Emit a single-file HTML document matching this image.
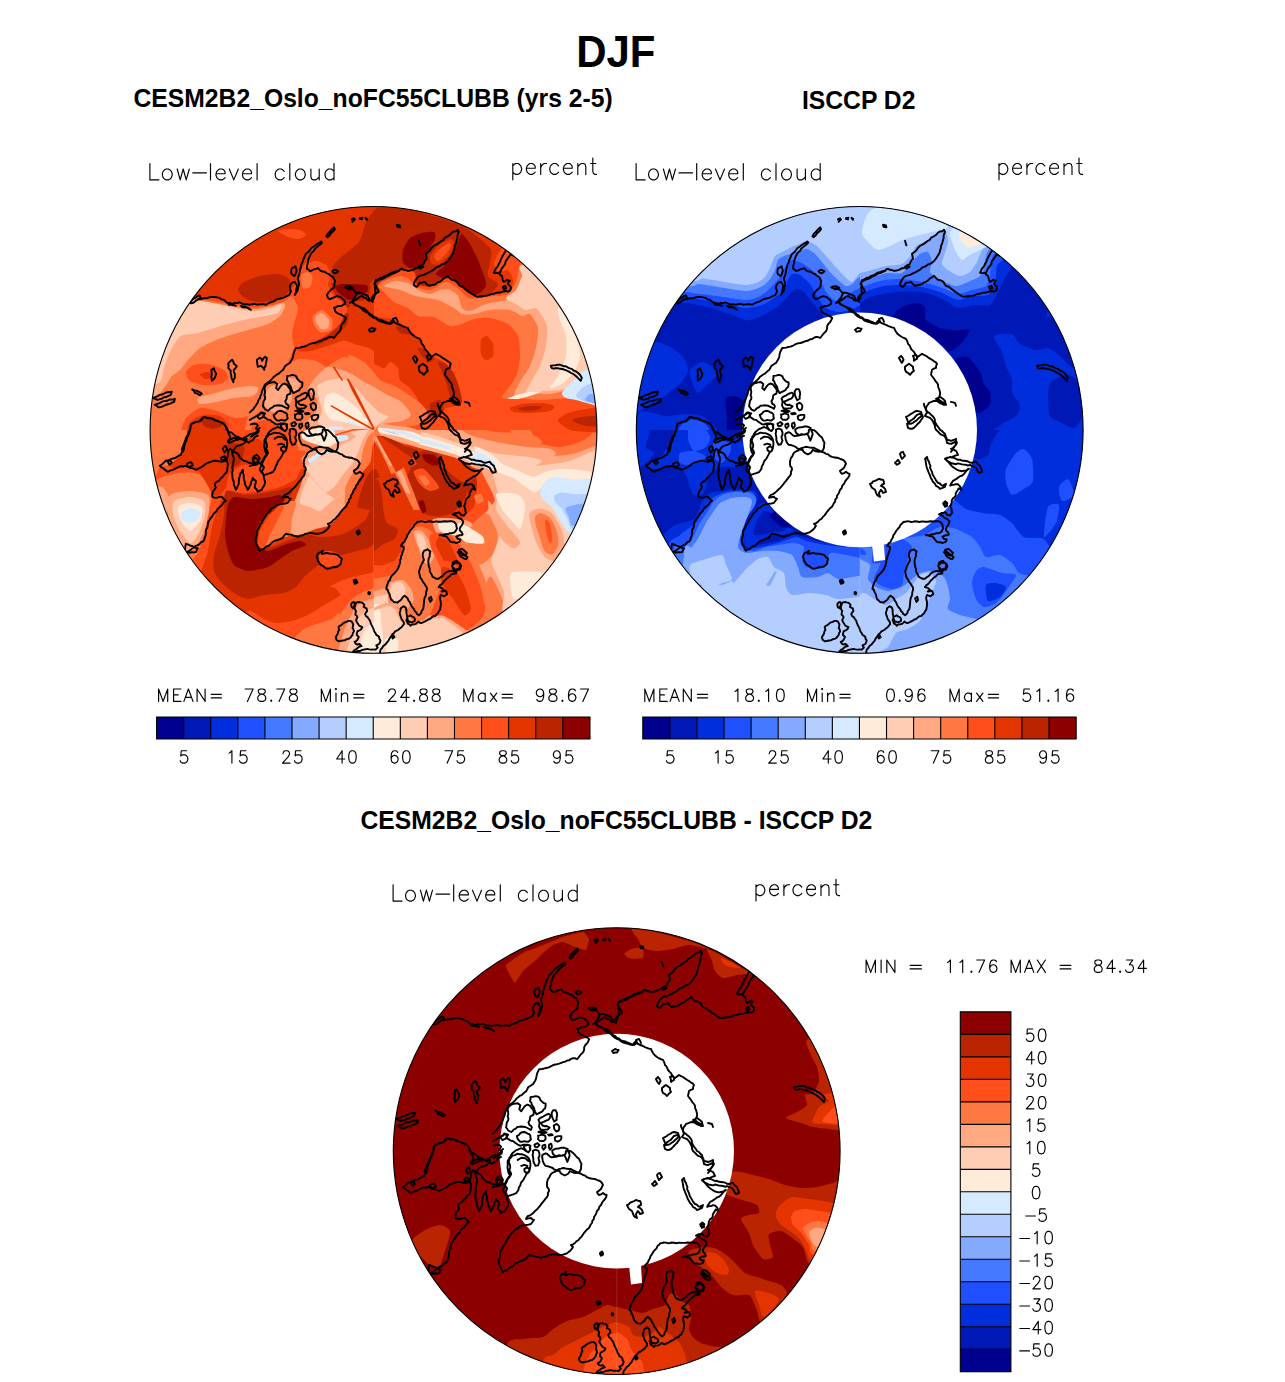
<!DOCTYPE html>
<html><head><meta charset="utf-8"><title>DJF Low-level cloud</title>
<style>
html,body{margin:0;padding:0;background:#fff;}
body{width:1285px;height:1382px;position:relative;overflow:hidden;font-family:"Liberation Sans",sans-serif;}
.t{position:absolute;font-weight:bold;color:#000;white-space:nowrap;line-height:1;}
svg{position:absolute;left:0;top:0;}
</style></head><body>
<svg width="1285" height="1382" viewBox="0 0 1285 1382">
<defs><clipPath id="clip0"><circle cx="373.5" cy="429.9" r="223.4"/></clipPath><clipPath id="clip1"><circle cx="859.7" cy="429.9" r="223.4"/></clipPath><clipPath id="clip2"><circle cx="616.7" cy="1151.1" r="223.4"/></clipPath>
</defs>
<rect width="1285" height="1382" fill="#fff"/>
<g clip-path="url(#clip0)"><path d="M140.0 196.0 L610.0 196.0 L610.0 664.0 L140.0 664.0Z" fill="#ff4e1a"/><clipPath id="ac1"><rect x="140" y="196" width="234" height="234"/></clipPath><g clip-path="url(#ac1)"><path d="M130.0 300.0C137.1 312.8 182.1 296.4 191.0 296.0C199.9 295.6 202.2 296.5 206.0 297.0C209.8 297.5 220.5 299.3 224.0 300.0C227.5 300.7 232.7 302.4 236.0 303.0C239.3 303.6 248.3 305.0 252.0 305.0C255.7 305.0 264.7 303.8 268.0 303.0C271.3 302.2 277.6 299.2 280.0 298.0C282.4 296.8 287.2 294.6 289.0 293.0C290.8 291.4 293.7 286.4 295.0 284.0C296.3 281.6 298.7 274.4 300.0 272.0C301.3 269.6 304.1 264.3 306.0 263.0C307.9 261.7 313.7 260.8 316.0 261.0C318.3 261.2 324.2 263.4 326.0 265.0C327.8 266.6 330.8 272.7 331.0 275.0C331.2 277.3 327.8 282.8 328.0 285.0C328.2 287.2 331.5 292.1 333.0 294.0C334.5 295.9 339.4 299.4 341.0 301.0C342.6 302.6 346.5 306.0 347.0 308.0C347.5 310.0 346.1 315.9 345.0 318.0C343.9 320.1 340.0 324.1 338.0 326.0C336.0 327.9 330.8 332.1 328.0 334.0C325.2 335.9 317.3 340.6 314.0 342.0C310.7 343.4 301.9 345.3 300.0 346.4C298.1 347.4 296.8 350.5 298.0 351.0C299.2 351.5 306.0 351.8 310.0 351.0C314.0 350.2 328.0 345.6 332.0 344.4C336.0 343.2 341.2 340.4 344.0 340.4C346.8 340.4 353.0 343.5 356.0 344.4C359.0 345.3 367.2 347.3 370.0 348.4C372.8 349.5 376.9 353.0 380.0 354.0C383.1 355.0 392.3 356.6 397.0 357.0C401.7 357.4 417.3 376.9 420.0 357.0C422.7 337.1 453.8 205.9 420.0 186.0C386.2 166.1 163.8 172.7 130.0 186.0C96.2 199.3 122.9 287.2 130.0 300.0Z" fill="#e43400"/><path d="M278.0 231.0C278.0 230.1 285.4 229.1 288.0 229.0C290.6 228.9 297.9 229.3 300.0 230.0C302.1 230.7 306.2 233.9 306.0 235.0C305.8 236.1 300.1 238.8 298.0 239.0C295.9 239.2 290.3 237.9 288.0 237.0C285.7 236.1 278.0 231.9 278.0 231.0Z" fill="#ff4e1a"/><path d="M238.0 290.0C237.8 288.0 241.4 283.6 244.0 282.0C246.6 280.4 256.0 276.9 260.0 276.0C264.0 275.1 274.7 273.8 278.0 274.0C281.3 274.2 286.5 276.6 288.0 278.0C289.5 279.4 291.1 284.1 291.0 286.0C290.9 287.9 288.8 292.4 287.0 294.0C285.2 295.6 279.1 299.1 276.0 300.0C272.9 300.9 263.5 302.1 260.0 302.0C256.5 301.9 248.6 300.4 246.0 299.0C243.4 297.6 238.2 292.0 238.0 290.0Z" fill="#ba2400"/><path d="M376.0 207.0C374.8 210.0 368.0 217.9 366.0 222.0C364.0 226.1 362.0 237.8 359.0 242.0C356.0 246.2 343.0 255.2 340.0 258.0C337.0 260.8 333.9 263.9 333.0 266.0C332.1 268.1 331.4 273.7 332.0 276.0C332.6 278.3 335.7 285.1 338.0 286.0C340.3 286.9 348.5 284.1 352.0 284.0C355.5 283.9 365.3 285.7 368.0 285.0C370.7 284.3 372.9 279.3 375.0 278.0C377.1 276.7 383.4 274.9 386.0 274.0C388.6 273.1 393.0 270.5 397.0 270.0C401.0 269.5 417.3 278.6 420.0 270.0C422.7 261.4 425.1 204.6 420.0 196.0C414.9 187.4 381.1 194.7 376.0 196.0C370.9 197.3 377.2 204.0 376.0 207.0Z" fill="#ba2400"/><path d="M332.0 284.0C332.8 282.6 337.8 282.0 342.0 282.0C346.2 282.0 364.7 282.8 368.0 284.0C371.3 285.2 370.5 290.1 370.0 292.0C369.5 293.9 366.1 298.8 364.0 300.0C361.9 301.2 353.9 301.1 352.0 302.0C350.1 302.9 349.2 308.2 348.0 308.0C346.8 307.8 343.5 301.6 342.0 300.0C340.5 298.4 336.2 295.9 335.0 294.0C333.8 292.1 331.2 285.4 332.0 284.0Z" fill="#ba2400"/><path d="M349.0 314.0C349.1 315.4 347.8 323.4 346.0 326.0C344.2 328.6 337.0 333.9 334.0 336.0C331.0 338.1 322.3 342.8 320.0 344.0C317.7 345.2 314.0 346.4 314.0 346.0C314.0 345.6 317.9 342.0 320.0 340.4C322.1 338.8 329.7 334.3 332.0 332.4C334.3 330.5 338.5 326.5 340.0 324.4C341.5 322.3 343.9 315.2 345.0 314.0C346.1 312.8 348.9 312.6 349.0 314.0Z" fill="#ba2400"/><path d="M335.0 287.0C335.2 285.8 338.4 284.2 342.0 284.0C345.6 283.8 363.1 284.1 366.0 285.0C368.9 285.9 368.2 290.7 367.0 292.0C365.8 293.3 358.1 295.1 356.0 296.0C353.9 296.9 350.9 300.2 349.0 300.0C347.1 299.8 341.6 295.5 340.0 294.0C338.4 292.5 334.8 288.2 335.0 287.0Z" fill="#8c0000"/><path d="M301.0 276.0C301.5 274.1 305.7 272.0 307.0 272.0C308.3 272.0 312.0 274.3 312.4 276.0C312.8 277.7 311.5 285.0 310.4 286.4C309.3 287.8 304.1 289.6 303.0 288.4C301.9 287.2 300.5 277.9 301.0 276.0Z" fill="#ff7842"/><path d="M313.0 316.0C314.0 314.4 319.8 309.6 322.0 310.0C324.2 310.4 330.9 316.7 332.0 319.0C333.1 321.3 332.4 328.5 331.0 330.0C329.6 331.5 322.0 332.7 320.0 332.0C318.0 331.3 314.4 325.9 313.6 324.0C312.8 322.1 312.0 317.6 313.0 316.0Z" fill="#ff7842"/><path d="M316.0 316.0C316.7 314.9 320.5 312.5 322.0 313.0C323.5 313.5 328.3 318.2 329.0 320.0C329.7 321.8 328.9 326.9 328.0 328.0C327.1 329.1 322.4 329.7 321.0 329.0C319.6 328.3 316.6 323.5 316.0 322.0C315.4 320.5 315.3 317.1 316.0 316.0Z" fill="#ffa882"/><path d="M130.0 298.4C137.1 280.4 180.5 297.9 191.0 298.4C201.5 298.9 212.9 301.3 220.0 302.4C227.1 303.4 246.2 307.0 252.0 307.4C257.8 307.8 266.3 306.1 270.0 305.4C273.7 304.7 281.4 302.4 284.0 301.4C286.6 300.3 290.4 295.6 292.0 296.4C293.6 297.2 297.8 304.8 298.0 308.0C298.2 311.2 294.7 320.7 294.0 324.0C293.3 327.3 292.0 333.2 292.0 336.0C292.0 338.8 294.5 345.0 294.0 348.0C293.5 351.0 289.6 359.2 288.0 362.0C286.4 364.8 282.3 370.4 280.0 372.0C277.7 373.6 270.3 374.6 268.0 376.0C265.7 377.4 261.4 381.7 260.0 384.0C258.6 386.3 256.9 393.2 256.0 396.0C255.1 398.8 252.9 405.7 252.0 408.0C251.1 410.3 249.9 414.8 248.0 416.0C246.1 417.2 238.8 418.2 236.0 418.0C233.2 417.8 226.6 414.9 224.0 414.0C221.4 413.1 216.8 410.7 214.0 410.0C211.2 409.3 203.3 407.1 200.0 408.0C196.7 408.9 188.3 415.2 186.0 418.0C183.7 420.8 181.9 427.9 180.0 432.0C178.1 436.1 175.8 450.6 170.0 453.0C164.2 455.4 134.7 471.0 130.0 453.0C125.3 435.0 122.9 316.4 130.0 298.4Z" fill="#ff7842"/><path d="M186.0 372.0C186.5 370.1 191.4 365.9 194.0 365.0C196.6 364.1 204.5 363.4 208.0 364.0C211.5 364.6 221.7 368.4 224.0 370.0C226.3 371.6 228.5 376.4 228.0 378.0C227.5 379.6 222.8 383.2 220.0 384.0C217.2 384.8 207.5 385.4 204.0 385.0C200.5 384.6 192.1 382.5 190.0 381.0C187.9 379.5 185.5 373.9 186.0 372.0Z" fill="#ff4e1a"/><path d="M200.0 374.4C200.2 373.6 206.6 371.8 208.0 372.0C209.4 372.2 212.6 375.2 212.4 376.0C212.2 376.8 207.4 379.4 206.0 379.2C204.6 379.0 199.8 375.2 200.0 374.4Z" fill="#e43400"/><path d="M130.0 300.4C137.1 289.2 180.5 299.9 191.0 300.4C201.5 300.9 212.9 303.3 220.0 304.4C227.1 305.4 246.2 309.1 252.0 309.4C257.8 309.7 266.4 307.6 270.0 306.8C273.6 306.0 281.2 302.4 283.0 302.4C284.8 302.4 285.4 304.8 285.0 306.4C284.6 308.0 282.0 313.9 280.0 316.0C278.0 318.1 271.3 322.5 268.0 324.0C264.7 325.5 256.0 327.8 252.0 329.0C248.0 330.2 238.2 332.7 234.0 334.0C229.8 335.3 220.0 338.4 216.0 340.0C212.0 341.6 203.3 345.7 200.0 348.0C196.7 350.3 190.3 357.4 188.0 360.0C185.7 362.6 181.9 368.1 180.0 370.0C178.1 371.9 173.9 373.9 172.0 376.0C170.1 378.1 165.9 385.7 164.0 388.0C162.1 390.3 160.0 395.1 156.0 396.0C152.0 396.9 133.0 407.2 130.0 396.0C127.0 384.8 122.9 311.6 130.0 300.4Z" fill="#ffa882"/><path d="M189.0 301.6C192.5 299.8 195.9 300.4 200.0 300.8C204.1 301.2 217.9 304.2 224.0 305.4C230.1 306.6 246.6 311.0 252.0 311.4C257.4 311.8 266.5 309.2 270.0 308.4C273.5 307.6 280.7 303.9 281.6 304.4C282.5 304.9 280.5 311.5 278.0 313.0C275.5 314.5 263.5 316.3 260.0 317.0C256.5 317.7 252.2 318.1 248.0 319.0C243.8 319.9 229.8 323.4 224.0 325.0C218.2 326.6 202.8 331.8 198.0 333.0C193.2 334.2 185.4 334.2 183.0 335.0C180.6 335.8 178.5 338.0 177.0 340.0C175.5 342.0 171.5 348.7 170.0 352.0C168.5 355.3 165.2 364.5 164.0 368.0C162.8 371.5 161.9 380.4 160.0 382.0C158.1 383.6 149.4 387.4 148.0 382.0C146.6 376.6 145.4 343.7 148.0 336.0C150.6 328.3 165.2 320.0 170.0 316.0C174.8 312.0 185.5 303.4 189.0 301.6Z" fill="#ffcdb4"/><path d="M198.0 398.0C199.9 396.7 211.8 394.2 216.0 393.0C220.2 391.8 229.8 388.8 234.0 388.0C238.2 387.2 249.0 385.9 252.0 386.0C255.0 386.1 260.0 387.8 260.0 389.0C260.0 390.2 255.0 394.9 252.0 396.0C249.0 397.1 238.2 397.3 234.0 398.0C229.8 398.7 220.0 401.3 216.0 402.0C212.0 402.7 202.1 404.5 200.0 404.0C197.9 403.5 196.1 399.3 198.0 398.0Z" fill="#ffa882"/><path d="M252.0 408.0C253.4 404.3 258.1 387.7 260.0 384.0C261.9 380.3 265.7 377.4 268.0 376.0C270.3 374.6 277.2 373.6 280.0 372.0C282.8 370.4 289.7 363.5 292.0 362.0C294.3 360.5 297.2 359.1 300.0 359.0C302.8 358.9 312.3 359.5 316.0 361.0C319.7 362.5 329.0 368.9 332.0 372.0C335.0 375.1 340.8 378.6 342.0 388.0C343.2 397.4 353.0 445.4 342.0 453.0C331.0 460.6 259.0 457.3 248.0 453.0C237.0 448.7 247.5 421.2 248.0 416.0C248.5 410.8 250.6 411.7 252.0 408.0Z" fill="#ff7842"/><path d="M268.0 388.0C270.3 385.7 281.2 382.8 284.0 384.0C286.8 385.2 291.9 395.0 292.0 398.0C292.1 401.0 287.3 408.4 285.0 410.0C282.7 411.6 274.4 412.7 272.0 412.0C269.6 411.3 264.5 406.8 264.0 404.0C263.5 401.2 265.7 390.3 268.0 388.0Z" fill="#ffa882"/><path d="M288.0 378.0C288.9 377.1 296.6 379.1 298.0 380.0C299.4 380.9 300.5 384.5 300.0 386.0C299.5 387.5 295.2 392.8 294.0 393.0C292.8 393.2 290.7 389.8 290.0 388.0C289.3 386.2 287.1 378.9 288.0 378.0Z" fill="#ffa882"/><path d="M252.0 426.0C253.4 422.1 260.7 420.0 264.0 420.0C267.3 420.0 277.7 423.7 280.0 426.0C282.3 428.3 284.5 436.9 284.0 440.0C283.5 443.1 279.7 451.5 276.0 453.0C272.3 454.5 254.8 456.1 252.0 453.0C249.2 449.9 250.6 429.9 252.0 426.0Z" fill="#ff4e1a"/><path d="M190.0 422.0C192.1 419.6 200.5 415.7 204.0 415.0C207.5 414.3 217.2 414.9 220.0 416.0C222.8 417.1 226.8 421.7 228.0 424.0C229.2 426.3 228.1 433.9 230.0 436.0C231.9 438.1 241.4 440.0 244.0 442.0C246.6 444.0 259.5 451.7 252.0 453.0C244.5 454.3 187.7 455.0 180.0 453.0C172.3 451.0 184.8 439.6 186.0 436.0C187.2 432.4 187.9 424.4 190.0 422.0Z" fill="#e43400"/><path d="M202.0 419.0C203.4 418.1 213.7 417.6 216.0 418.4C218.3 419.2 222.5 424.8 222.0 426.0C221.5 427.2 214.1 429.0 212.0 429.0C209.9 429.0 205.2 427.2 204.0 426.0C202.8 424.8 200.6 419.9 202.0 419.0Z" fill="#ba2400"/></g><clipPath id="ac2"><rect x="374" y="196" width="236" height="234"/></clipPath><g clip-path="url(#ac2)"><path d="M340.0 294.0C342.6 306.8 358.3 295.2 362.0 296.0C365.7 296.8 370.2 301.7 372.0 301.0C373.8 300.3 376.1 292.2 377.0 290.0C377.9 287.8 378.0 283.8 380.0 282.0C382.0 280.2 391.0 276.0 394.0 274.4C397.0 272.8 403.6 268.6 406.0 268.4C408.4 268.2 413.7 271.2 415.0 273.0C416.3 274.8 415.2 282.4 417.0 284.0C418.8 285.6 426.6 287.1 430.0 286.4C433.4 285.7 442.7 278.6 446.0 278.4C449.3 278.2 455.2 282.5 458.0 284.4C460.8 286.3 467.4 293.0 470.0 294.4C472.6 295.8 477.2 296.2 480.0 296.0C482.8 295.8 490.5 293.1 494.0 292.4C497.5 291.7 507.8 291.8 510.0 290.4C512.2 289.0 513.2 282.3 513.0 280.0C512.8 277.7 509.6 271.3 508.0 270.4C506.4 269.5 500.6 272.7 499.0 272.0C497.4 271.3 494.1 266.1 494.0 264.0C493.9 261.9 496.8 256.1 498.0 254.0C499.2 251.9 502.6 247.4 504.0 246.0C505.4 244.6 507.0 243.2 510.0 242.0C513.0 240.8 527.7 242.5 530.0 236.0C532.3 229.5 552.2 191.8 530.0 186.0C507.8 180.2 362.2 173.4 340.0 186.0C317.8 198.6 337.4 281.2 340.0 294.0Z" fill="#e43400"/><path d="M368.0 220.0C369.4 216.7 373.1 209.2 378.0 208.0C382.9 206.8 400.2 207.9 410.0 210.0C419.8 212.1 452.7 221.6 462.0 226.0C471.3 230.4 486.7 243.8 490.0 248.0C493.3 252.2 490.2 258.7 490.0 262.0C489.8 265.3 487.1 273.4 488.0 276.0C488.9 278.6 497.8 281.9 498.0 284.0C498.2 286.1 492.8 292.7 490.0 294.0C487.2 295.3 477.7 296.2 474.0 295.0C470.3 293.8 461.3 286.0 458.0 284.0C454.7 282.0 449.3 277.8 446.0 278.0C442.7 278.2 433.4 285.3 430.0 286.0C426.6 286.7 418.8 285.5 417.0 284.0C415.2 282.5 416.3 274.8 415.0 273.0C413.7 271.2 408.4 268.2 406.0 268.4C403.6 268.6 397.0 272.8 394.0 274.4C391.0 276.0 382.0 280.2 380.0 282.0C378.0 283.8 377.9 287.8 377.0 290.0C376.1 292.2 373.8 300.3 372.0 301.0C370.2 301.7 364.6 296.8 362.0 296.0C359.4 295.2 352.6 294.5 350.0 294.0C347.4 293.5 341.2 294.6 340.0 292.0C338.8 289.4 338.8 274.6 340.0 272.0C341.2 269.4 347.9 271.9 350.0 270.0C352.1 268.1 356.1 260.0 358.0 256.0C359.9 252.0 364.8 240.2 366.0 236.0C367.2 231.8 366.6 223.3 368.0 220.0Z" fill="#ba2400"/><path d="M403.0 250.0C403.8 247.2 407.8 240.0 410.0 238.0C412.2 236.0 419.2 233.7 422.0 233.0C424.8 232.3 432.5 231.3 434.0 232.0C435.5 232.7 435.5 237.1 435.0 239.0C434.5 240.9 431.1 245.8 430.0 248.0C428.9 250.2 427.2 255.9 426.0 258.0C424.8 260.1 421.9 264.8 420.0 266.0C418.1 267.2 412.0 268.5 410.0 268.0C408.0 267.5 403.8 264.1 403.0 262.0C402.2 259.9 402.2 252.8 403.0 250.0Z" fill="#8c0000"/><path d="M436.0 274.0C436.0 272.6 442.1 268.1 444.0 266.0C445.9 263.9 450.2 259.0 452.0 256.0C453.8 253.0 457.8 242.6 459.0 240.0C460.2 237.4 460.7 233.5 462.0 234.0C463.3 234.5 468.1 241.0 470.0 244.0C471.9 247.0 476.4 256.3 478.0 260.0C479.6 263.7 483.1 273.0 484.0 276.0C484.9 279.0 486.7 283.9 486.0 286.0C485.3 288.1 479.9 293.1 478.0 294.0C476.1 294.9 472.3 295.2 470.0 294.0C467.7 292.8 460.3 286.1 458.0 284.0C455.7 281.9 451.6 276.7 450.0 276.0C448.4 275.3 445.6 278.2 444.0 278.0C442.4 277.8 436.0 275.4 436.0 274.0Z" fill="#8c0000"/><path d="M430.0 256.0C430.7 253.9 435.7 248.0 438.0 246.0C440.3 244.0 448.1 239.5 450.0 239.0C451.9 238.5 454.0 240.2 454.0 242.0C454.0 243.8 451.6 251.4 450.0 254.0C448.4 256.6 442.1 262.8 440.0 264.0C437.9 265.2 433.2 264.9 432.0 264.0C430.8 263.1 429.3 258.1 430.0 256.0Z" fill="#e43400"/><path d="M434.0 256.0C434.2 254.6 438.2 250.5 440.0 249.0C441.8 247.5 447.7 243.3 449.0 243.0C450.3 242.7 451.4 244.7 451.0 246.0C450.6 247.3 447.5 252.2 446.0 254.0C444.5 255.8 439.4 260.8 438.0 261.0C436.6 261.2 433.8 257.4 434.0 256.0Z" fill="#ff4e1a"/><path d="M346.0 284.0C347.4 283.2 355.7 284.3 358.0 285.0C360.3 285.7 364.9 288.7 366.0 290.0C367.1 291.3 367.9 295.3 367.0 296.0C366.1 296.7 360.4 296.5 358.0 296.0C355.6 295.5 347.4 293.4 346.0 292.0C344.6 290.6 344.6 284.8 346.0 284.0Z" fill="#8c0000"/><path d="M378.0 285.0C378.7 283.4 387.2 279.4 390.0 278.4C392.8 277.3 399.7 275.8 402.0 276.0C404.3 276.2 408.4 278.8 410.0 280.0C411.6 281.2 413.7 285.2 416.0 286.4C418.3 287.6 426.5 290.5 430.0 290.0C433.5 289.5 442.7 282.2 446.0 282.0C449.3 281.8 455.2 286.5 458.0 288.4C460.8 290.3 466.3 297.5 470.0 298.4C473.7 299.3 485.6 296.9 490.0 296.4C494.4 295.9 505.0 295.7 508.0 294.0C511.0 292.3 514.4 285.7 516.0 282.0C517.6 278.3 518.0 265.0 522.0 262.0C526.0 259.0 537.4 256.7 550.0 256.0C562.6 255.3 620.7 239.4 630.0 256.0C639.3 272.6 637.0 381.4 630.0 398.0C623.0 414.6 580.5 397.8 570.0 398.0C559.5 398.2 545.8 400.0 540.0 400.0C534.2 400.0 523.7 398.1 520.0 398.0C516.3 397.9 510.1 399.1 508.0 399.0C505.9 398.9 501.8 398.5 502.0 397.0C502.2 395.5 508.2 388.7 510.0 386.0C511.8 383.3 515.8 377.5 517.0 374.0C518.2 370.5 519.9 360.4 520.0 356.0C520.1 351.6 519.4 339.7 518.0 336.0C516.6 332.3 511.3 326.1 508.0 324.0C504.7 321.9 494.0 318.6 490.0 318.0C486.0 317.4 477.3 318.3 474.0 319.0C470.7 319.7 464.8 323.2 462.0 324.0C459.2 324.8 453.3 326.8 450.0 326.0C446.7 325.2 437.7 318.2 434.0 317.0C430.3 315.8 421.0 317.1 418.0 316.0C415.0 314.9 410.8 309.6 408.0 308.0C405.2 306.4 396.8 303.9 394.0 302.0C391.2 300.1 385.9 294.0 384.0 292.0C382.1 290.0 377.3 286.6 378.0 285.0Z" fill="#ff7842"/><path d="M384.0 286.0C383.5 284.9 393.0 281.2 396.0 281.0C399.0 280.8 407.4 282.9 410.0 284.0C412.6 285.1 415.7 288.8 418.0 290.0C420.3 291.2 427.4 294.0 430.0 294.0C432.6 294.0 437.7 290.5 440.0 290.0C442.3 289.5 447.9 289.3 450.0 290.0C452.1 290.7 456.6 293.9 458.0 296.0C459.4 298.1 460.6 306.2 462.0 308.0C463.4 309.8 467.2 311.5 470.0 311.0C472.8 310.5 481.8 305.3 486.0 304.0C490.2 302.7 502.3 301.6 506.0 300.0C509.7 298.4 515.9 292.8 518.0 290.0C520.1 287.2 522.6 278.8 524.0 276.0C525.4 273.2 517.6 267.2 530.0 266.0C542.4 264.8 618.3 252.0 630.0 266.0C641.7 280.0 635.8 371.8 630.0 386.0C624.2 400.2 589.3 387.1 580.0 388.0C570.7 388.9 555.8 393.4 550.0 394.0C544.2 394.6 534.2 392.8 530.0 393.0C525.8 393.2 515.2 397.3 514.0 396.0C512.8 394.7 518.1 385.5 520.0 382.0C521.9 378.5 528.1 370.0 530.0 366.0C531.9 362.0 535.1 352.4 536.0 348.0C536.9 343.6 538.7 332.0 538.0 328.0C537.3 324.0 531.9 315.4 530.0 314.0C528.1 312.6 524.3 316.5 522.0 316.0C519.7 315.5 513.7 310.7 510.0 310.0C506.3 309.3 494.2 309.5 490.0 310.0C485.8 310.5 477.3 313.5 474.0 314.0C470.7 314.5 464.3 314.7 462.0 314.0C459.7 313.3 456.8 309.6 454.0 308.0C451.2 306.4 442.4 301.4 438.0 300.0C433.6 298.6 420.4 297.2 416.0 296.0C411.6 294.8 403.7 291.2 400.0 290.0C396.3 288.8 384.5 287.1 384.0 286.0Z" fill="#ffa882"/><path d="M506.0 298.0C506.0 296.4 514.1 292.6 516.0 290.0C517.9 287.4 520.8 279.0 522.0 276.0C523.2 273.0 513.4 265.4 526.0 264.0C538.6 262.6 617.9 250.0 630.0 264.0C642.1 278.0 635.8 369.8 630.0 384.0C624.2 398.2 588.2 385.3 580.0 386.0C571.8 386.7 564.7 389.4 560.0 390.0C555.3 390.6 544.0 390.6 540.0 391.0C536.0 391.4 527.2 393.8 526.0 393.0C524.8 392.2 528.4 387.1 530.0 384.0C531.6 380.9 538.1 370.4 540.0 366.0C541.9 361.6 545.2 350.7 546.0 346.0C546.8 341.3 547.5 329.5 547.0 326.0C546.5 322.5 543.3 318.1 542.0 316.0C540.7 313.9 537.9 308.7 536.0 308.0C534.1 307.3 528.3 310.5 526.0 310.0C523.7 309.5 518.3 305.4 516.0 304.0C513.7 302.6 506.0 299.6 506.0 298.0Z" fill="#ffcdb4"/><path d="M558.0 308.0C558.9 307.5 565.9 312.7 568.0 316.0C570.1 319.3 574.6 331.3 576.0 336.0C577.4 340.7 580.2 351.8 580.0 356.0C579.8 360.2 576.1 368.7 574.0 372.0C571.9 375.3 564.8 382.1 562.0 384.0C559.2 385.9 550.5 388.9 550.0 388.0C549.5 387.1 556.1 379.7 558.0 376.0C559.9 372.3 565.1 360.7 566.0 356.0C566.9 351.3 566.7 340.2 566.0 336.0C565.3 331.8 560.9 323.3 560.0 320.0C559.1 316.7 557.1 308.5 558.0 308.0Z" fill="#ffebd9"/><path d="M350.0 304.0C354.2 305.4 369.1 314.2 374.0 316.0C378.9 317.8 388.0 317.6 392.0 319.0C396.0 320.4 404.9 325.6 408.0 328.0C411.1 330.4 416.6 337.0 419.0 340.0C421.4 343.0 426.1 351.4 429.0 354.0C431.9 356.6 441.2 359.9 444.0 362.0C446.8 364.1 451.2 369.2 453.0 372.0C454.8 374.8 457.9 382.5 459.0 386.0C460.1 389.5 462.6 399.7 462.0 402.0C461.4 404.3 456.1 405.2 454.0 406.0C451.9 406.8 445.6 407.8 444.0 409.0C442.4 410.2 441.6 414.9 440.0 416.0C438.4 417.1 432.3 417.4 430.0 418.0C427.7 418.6 421.6 421.7 420.0 421.0C418.4 420.3 416.2 414.4 416.0 412.0C415.8 409.6 418.7 402.8 418.0 400.0C417.3 397.2 412.1 390.3 410.0 388.0C407.9 385.7 401.4 382.3 400.0 380.0C398.6 377.7 399.2 370.1 398.0 368.0C396.8 365.9 391.6 362.0 390.0 362.0C388.4 362.0 386.3 368.0 384.0 368.0C381.7 368.0 374.0 363.2 370.0 362.0C366.0 360.8 353.7 358.5 350.0 358.0C346.3 357.5 339.4 364.3 338.0 358.0C336.6 351.7 336.6 310.3 338.0 304.0C339.4 297.7 345.8 302.6 350.0 304.0Z" fill="#e43400"/><path d="M438.0 362.0C438.5 361.1 444.1 362.6 446.0 364.0C447.9 365.4 452.5 371.2 454.0 374.0C455.5 376.8 458.1 384.7 459.0 388.0C459.9 391.3 462.6 399.9 462.0 402.0C461.4 404.1 455.4 406.7 454.0 406.0C452.6 405.3 450.9 398.8 450.0 396.0C449.1 393.2 446.9 384.8 446.0 382.0C445.1 379.2 442.9 374.3 442.0 372.0C441.1 369.7 437.5 362.9 438.0 362.0Z" fill="#ba2400"/><path d="M430.0 404.0C430.9 402.1 438.4 399.4 440.0 400.0C441.6 400.6 444.0 407.1 444.0 409.0C444.0 410.9 441.4 415.2 440.0 416.0C438.6 416.8 433.2 417.4 432.0 416.0C430.8 414.6 429.1 405.9 430.0 404.0Z" fill="#ba2400"/><path d="M396.0 326.0C396.9 325.5 406.4 328.1 408.0 329.0C409.6 329.9 410.9 333.5 410.0 334.0C409.1 334.5 401.6 333.9 400.0 333.0C398.4 332.1 395.1 326.5 396.0 326.0Z" fill="#ba2400"/><path d="M418.0 348.0C418.5 347.3 424.1 348.8 426.0 350.0C427.9 351.2 433.5 356.6 434.0 358.0C434.5 359.4 431.4 362.2 430.0 362.0C428.6 361.8 423.4 357.6 422.0 356.0C420.6 354.4 417.5 348.7 418.0 348.0Z" fill="#ba2400"/><path d="M481.0 340.0C481.7 337.9 485.6 335.5 487.0 336.0C488.4 336.5 492.3 341.7 493.0 344.0C493.7 346.3 493.8 354.1 493.0 356.0C492.2 357.9 487.4 360.2 486.0 360.0C484.6 359.8 481.6 356.3 481.0 354.0C480.4 351.7 480.3 342.1 481.0 340.0Z" fill="#e43400"/><path d="M510.0 408.0C510.9 407.1 518.3 404.6 522.0 404.0C525.7 403.4 538.3 402.8 542.0 403.0C545.7 403.2 553.1 405.1 554.0 406.0C554.9 406.9 552.8 410.2 550.0 411.0C547.2 411.8 534.2 412.9 530.0 413.0C525.8 413.1 516.3 412.6 514.0 412.0C511.7 411.4 509.1 408.9 510.0 408.0Z" fill="#e43400"/><path d="M518.0 408.4C518.5 407.8 527.2 406.2 530.0 406.0C532.8 405.8 541.1 406.0 542.0 406.4C542.9 406.8 539.9 409.1 538.0 409.6C536.1 410.1 528.3 411.1 526.0 411.0C523.7 410.9 517.5 409.0 518.0 408.4Z" fill="#ba2400"/><path d="M558.0 421.0C557.5 419.1 563.4 415.3 566.0 414.0C568.6 412.7 575.2 410.7 580.0 410.0C584.8 409.3 603.9 405.4 607.0 408.0C610.1 410.6 609.0 429.2 607.0 432.0C605.0 434.8 594.3 432.2 590.0 432.0C585.7 431.8 573.7 431.3 570.0 430.0C566.3 428.7 558.5 422.9 558.0 421.0Z" fill="#e43400"/><path d="M572.0 420.6C571.5 419.6 577.9 417.5 582.0 417.0C586.1 416.5 604.1 414.9 607.0 416.0C609.9 417.1 609.5 424.8 607.0 426.0C604.5 427.2 590.1 426.6 586.0 426.0C581.9 425.4 572.5 421.7 572.0 420.6Z" fill="#ba2400"/><path d="M508.0 398.4C508.2 397.8 517.4 394.7 520.0 394.0C522.6 393.3 527.4 392.3 530.0 392.0C532.6 391.7 542.0 391.1 542.0 391.6C542.0 392.1 532.8 395.1 530.0 396.0C527.2 396.9 520.6 398.7 518.0 399.0C515.4 399.3 507.8 399.0 508.0 398.4Z" fill="#ffebd9"/><path d="M562.0 393.0C562.5 391.4 567.9 386.2 570.0 384.0C572.1 381.8 578.1 375.6 580.0 374.0C581.9 372.4 583.9 369.8 586.0 370.0C588.1 370.2 595.5 373.0 598.0 376.0C600.5 379.0 606.0 392.3 607.0 396.0C608.0 399.7 609.0 407.1 607.0 408.0C605.0 408.9 593.6 404.9 590.0 404.0C586.4 403.1 578.8 400.7 576.0 400.0C573.2 399.3 567.6 398.8 566.0 398.0C564.4 397.2 561.5 394.6 562.0 393.0Z" fill="#d6eaff"/><path d="M576.0 396.0C575.5 394.4 580.4 389.4 582.0 388.0C583.6 386.6 588.1 384.0 590.0 384.0C591.9 384.0 596.6 385.7 598.0 388.0C599.4 390.3 603.4 402.4 602.0 404.0C600.6 405.6 589.0 402.9 586.0 402.0C583.0 401.1 576.5 397.6 576.0 396.0Z" fill="#b4ceff"/><path d="M585.0 400.0C584.1 398.8 588.7 394.5 590.0 394.0C591.3 393.5 595.1 394.8 596.0 396.0C596.9 397.2 599.3 403.5 598.0 404.0C596.7 404.5 585.9 401.2 585.0 400.0Z" fill="#84aaff"/><path d="M348.1 356.5C348.1 352.1 360.3 359.8 363.2 361.5C366.1 363.3 371.2 369.4 373.2 371.6C375.2 373.7 378.1 378.6 380.7 380.3C383.4 382.1 391.4 384.1 395.8 386.6C400.1 389.1 414.5 398.4 418.3 401.6C422.1 404.8 428.3 411.5 428.3 414.2C428.3 416.8 420.9 422.7 418.3 424.2C415.7 425.6 409.3 426.1 405.8 426.7C402.3 427.3 392.0 428.8 388.2 429.2C384.4 429.6 376.1 434.0 373.2 430.5C370.3 426.9 366.1 407.8 363.2 399.1C360.3 390.5 348.1 360.9 348.1 356.5Z" fill="#ff7842"/><path d="M351.9 362.8C351.9 359.9 360.7 371.3 363.2 374.1C365.7 376.8 370.6 384.3 373.2 386.6C375.8 388.9 382.5 392.4 385.7 394.1C388.9 395.9 397.8 399.3 400.8 401.6C403.7 404.0 410.5 412.0 410.8 414.2C411.1 416.4 405.9 419.4 403.3 420.4C400.6 421.5 391.2 422.4 388.2 422.9C385.3 423.5 379.8 424.6 378.2 425.4C376.6 426.3 375.6 430.0 374.5 430.5C373.3 430.9 369.5 432.9 368.2 429.2C366.9 425.5 365.1 406.9 363.2 399.1C361.3 391.4 351.9 365.7 351.9 362.8Z" fill="#ffa882"/></g><clipPath id="ac3"><rect x="140" y="430" width="234" height="234"/></clipPath><g clip-path="url(#ac3)"><path d="M140.0 405.0C145.4 395.9 180.2 403.4 186.0 405.0C191.8 406.6 190.0 415.3 190.0 419.0C190.0 422.7 187.2 432.8 186.0 437.0C184.8 441.2 181.9 451.7 180.0 455.0C178.1 458.3 172.3 463.6 170.0 465.0C167.7 466.4 162.1 464.9 160.0 467.0C157.9 469.1 154.3 481.1 152.0 483.0C149.7 484.9 141.4 492.1 140.0 483.0C138.6 473.9 134.6 414.1 140.0 405.0Z" fill="#ff7842"/><path d="M190.0 421.0C192.1 418.4 200.5 415.0 204.0 415.0C207.5 415.0 217.2 418.9 220.0 421.0C222.8 423.1 225.2 430.7 228.0 433.0C230.8 435.3 241.2 440.5 244.0 441.0C246.8 441.5 249.7 436.8 252.0 437.0C254.3 437.2 262.1 441.1 264.0 443.0C265.9 444.9 268.5 450.4 268.0 453.0C267.5 455.6 262.8 463.6 260.0 465.0C257.2 466.4 247.5 464.1 244.0 465.0C240.5 465.9 232.1 470.4 230.0 473.0C227.9 475.6 227.2 484.4 226.0 487.0C224.8 489.6 221.6 494.1 220.0 495.0C218.4 495.9 213.4 495.9 212.0 495.0C210.6 494.1 209.4 489.6 208.0 487.0C206.6 484.4 202.3 475.3 200.0 473.0C197.7 470.7 190.8 467.5 188.0 467.0C185.2 466.5 178.1 469.2 176.0 469.0C173.9 468.8 169.5 466.6 170.0 465.0C170.5 463.4 178.1 458.3 180.0 455.0C181.9 451.7 184.8 441.0 186.0 437.0C187.2 433.0 187.9 423.6 190.0 421.0Z" fill="#e43400"/><path d="M202.0 419.0C203.4 418.3 213.7 418.1 216.0 419.0C218.3 419.9 222.5 425.8 222.0 427.0C221.5 428.2 214.1 429.2 212.0 429.0C209.9 428.8 205.2 426.2 204.0 425.0C202.8 423.8 200.6 419.7 202.0 419.0Z" fill="#ba2400"/><path d="M228.0 443.0C229.9 441.6 242.6 444.7 244.0 447.0C245.4 449.3 241.4 460.7 240.0 463.0C238.6 465.3 233.4 467.5 232.0 467.0C230.6 466.5 228.5 461.8 228.0 459.0C227.5 456.2 226.1 444.4 228.0 443.0Z" fill="#ba2400"/><path d="M208.0 551.0C209.4 544.0 210.6 532.6 212.0 527.0C213.4 521.4 218.1 507.2 220.0 503.0C221.9 498.8 225.2 492.2 228.0 491.0C230.8 489.8 239.8 493.0 244.0 493.0C248.2 493.0 259.8 491.7 264.0 491.0C268.2 490.3 276.3 488.4 280.0 487.0C283.7 485.6 293.0 481.3 296.0 479.0C299.0 476.7 297.8 468.4 306.0 467.0C314.2 465.6 357.4 466.8 366.0 467.0C374.6 467.2 376.4 468.3 380.0 469.0C383.6 469.7 395.0 462.5 397.0 473.0C399.0 483.5 398.5 548.0 397.0 559.0C395.5 570.0 387.1 565.4 384.0 567.0C380.9 568.6 373.7 571.8 370.0 573.0C366.3 574.2 356.0 575.8 352.0 577.0C348.0 578.2 339.7 581.1 336.0 583.0C332.3 584.9 323.5 590.7 320.0 593.0C316.5 595.3 309.3 601.1 306.0 603.0C302.7 604.9 295.5 608.1 292.0 609.0C288.5 609.9 279.7 610.3 276.0 611.0C272.3 611.7 263.3 615.0 260.0 615.0C256.7 615.0 250.8 609.6 248.0 611.0C245.2 612.4 241.6 629.8 236.0 627.0C230.4 624.2 203.3 595.9 200.0 587.0C196.7 578.1 206.6 558.0 208.0 551.0Z" fill="#e43400"/><path d="M226.0 491.0C228.3 488.7 239.6 494.8 244.0 495.0C248.4 495.2 259.8 493.6 264.0 493.0C268.2 492.4 277.0 490.7 280.0 490.0C283.0 489.3 288.6 486.6 290.0 487.0C291.4 487.4 292.7 491.4 292.0 493.0C291.3 494.6 285.4 499.4 284.0 501.0C282.6 502.6 281.9 505.4 280.0 507.0C278.1 508.6 270.1 513.1 268.0 515.0C265.9 516.9 263.2 520.7 262.0 523.0C260.8 525.3 258.2 532.2 258.0 535.0C257.8 537.8 258.4 545.6 260.0 547.0C261.6 548.4 268.3 547.9 272.0 547.0C275.7 546.1 287.8 540.4 292.0 539.0C296.2 537.6 304.7 535.2 308.0 535.0C311.3 534.8 316.3 537.0 320.0 537.0C323.7 537.0 335.8 536.2 340.0 535.0C344.2 533.8 353.0 528.9 356.0 527.0C359.0 525.1 364.1 521.8 366.0 519.0C367.9 516.2 371.1 506.7 372.0 503.0C372.9 499.3 373.3 490.5 374.0 487.0C374.7 483.5 376.6 474.6 378.0 473.0C379.4 471.4 384.8 470.9 386.0 473.0C387.2 475.1 388.0 486.1 388.0 491.0C388.0 495.9 386.9 509.9 386.0 515.0C385.1 520.1 381.9 531.3 380.0 535.0C378.1 538.7 373.5 544.9 370.0 547.0C366.5 549.1 354.7 551.6 350.0 553.0C345.3 554.4 334.0 557.4 330.0 559.0C326.0 560.6 319.0 564.9 316.0 567.0C313.0 569.1 306.3 574.7 304.0 577.0C301.7 579.3 298.3 585.1 296.0 587.0C293.7 588.9 287.7 592.1 284.0 593.0C280.3 593.9 268.2 594.3 264.0 595.0C259.8 595.7 251.5 599.2 248.0 599.0C244.5 598.8 237.0 594.9 234.0 593.0C231.0 591.1 224.3 585.6 222.0 583.0C219.7 580.4 214.9 574.3 214.0 571.0C213.1 567.7 213.3 559.2 214.0 555.0C214.7 550.8 218.8 539.7 220.0 535.0C221.2 530.3 223.3 520.1 224.0 515.0C224.7 509.9 223.7 493.3 226.0 491.0Z" fill="#ba2400"/><path d="M234.0 497.0C236.8 496.3 247.8 499.0 252.0 499.0C256.2 499.0 266.7 497.5 270.0 497.0C273.3 496.5 278.4 494.5 280.0 495.0C281.6 495.5 284.9 499.4 284.0 501.0C283.1 502.6 274.6 506.9 272.0 509.0C269.4 511.1 263.9 516.4 262.0 519.0C260.1 521.6 256.5 528.0 256.0 531.0C255.5 534.0 256.6 542.7 258.0 545.0C259.4 547.3 265.0 551.0 268.0 551.0C271.0 551.0 280.3 546.2 284.0 545.0C287.7 543.8 297.4 541.0 300.0 541.0C302.6 541.0 306.9 543.8 306.0 545.0C305.1 546.2 295.0 549.4 292.0 551.0C289.0 552.6 282.8 557.1 280.0 559.0C277.2 560.9 271.7 565.6 268.0 567.0C264.3 568.4 252.0 571.2 248.0 571.0C244.0 570.8 236.3 567.3 234.0 565.0C231.7 562.7 229.1 554.5 228.0 551.0C226.9 547.5 225.2 538.7 225.0 535.0C224.8 531.3 225.7 522.5 226.0 519.0C226.3 515.5 227.1 507.6 228.0 505.0C228.9 502.4 231.2 497.7 234.0 497.0Z" fill="#8c0000"/><path d="M152.0 483.0C156.7 476.7 174.4 473.9 180.0 473.0C185.6 472.1 196.3 472.4 200.0 475.0C203.7 477.6 211.1 490.8 212.0 495.0C212.9 499.2 208.7 506.8 208.0 511.0C207.3 515.2 206.9 526.8 206.0 531.0C205.1 535.2 201.6 543.7 200.0 547.0C198.4 550.3 196.7 557.6 192.0 559.0C187.3 560.4 166.1 562.7 160.0 559.0C153.9 555.3 140.9 535.9 140.0 527.0C139.1 518.1 147.3 489.3 152.0 483.0Z" fill="#ff7842"/><path d="M170.0 495.0C172.6 492.2 185.6 491.0 190.0 491.0C194.4 491.0 205.8 492.7 208.0 495.0C210.2 497.3 209.5 506.8 209.0 511.0C208.5 515.2 205.5 526.8 204.0 531.0C202.5 535.2 198.1 544.7 196.0 547.0C193.9 549.3 188.6 552.4 186.0 551.0C183.4 549.6 176.1 539.2 174.0 535.0C171.9 530.8 168.5 519.7 168.0 515.0C167.5 510.3 167.4 497.8 170.0 495.0Z" fill="#ffa882"/><path d="M174.0 501.0C176.0 498.9 186.5 497.0 190.0 497.0C193.5 497.0 202.2 498.9 204.0 501.0C205.8 503.1 205.7 511.0 205.0 515.0C204.3 519.0 199.8 531.7 198.0 535.0C196.2 538.3 192.1 543.5 190.0 543.0C187.9 542.5 182.0 534.3 180.0 531.0C178.0 527.7 173.7 518.5 173.0 515.0C172.3 511.5 172.0 503.1 174.0 501.0Z" fill="#ffcdb4"/><path d="M178.0 507.0C179.1 504.9 187.2 503.0 190.0 503.0C192.8 503.0 200.8 504.9 202.0 507.0C203.2 509.1 201.4 518.2 200.0 521.0C198.6 523.8 192.2 531.0 190.0 531.0C187.8 531.0 182.4 523.8 181.0 521.0C179.6 518.2 176.9 509.1 178.0 507.0Z" fill="#ffebd9"/><path d="M181.0 513.0C181.9 511.7 187.8 508.1 190.0 508.0C192.2 507.9 199.1 510.7 200.0 512.0C200.9 513.3 199.4 517.7 198.0 519.0C196.6 520.3 189.9 523.0 188.0 523.0C186.1 523.0 182.8 520.2 182.0 519.0C181.2 517.8 180.1 514.3 181.0 513.0Z" fill="#d6eaff"/><path d="M148.0 491.0C149.2 486.3 159.4 485.8 162.0 487.0C164.6 488.2 169.8 497.3 170.0 501.0C170.2 504.7 166.1 516.0 164.0 519.0C161.9 522.0 153.9 530.3 152.0 527.0C150.1 523.7 146.8 495.7 148.0 491.0Z" fill="#ffa882"/><path d="M310.0 455.0C311.6 453.1 316.5 452.8 320.0 453.0C323.5 453.2 335.8 455.4 340.0 457.0C344.2 458.6 353.7 464.9 356.0 467.0C358.3 469.1 360.5 472.2 360.0 475.0C359.5 477.8 354.1 486.8 352.0 491.0C349.9 495.2 344.6 507.0 342.0 511.0C339.4 515.0 333.0 522.9 330.0 525.0C327.0 527.1 319.5 527.8 316.0 529.0C312.5 530.2 303.3 534.3 300.0 535.0C296.7 535.7 289.2 536.9 288.0 535.0C286.8 533.1 289.3 522.7 290.0 519.0C290.7 515.3 292.8 506.7 294.0 503.0C295.2 499.3 298.6 491.0 300.0 487.0C301.4 483.0 304.8 472.7 306.0 469.0C307.2 465.3 308.4 456.9 310.0 455.0Z" fill="#ffa882"/><path d="M316.0 467.0C318.3 465.6 326.3 462.5 330.0 463.0C333.7 463.5 345.4 468.7 348.0 471.0C350.6 473.3 352.5 480.2 352.0 483.0C351.5 485.8 346.3 492.9 344.0 495.0C341.7 497.1 334.8 499.1 332.0 501.0C329.2 502.9 322.6 510.3 320.0 511.0C317.4 511.7 312.3 507.9 310.0 507.0C307.7 506.1 300.7 505.3 300.0 503.0C299.3 500.7 302.8 490.3 304.0 487.0C305.2 483.7 308.6 477.3 310.0 475.0C311.4 472.7 313.7 468.4 316.0 467.0Z" fill="#ffcdb4"/><path d="M260.0 547.0C259.5 545.1 262.1 535.2 264.0 531.0C265.9 526.8 273.2 514.5 276.0 511.0C278.8 507.5 285.7 501.9 288.0 501.0C290.3 500.1 295.5 500.9 296.0 503.0C296.5 505.1 292.7 515.3 292.0 519.0C291.3 522.7 291.4 532.7 290.0 535.0C288.6 537.3 282.6 537.6 280.0 539.0C277.4 540.4 270.3 546.1 268.0 547.0C265.7 547.9 260.5 548.9 260.0 547.0Z" fill="#ff7842"/><path d="M258.0 545.0C257.5 543.1 258.6 534.5 260.0 531.0C261.4 527.5 267.7 518.0 270.0 515.0C272.3 512.0 278.4 505.9 280.0 505.0C281.6 504.1 284.2 505.4 284.0 507.0C283.8 508.6 279.6 515.7 278.0 519.0C276.4 522.3 271.6 531.7 270.0 535.0C268.4 538.3 265.4 545.8 264.0 547.0C262.6 548.2 258.5 546.9 258.0 545.0Z" fill="#ff4e1a"/><path d="M320.0 553.0C321.2 551.6 327.7 550.8 330.0 551.0C332.3 551.2 338.8 553.6 340.0 555.0C341.2 556.4 341.2 561.6 340.0 563.0C338.8 564.4 332.3 567.0 330.0 567.0C327.7 567.0 321.2 564.6 320.0 563.0C318.8 561.4 318.8 554.4 320.0 553.0Z" fill="#ff4e1a"/><path d="M252.0 609.0C252.5 607.4 264.3 605.2 268.0 605.0C271.7 604.8 280.3 607.7 284.0 607.0C287.7 606.3 296.3 600.6 300.0 599.0C303.7 597.4 312.3 594.4 316.0 593.0C319.7 591.6 329.2 586.8 332.0 587.0C334.8 587.2 340.9 592.9 340.0 595.0C339.1 597.1 327.7 602.7 324.0 605.0C320.3 607.3 311.7 613.1 308.0 615.0C304.3 616.9 295.7 620.1 292.0 621.0C288.3 621.9 279.3 623.2 276.0 623.0C272.7 622.8 266.8 620.6 264.0 619.0C261.2 617.4 251.5 610.6 252.0 609.0Z" fill="#e43400"/><path d="M292.0 643.0C292.5 638.9 300.7 631.3 304.0 629.0C307.3 626.7 316.7 624.2 320.0 623.0C323.3 621.8 329.7 619.9 332.0 619.0C334.3 618.1 339.1 609.8 340.0 615.0C340.9 620.2 344.7 658.3 340.0 664.0C335.3 669.7 305.6 666.5 300.0 664.0C294.4 661.5 291.5 647.1 292.0 643.0Z" fill="#ff7842"/><path d="M328.0 664.0C320.4 660.9 330.6 642.7 332.0 637.0C333.4 631.3 337.7 619.4 340.0 615.0C342.3 610.6 349.0 601.8 352.0 599.0C355.0 596.2 360.8 592.4 366.0 591.0C371.2 589.6 393.4 578.5 397.0 587.0C400.6 595.5 405.1 655.0 397.0 664.0C388.9 673.0 335.6 667.1 328.0 664.0Z" fill="#ff7842"/><path d="M340.0 664.0C333.6 660.9 340.8 642.5 342.0 637.0C343.2 631.5 347.9 621.0 350.0 617.0C352.1 613.0 357.4 605.1 360.0 603.0C362.6 600.9 367.7 599.7 372.0 599.0C376.3 598.3 394.1 589.4 397.0 597.0C399.9 604.6 403.6 656.2 397.0 664.0C390.4 671.8 346.4 667.1 340.0 664.0Z" fill="#ffa882"/><path d="M348.0 664.0C342.5 661.1 348.8 644.2 350.0 639.0C351.2 633.8 355.7 622.5 358.0 619.0C360.3 615.5 365.4 610.4 370.0 609.0C374.6 607.6 393.9 600.6 397.0 607.0C400.1 613.4 402.7 657.4 397.0 664.0C391.3 670.6 353.5 666.9 348.0 664.0Z" fill="#ffcdb4"/><path d="M360.0 664.0C355.9 660.9 360.6 641.8 362.0 637.0C363.4 632.2 367.9 625.1 372.0 623.0C376.1 620.9 394.1 614.2 397.0 619.0C399.9 623.8 401.3 658.8 397.0 664.0C392.7 669.2 364.1 667.1 360.0 664.0Z" fill="#ffebd9"/></g><clipPath id="ac4"><rect x="374" y="430" width="236" height="234"/></clipPath><g clip-path="url(#ac4)"><path d="M373.4 430.4 L426.4 447.2 L474.2 465.5 L482.2 481.4 L477.4 487.8 L474.2 506.9 L461.5 519.6 L439.2 522.8 L421.7 519.6 L413.7 522.8 L405.7 535.5 L401.0 551.5 L394.6 561.0 L381.8 565.8 L365.9 564.2 L350.0 567.4 L334.1 567.4 L334.1 430.4Z" fill="#e43400"/><path d="M342.0 486.2C344.1 477.6 356.2 479.5 359.6 478.2C362.9 476.9 368.5 474.7 370.7 475.0C372.9 475.4 377.4 479.2 378.7 481.4C380.0 483.6 381.3 490.8 381.8 494.1C382.4 497.5 382.9 506.7 383.4 510.1C384.0 513.4 385.0 520.6 386.6 522.8C388.3 525.0 396.8 527.3 397.8 529.2C398.7 531.0 396.4 536.9 394.6 538.7C392.7 540.6 384.3 543.6 381.8 545.1C379.4 546.6 376.1 550.4 373.9 551.5C371.7 552.6 366.5 554.6 362.7 554.6C359.0 554.6 344.5 559.5 342.0 551.5C339.6 543.5 340.0 494.7 342.0 486.2Z" fill="#ba2400"/><path d="M418.5 452.7C421.1 450.5 430.4 449.2 432.8 449.6C435.2 449.9 437.3 453.3 439.2 455.9C441.0 458.5 446.1 468.9 448.7 471.8C451.3 474.8 458.9 480.3 461.5 481.4C464.1 482.5 469.3 482.1 471.0 481.4C472.7 480.7 475.1 474.7 475.8 475.0C476.5 475.4 478.3 482.5 477.4 484.6C476.5 486.6 469.7 490.3 467.8 492.5C466.0 494.8 463.3 501.3 461.5 503.7C459.6 506.1 454.5 511.8 451.9 513.2C449.3 514.7 442.1 516.2 439.2 516.4C436.2 516.6 428.8 516.0 426.4 514.8C424.0 513.7 420.3 509.3 418.5 506.9C416.6 504.5 412.0 497.1 410.5 494.1C409.0 491.2 405.7 484.4 405.7 481.4C405.7 478.4 409.0 472.0 410.5 468.7C412.0 465.3 415.9 455.0 418.5 452.7Z" fill="#ba2400"/><path d="M422.5 454.3C423.6 453.7 432.4 454.0 434.4 455.1C436.3 456.2 439.4 462.7 439.2 463.9C439.0 465.1 434.5 465.8 432.8 465.5C431.1 465.1 426.0 462.0 424.8 460.7C423.6 459.4 421.3 455.0 422.5 454.3Z" fill="#8c0000"/><path d="M418.5 502.1C418.6 500.6 422.3 499.6 423.2 500.5C424.2 501.4 426.5 508.6 426.4 510.1C426.3 511.5 423.4 514.2 422.5 513.2C421.5 512.3 418.4 503.6 418.5 502.1Z" fill="#8c0000"/><path d="M413.7 471.8C414.1 470.0 421.0 467.9 423.2 468.7C425.5 469.4 430.9 476.0 432.8 478.2C434.7 480.4 439.5 486.3 439.2 487.8C438.8 489.3 431.8 491.3 429.6 491.0C427.4 490.6 421.9 486.8 420.1 484.6C418.2 482.4 413.3 473.7 413.7 471.8Z" fill="#ff4e1a"/><path d="M418.5 476.6C418.5 475.5 423.5 475.1 424.8 475.8C426.1 476.6 429.6 481.9 429.6 483.0C429.6 484.1 426.1 486.1 424.8 485.4C423.5 484.6 418.5 477.7 418.5 476.6Z" fill="#ff7842"/><path d="M475.8 471.8C476.5 470.7 481.7 475.8 483.8 478.2C485.8 480.6 491.8 489.2 493.3 492.5C494.8 495.9 496.5 503.7 496.5 506.9C496.5 510.0 494.8 517.4 493.3 519.6C491.8 521.8 486.4 525.6 483.8 526.0C481.2 526.4 473.6 523.5 471.0 522.8C468.4 522.1 461.1 521.5 461.5 519.6C461.8 517.8 472.3 510.6 474.2 506.9C476.1 503.2 477.2 491.9 477.4 487.8C477.6 483.7 475.1 473.0 475.8 471.8Z" fill="#ff4e1a"/><path d="M474.2 495.7C474.6 494.6 479.5 493.6 480.6 494.1C481.7 494.7 484.1 499.4 483.8 500.5C483.4 501.6 478.5 504.3 477.4 503.7C476.3 503.1 473.8 496.8 474.2 495.7Z" fill="#ff7842"/><path d="M342.0 567.4C344.8 565.2 361.3 564.4 365.9 564.2C370.6 564.0 378.5 566.2 381.8 565.8C385.2 565.4 392.4 562.7 394.6 561.0C396.8 559.3 399.7 552.2 401.0 551.5C402.3 550.7 405.5 552.8 405.7 554.6C405.9 556.5 404.4 565.0 402.5 567.4C400.7 569.8 394.1 573.9 389.8 575.4C385.5 576.8 371.5 579.2 365.9 580.1C360.4 581.1 344.8 584.8 342.0 583.3C339.3 581.8 339.3 569.6 342.0 567.4Z" fill="#ff4e1a"/><path d="M342.0 583.3C344.8 581.5 360.4 581.1 365.9 580.1C371.5 579.2 385.5 576.8 389.8 575.4C394.1 573.9 400.9 567.2 402.5 567.4C404.2 567.6 405.4 574.7 404.1 576.9C402.8 579.2 395.5 584.6 391.4 586.5C387.3 588.4 374.9 591.8 369.1 592.9C363.3 594.0 345.2 597.2 342.0 596.1C338.9 594.9 339.3 585.2 342.0 583.3Z" fill="#ff7842"/><path d="M342.0 596.1C345.2 589.2 363.3 594.0 369.1 592.9C374.9 591.8 388.1 586.5 391.4 586.5C394.7 586.5 397.8 590.6 397.8 592.9C397.8 595.1 393.3 603.0 391.4 605.6C389.5 608.2 383.3 609.8 381.8 615.2C380.4 620.5 383.3 647.5 378.7 651.8C374.0 656.1 346.3 658.3 342.0 651.8C337.8 645.3 338.9 602.9 342.0 596.1Z" fill="#ffa882"/><path d="M356.4 602.4C358.4 596.1 368.6 598.6 372.3 597.6C376.0 596.7 385.8 594.3 388.2 594.5C390.6 594.6 393.0 597.6 393.0 599.2C393.0 600.9 389.7 606.6 388.2 608.8C386.7 611.0 381.6 613.3 380.3 618.3C379.0 623.4 380.0 647.9 377.1 651.8C374.1 655.7 357.2 657.5 354.8 651.8C352.4 646.0 354.3 608.7 356.4 602.4Z" fill="#ffcdb4"/><path d="M364.3 608.8C366.0 603.2 374.5 604.4 377.1 604.0C379.7 603.6 386.1 604.3 386.6 605.6C387.2 606.9 382.9 612.6 381.8 615.2C380.8 617.8 378.6 623.6 377.9 627.9C377.1 632.2 377.2 649.0 375.5 651.8C373.7 654.6 364.0 656.8 362.7 651.8C361.4 646.8 362.7 614.4 364.3 608.8Z" fill="#ffebd9"/><path d="M410.5 529.2C412.6 527.4 420.3 526.0 423.2 526.8C426.2 527.5 433.4 532.7 436.0 535.5C438.6 538.4 444.1 547.7 445.5 551.5C447.0 555.2 449.1 563.7 448.7 567.4C448.4 571.1 443.8 579.6 442.4 583.3C440.9 587.0 437.5 595.5 436.0 599.2C434.5 603.0 431.8 612.2 429.6 615.2C427.4 618.1 420.0 624.7 416.9 624.7C413.7 624.7 405.7 617.4 402.5 615.2C399.4 612.9 391.5 608.6 389.8 605.6C388.1 602.6 387.7 593.2 388.2 589.7C388.8 586.2 393.1 579.1 394.6 575.4C396.1 571.6 399.7 561.7 401.0 557.8C402.3 553.9 404.6 545.3 405.7 541.9C406.8 538.6 408.5 530.9 410.5 529.2Z" fill="#ff7842"/><path d="M413.7 532.4C414.1 530.3 419.8 529.6 421.7 530.8C423.5 531.9 428.1 539.1 429.6 541.9C431.1 544.7 434.4 552.0 434.4 554.6C434.4 557.3 430.9 563.5 429.6 564.2C428.3 564.9 424.5 562.9 423.2 561.0C421.9 559.2 419.6 551.6 418.5 548.3C417.4 544.9 413.3 534.4 413.7 532.4Z" fill="#ffa882"/><path d="M416.9 533.9C417.4 533.0 421.3 534.2 422.5 535.5C423.6 536.8 426.4 543.2 426.4 545.1C426.4 547.0 423.5 551.7 422.5 551.5C421.4 551.3 418.3 545.5 417.7 543.5C417.0 541.5 416.3 534.9 416.9 533.9Z" fill="#ffcdb4"/><path d="M389.8 583.3C391.3 581.1 400.1 579.6 402.5 580.1C405.0 580.7 409.2 585.9 410.5 588.1C411.8 590.3 414.1 596.8 413.7 599.2C413.3 601.7 409.2 607.9 407.3 608.8C405.5 609.7 399.8 608.3 397.8 607.2C395.7 606.1 390.7 602.0 389.8 599.2C388.9 596.4 388.3 585.5 389.8 583.3Z" fill="#ffa882"/><path d="M391.7 584.1C393.0 582.5 399.3 581.5 401.0 582.2C402.6 582.8 405.5 587.7 405.7 589.7C405.9 591.7 403.8 597.8 402.5 599.2C401.3 600.7 396.4 602.5 394.9 602.1C393.5 601.7 390.5 598.2 390.1 596.1C389.8 594.0 390.5 585.7 391.7 584.1Z" fill="#ffcdb4"/><path d="M373.9 438.4 L391.4 438.4 L402.5 463.9 L413.7 492.5 L420.1 510.1 L413.7 510.1 L402.5 487.8 L389.8 463.9Z" fill="#ff7842"/><path d="M380.3 438.4 L388.2 438.4 L404.1 476.6 L410.5 494.1 L405.7 492.5 L394.6 467.1Z" fill="#ffa882"/><path d="M391.4 438.4 L402.5 438.4 L416.9 463.9 L410.5 467.1 L402.5 454.3Z" fill="#ff4e1a"/><path d="M432.8 519.6C433.9 517.9 442.2 518.0 445.5 518.0C448.9 518.0 458.5 519.1 461.5 519.6C464.4 520.2 469.2 520.9 471.0 522.8C472.9 524.7 477.4 532.9 477.4 535.5C477.4 538.1 473.2 544.0 471.0 545.1C468.8 546.2 461.3 545.8 458.3 545.1C455.3 544.4 448.1 540.2 445.5 538.7C442.9 537.2 437.5 534.6 436.0 532.4C434.5 530.1 431.7 521.3 432.8 519.6Z" fill="#ffa882"/><path d="M439.2 522.8C440.7 521.9 449.7 520.5 451.9 521.2C454.1 522.0 457.9 527.5 458.3 529.2C458.7 530.8 456.6 535.0 455.1 535.5C453.6 536.1 447.4 534.7 445.5 533.9C443.7 533.2 439.9 530.5 439.2 529.2C438.4 527.9 437.7 523.7 439.2 522.8Z" fill="#ffebd9"/><path d="M429.6 535.5C430.5 533.7 436.6 532.4 439.2 532.4C441.8 532.4 448.9 533.3 451.9 535.5C454.9 537.8 462.0 547.4 464.6 551.5C467.3 555.6 472.2 565.7 474.2 570.6C476.2 575.4 481.1 587.7 482.2 592.9C483.3 598.1 484.7 611.4 483.8 615.2C482.8 618.9 476.8 624.0 474.2 624.7C471.6 625.5 464.1 624.5 461.5 621.5C458.9 618.6 453.8 604.1 451.9 599.2C450.1 594.4 447.2 584.6 445.5 580.1C443.9 575.7 439.3 564.7 437.6 561.0C435.9 557.3 432.1 551.3 431.2 548.3C430.3 545.3 428.7 537.4 429.6 535.5Z" fill="#ff4e1a"/><path d="M439.2 537.1C440.7 536.8 446.5 539.1 448.7 541.9C451.0 544.7 456.1 556.2 458.3 561.0C460.5 565.8 466.3 577.9 467.8 583.3C469.3 588.7 471.4 603.7 471.0 607.2C470.6 610.7 466.1 614.5 464.6 613.6C463.2 612.6 459.8 603.1 458.3 599.2C456.8 595.3 453.6 584.6 451.9 580.1C450.2 575.7 445.8 565.1 443.9 561.0C442.1 556.9 436.5 547.9 436.0 545.1C435.4 542.3 437.7 537.5 439.2 537.1Z" fill="#e43400"/><path d="M451.9 535.5C451.5 534.1 458.9 536.9 461.5 538.7C464.1 540.6 471.4 547.7 474.2 551.5C477.0 555.2 482.9 565.7 485.4 570.6C487.8 575.4 493.4 587.7 494.9 592.9C496.4 598.1 498.6 611.1 498.1 615.2C497.5 619.2 492.9 626.8 490.1 627.9C487.3 629.0 474.9 626.2 474.2 624.7C473.5 623.2 482.8 618.9 483.8 615.2C484.7 611.4 483.3 598.1 482.2 592.9C481.1 587.7 476.2 575.4 474.2 570.6C472.2 565.7 467.3 555.6 464.6 551.5C462.0 547.4 452.3 537.0 451.9 535.5Z" fill="#ff7842"/><path d="M378.7 651.8C371.2 649.4 380.4 635.4 381.8 631.1C383.3 626.8 389.0 617.8 391.4 615.2C393.8 612.6 399.6 607.7 402.5 608.8C405.5 609.9 413.7 624.0 416.9 624.7C420.0 625.5 427.0 615.7 429.6 615.2C432.2 614.6 436.9 618.1 439.2 619.9C441.4 621.8 448.0 627.4 448.7 631.1C449.5 634.8 453.7 649.4 445.5 651.8C437.4 654.2 386.1 654.2 378.7 651.8Z" fill="#ffa882"/><path d="M388.2 651.8C382.5 649.7 388.7 637.6 389.8 634.3C390.9 630.9 395.7 624.4 397.8 623.1C399.8 621.8 405.1 622.2 407.3 623.1C409.6 624.0 414.6 630.5 416.9 631.1C419.1 631.6 424.2 627.5 426.4 627.9C428.7 628.3 434.5 631.5 436.0 634.3C437.5 637.1 444.7 649.7 439.2 651.8C433.6 653.8 394.0 653.8 388.2 651.8Z" fill="#ffcdb4"/><path d="M489.8 392.2C502.4 387.8 609.4 360.6 625.2 392.2C641.0 423.8 647.5 631.3 625.2 662.9C602.9 694.5 451.7 668.1 434.1 662.9C416.4 657.7 467.4 625.8 473.9 618.3C480.4 610.9 488.3 603.3 489.8 599.2C491.3 595.1 487.9 587.4 486.6 583.3C485.3 579.2 480.7 568.3 478.7 564.2C476.6 560.1 470.6 551.6 469.1 548.3C467.6 544.9 465.4 538.5 465.9 535.5C466.5 532.6 471.7 525.4 473.9 522.8C476.1 520.2 482.6 515.8 485.0 513.2C487.4 510.6 494.0 503.5 494.6 500.5C495.1 497.5 491.3 491.1 489.8 487.8C488.3 484.4 483.3 475.6 481.8 471.8C480.4 468.1 476.9 458.9 477.1 455.9C477.3 453.0 480.5 447.5 483.4 446.4C486.4 445.3 498.6 448.2 502.5 446.4C506.4 444.5 518.4 436.8 516.9 430.4C515.4 424.1 477.2 396.7 489.8 392.2Z" fill="#ffa882"/><path d="M465.9 535.5C466.5 532.6 471.7 525.4 473.9 522.8C476.1 520.2 482.8 513.6 485.0 513.2C487.3 512.9 491.5 517.0 493.0 519.6C494.5 522.2 497.6 531.8 497.8 535.5C498.0 539.3 495.9 548.5 494.6 551.5C493.3 554.4 488.5 559.5 486.6 561.0C484.8 562.5 480.7 565.7 478.7 564.2C476.6 562.7 470.6 551.6 469.1 548.3C467.6 544.9 465.4 538.5 465.9 535.5Z" fill="#ff7842"/><path d="M473.9 618.3C476.7 613.7 488.3 603.3 489.8 599.2C491.3 595.1 486.4 585.9 486.6 583.3C486.8 580.7 489.5 575.1 491.4 576.9C493.3 578.8 501.2 595.1 502.5 599.2C503.8 603.3 504.0 608.6 502.5 612.0C501.1 615.3 494.1 624.7 489.8 627.9C485.5 631.1 467.8 640.2 465.9 639.0C464.1 637.9 471.1 623.0 473.9 618.3Z" fill="#ff7842"/><path d="M494.6 459.1C497.0 457.4 509.2 460.0 513.7 460.7C518.2 461.4 528.3 465.1 532.8 465.5C537.3 465.8 547.5 464.4 551.9 463.9C556.4 463.3 566.2 462.2 571.0 460.7C575.8 459.2 588.9 452.3 593.3 451.1C597.8 450.0 607.4 428.3 609.2 451.1C611.1 474.0 620.4 624.2 609.2 647.0C598.1 669.9 526.1 651.1 513.7 647.0C501.2 642.9 503.7 618.3 502.5 612.0C501.4 605.7 504.7 597.0 504.1 592.9C503.6 588.8 499.3 580.7 497.8 576.9C496.3 573.2 491.4 565.1 491.4 561.0C491.4 556.9 496.5 546.0 497.8 541.9C499.1 537.8 502.7 529.7 502.5 526.0C502.4 522.3 496.7 514.0 496.2 510.1C495.6 506.2 498.1 496.6 497.8 492.5C497.4 488.5 493.4 478.9 493.0 475.0C492.6 471.1 492.2 460.8 494.6 459.1Z" fill="#ffcdb4"/><path d="M507.3 392.2C494.7 398.5 513.9 439.2 516.9 446.4C519.9 453.5 528.7 452.4 532.8 453.5C536.9 454.6 547.5 455.8 551.9 455.9C556.4 456.0 566.2 455.4 571.0 454.3C575.8 453.2 588.9 448.4 593.3 446.4C597.8 444.3 605.5 443.1 609.2 436.8C613.0 430.5 637.0 397.4 625.2 392.2C613.3 387.0 520.0 385.9 507.3 392.2Z" fill="#ff7842"/><path d="M520.1 392.2C509.7 397.8 533.0 433.9 536.0 440.0C539.0 446.1 542.9 443.9 545.5 444.8C548.1 445.6 555.3 447.2 558.3 447.2C561.3 447.2 568.0 445.6 571.0 444.8C574.0 443.9 581.2 441.5 583.8 440.0C586.4 438.5 588.5 437.6 593.3 432.0C598.1 426.5 633.7 396.9 625.2 392.2C616.6 387.6 530.5 386.7 520.1 392.2Z" fill="#ff4e1a"/><path d="M558.0 421.0C557.5 419.1 563.4 415.3 566.0 414.0C568.6 412.7 575.2 410.7 580.0 410.0C584.8 409.3 603.9 405.4 607.0 408.0C610.1 410.6 609.0 429.2 607.0 432.0C605.0 434.8 594.3 432.2 590.0 432.0C585.7 431.8 573.7 431.3 570.0 430.0C566.3 428.7 558.5 422.9 558.0 421.0Z" fill="#e43400"/><path d="M572.0 420.6C571.5 419.6 577.9 417.5 582.0 417.0C586.1 416.5 604.1 414.9 607.0 416.0C609.9 417.1 609.5 424.8 607.0 426.0C604.5 427.2 590.1 426.6 586.0 426.0C581.9 425.4 572.5 421.7 572.0 420.6Z" fill="#ba2400"/><path d="M373.4 424.9 L429.6 433.9 L461.5 443.2 L477.4 449.6 L496.5 457.5 L496.5 474.2 L474.2 467.9 L455.1 457.5 L426.4 449.9 L373.4 434.4Z" fill="#ffa882"/><path d="M373.4 427.6 L429.6 437.8 L455.1 445.6 L477.4 453.5 L493.3 460.7 L493.3 470.3 L474.2 463.9 L455.1 454.0 L426.4 446.1 L373.4 432.0Z" fill="#ffebd9"/><path d="M381.8 430.9 L429.6 440.5 L451.9 447.2 L450.3 449.9 L426.4 444.1 L381.8 433.3Z" fill="#d6eaff"/><path d="M464.6 455.9 L477.4 457.5 L493.3 463.9 L491.7 468.7 L475.8 463.9Z" fill="#d6eaff"/><path d="M367.0 423.2C372.7 421.4 407.0 416.7 416.0 416.2C425.0 415.7 437.5 417.9 444.0 419.0C450.5 420.2 466.3 424.6 472.0 426.0C477.7 427.5 488.1 430.8 493.0 431.6C497.9 432.4 509.1 432.5 514.0 433.0C518.9 433.5 531.8 434.7 535.0 435.8C538.3 437.0 542.9 441.4 542.0 442.8C541.2 444.3 532.9 448.3 528.0 448.4C523.1 448.6 506.6 445.5 500.0 444.2C493.5 442.9 478.6 438.7 472.0 437.2C465.5 435.8 450.5 432.6 444.0 431.6C437.5 430.6 425.0 428.8 416.0 428.8C407.0 428.8 372.7 432.3 367.0 431.6C361.3 431.0 361.3 425.0 367.0 423.2Z" fill="#ff7842"/><path d="M367.0 428.8C372.7 428.0 407.0 425.9 416.0 426.0C425.0 426.2 439.1 429.9 444.0 430.2C448.9 430.6 454.7 428.2 458.0 428.8C461.3 429.5 467.1 434.2 472.0 435.8C476.9 437.5 493.5 441.5 500.0 442.8C506.6 444.1 522.3 446.4 528.0 447.0C533.8 447.7 545.8 447.6 549.0 448.4C552.3 449.2 556.9 452.7 556.1 454.0C555.2 455.3 546.9 459.3 542.0 459.6C537.1 460.0 519.8 457.5 514.0 456.8C508.3 456.2 497.9 455.0 493.0 454.0C488.1 453.1 476.9 450.1 472.0 448.4C467.1 446.8 455.9 441.5 451.0 440.0C446.1 438.6 434.1 436.5 430.0 435.8C425.9 435.2 423.3 434.8 416.0 434.4C408.6 434.1 372.7 433.7 367.0 433.0C361.3 432.4 361.3 429.6 367.0 428.8Z" fill="#ffa882"/><path d="M374.0 431.6C378.9 431.4 408.6 431.1 416.0 431.6C423.3 432.1 432.1 434.5 437.0 435.8C441.9 437.1 453.4 441.4 458.0 442.8C462.6 444.3 471.3 447.1 476.2 448.4C481.1 449.7 494.0 453.1 500.0 454.0C506.1 455.0 523.1 456.0 528.0 456.8C532.9 457.7 542.0 459.7 542.0 461.0C542.0 462.3 532.9 467.5 528.0 468.0C523.1 468.5 505.7 466.2 500.0 465.2C494.3 464.3 483.9 461.1 479.0 459.6C474.1 458.2 462.9 454.3 458.0 452.6C453.1 451.0 441.9 447.3 437.0 445.6C432.1 444.0 423.3 440.0 416.0 438.6C408.6 437.2 378.9 434.5 374.0 433.7C369.1 432.9 369.1 431.9 374.0 431.6Z" fill="#ffcdb4"/><path d="M373.4 427.6 L429.6 437.8 L455.1 445.6 L477.4 453.5 L493.3 460.7 L493.3 470.3 L474.2 463.9 L455.1 454.0 L426.4 446.1 L373.4 432.0Z" fill="#ffebd9"/><path d="M381.8 430.9 L429.6 440.5 L451.9 447.2 L450.3 449.9 L426.4 444.1 L381.8 433.3Z" fill="#d6eaff"/><path d="M464.6 455.9 L477.4 457.5 L493.3 463.9 L491.7 468.7 L475.8 463.9Z" fill="#d6eaff"/><path d="M473.9 446.4C474.8 445.4 486.5 450.7 489.8 452.7C493.2 454.8 499.8 462.0 502.5 463.9C505.3 465.7 510.2 467.2 513.7 468.7C517.2 470.1 529.1 476.3 532.8 476.6C536.5 477.0 542.2 472.8 545.5 471.8C548.9 470.9 556.3 468.7 561.5 468.7C566.7 468.7 586.8 470.4 590.1 471.8C593.5 473.3 593.5 480.5 590.1 481.4C586.8 482.3 566.7 479.6 561.5 479.8C556.3 480.0 548.5 481.5 545.5 483.0C542.6 484.5 538.4 492.2 536.0 492.5C533.6 492.9 527.4 487.9 524.8 486.2C522.2 484.5 516.9 479.9 513.7 478.2C510.5 476.5 501.5 473.9 497.8 471.8C494.1 469.8 484.6 463.7 481.8 460.7C479.1 457.7 473.0 447.3 473.9 446.4Z" fill="#ffebd9"/><path d="M496.2 494.1C497.9 492.3 513.5 493.0 516.9 494.1C520.2 495.3 524.1 500.7 524.8 503.7C525.6 506.7 523.8 516.6 523.2 519.6C522.7 522.6 521.5 529.2 520.1 529.2C518.6 529.2 512.6 521.8 510.5 519.6C508.5 517.4 504.2 513.0 502.5 510.1C500.9 507.1 494.5 496.0 496.2 494.1Z" fill="#ffebd9"/><path d="M512.1 572.2C515.8 570.9 538.5 571.4 542.4 572.2C546.3 572.9 547.0 576.1 545.5 578.5C544.1 581.0 533.3 590.5 529.6 592.9C525.9 595.3 515.9 600.4 513.7 599.2C511.5 598.1 510.7 586.5 510.5 583.3C510.3 580.2 508.4 573.5 512.1 572.2Z" fill="#ffebd9"/><path d="M459.6 522.8C462.5 523.2 479.1 533.1 481.8 535.5C484.6 538.0 485.3 542.8 483.4 543.5C481.6 544.2 469.1 543.2 465.9 541.9C462.8 540.6 457.1 534.6 456.4 532.4C455.6 530.1 456.6 522.4 459.6 522.8Z" fill="#ffebd9"/><path d="M473.9 451.1C475.0 451.0 484.0 454.4 486.6 455.9C489.2 457.4 495.2 462.5 496.2 463.9C497.1 465.3 495.7 467.9 494.6 467.9C493.5 467.9 488.7 465.1 486.6 463.9C484.6 462.7 478.6 459.0 477.1 457.5C475.6 456.0 472.8 451.3 473.9 451.1Z" fill="#d6eaff"/><path d="M488.2 500.5C489.1 500.3 495.5 510.3 497.8 513.2C500.0 516.2 504.7 522.6 507.3 526.0C509.9 529.3 519.3 539.3 520.1 541.9C520.8 544.5 515.6 548.3 513.7 548.3C511.8 548.3 506.2 544.1 504.1 541.9C502.1 539.7 497.9 532.3 496.2 529.2C494.5 526.0 490.7 518.2 489.8 514.8C488.9 511.5 487.3 500.7 488.2 500.5Z" fill="#ffa882"/><path d="M529.6 513.2C530.5 511.2 536.6 508.5 539.2 508.5C541.8 508.5 549.3 510.8 551.9 513.2C554.5 515.7 560.0 525.1 561.5 529.2C563.0 533.3 565.0 544.6 564.6 548.3C564.3 552.0 560.5 559.9 558.3 561.0C556.1 562.1 548.1 560.1 545.5 557.8C542.9 555.6 537.7 545.6 536.0 541.9C534.3 538.2 532.0 529.3 531.2 526.0C530.5 522.6 528.7 515.3 529.6 513.2Z" fill="#ffa882"/><path d="M535.2 516.4C535.7 514.9 539.0 513.1 540.8 513.2C542.5 513.4 548.5 516.0 550.3 518.0C552.2 520.1 555.8 527.6 556.7 530.8C557.6 533.9 558.8 542.3 558.3 545.1C557.7 547.9 553.6 554.1 551.9 554.6C550.2 555.2 545.4 552.1 543.9 549.9C542.5 547.6 540.1 538.3 539.2 535.5C538.2 532.8 536.5 528.2 536.0 526.0C535.5 523.8 534.6 517.9 535.2 516.4Z" fill="#ff7842"/><path d="M545.5 519.6C546.0 519.1 548.8 520.9 549.5 522.8C550.3 524.7 551.7 533.1 551.9 535.5C552.1 538.0 551.6 543.1 551.1 543.5C550.7 543.9 548.6 540.6 547.9 538.7C547.3 536.9 545.8 529.8 545.5 527.6C545.3 525.4 545.1 520.2 545.5 519.6Z" fill="#ff4e1a"/><path d="M540.0 491.0C540.3 488.9 544.1 483.0 545.5 481.4C546.9 479.8 549.7 477.8 551.9 477.4C554.1 477.0 561.7 477.9 564.6 478.2C567.6 478.5 574.0 479.4 577.4 479.8C580.7 480.2 591.5 475.6 593.3 481.4C595.2 487.2 595.9 523.0 593.3 529.2C590.7 535.3 574.7 534.7 571.0 533.9C567.3 533.2 563.7 526.0 561.5 522.8C559.2 519.6 554.1 509.7 551.9 506.9C549.7 504.1 543.8 500.8 542.4 498.9C541.0 497.1 539.6 493.0 540.0 491.0Z" fill="#d6eaff"/><path d="M554.3 495.7C555.0 494.6 559.1 492.7 561.5 492.5C563.8 492.4 570.5 493.8 574.2 494.1C577.9 494.5 591.1 492.8 593.3 495.7C595.5 498.7 595.7 515.7 593.3 519.6C590.9 523.5 575.6 529.2 572.6 529.2C569.6 529.2 569.1 522.0 567.8 519.6C566.5 517.2 563.0 510.5 561.5 508.5C560.0 506.4 555.9 503.6 555.1 502.1C554.3 500.6 553.6 496.8 554.3 495.7Z" fill="#b4ceff"/><path d="M565.4 508.5C565.9 507.2 570.7 505.8 572.6 505.3C574.6 504.7 579.8 503.5 582.2 503.7C584.6 503.9 592.0 505.0 593.3 506.9C594.6 508.7 595.7 517.4 593.3 519.6C590.9 521.8 575.5 526.4 572.6 526.0C569.7 525.6 569.5 518.5 568.6 516.4C567.8 514.4 565.0 509.8 565.4 508.5Z" fill="#84aaff"/><path d="M442.0 564.2C444.1 555.8 455.8 565.2 459.6 567.4C463.3 569.6 470.9 578.9 473.9 583.3C476.9 587.8 484.1 601.5 485.0 605.6C486.0 609.7 484.1 615.4 481.8 618.3C479.6 621.3 470.6 628.7 465.9 631.1C461.3 633.5 444.8 646.8 442.0 639.0C439.3 631.2 440.0 572.6 442.0 564.2Z" fill="#ff4e1a"/><path d="M442.0 567.4C443.7 566.1 453.6 569.6 456.4 572.2C459.2 574.8 464.3 585.4 465.9 589.7C467.6 594.0 470.9 605.8 470.7 608.8C470.5 611.8 466.4 616.3 464.3 615.2C462.3 614.0 455.8 603.0 453.2 599.2C450.6 595.5 443.3 587.0 442.0 583.3C440.7 579.6 440.4 568.7 442.0 567.4Z" fill="#e43400"/><path d="M364.8 654.1C361.2 650.1 365.6 627.1 366.8 621.7C368.0 616.3 372.3 609.8 374.9 607.5C377.5 605.3 386.5 602.5 389.1 602.5C391.7 602.5 395.5 605.5 397.2 607.5C398.8 609.5 401.3 617.8 403.2 619.7C405.1 621.6 410.3 624.0 413.4 623.7C416.4 623.5 426.2 618.6 429.6 617.7C432.9 616.7 438.9 615.2 441.7 615.6C444.5 616.1 450.8 619.6 453.8 621.7C456.9 623.8 469.4 631.0 468.0 633.8C466.6 636.7 447.1 643.9 441.7 646.0C436.3 648.1 426.7 650.9 421.5 652.1C416.3 653.2 403.8 655.9 397.2 656.1C390.6 656.3 368.3 658.1 364.8 654.1Z" fill="#ffa882"/><path d="M366.8 654.1C363.5 650.5 367.6 628.8 368.8 623.7C370.0 618.6 374.6 612.6 376.9 610.6C379.3 608.5 386.9 606.0 389.1 605.9C391.2 605.8 393.7 608.1 395.1 610.0C396.6 611.8 399.1 620.2 401.2 622.1C403.3 624.0 410.1 626.4 413.4 626.2C416.7 625.9 426.2 621.0 429.6 620.1C432.9 619.1 439.1 617.6 441.7 618.1C444.3 618.5 449.5 622.3 451.8 624.1C454.2 626.0 463.1 631.6 461.9 633.8C460.8 636.0 446.4 641.2 441.7 643.0C437.0 644.7 426.7 647.7 421.5 649.0C416.3 650.3 403.5 653.5 397.2 654.1C390.8 654.7 370.1 657.6 366.8 654.1Z" fill="#ffcdb4"/><path d="M367.8 654.1C366.4 651.3 368.1 634.8 368.8 629.8C369.5 624.8 372.6 613.9 373.9 611.6C375.2 609.2 379.1 608.4 380.0 609.6C380.8 610.7 380.6 618.4 381.0 621.7C381.3 625.0 383.0 634.1 383.0 637.9C383.0 641.7 382.7 652.2 381.0 654.1C379.2 656.0 369.2 656.9 367.8 654.1Z" fill="#ffebd9"/><path d="M385.0 639.9C385.5 637.8 389.6 635.9 391.1 635.9C392.6 635.9 397.5 638.0 398.2 639.9C398.9 641.8 398.5 650.4 397.2 652.1C395.9 653.7 388.5 655.5 387.0 654.1C385.6 652.7 384.5 642.0 385.0 639.9Z" fill="#ffebd9"/></g><clipPath id="ac5"><circle cx="373.5" cy="429.9" r="48"/><path d="M376 349.9A80 80 0 0 0 376 509.9Z"/></clipPath><g clip-path="url(#ac5)"><path d="M298.0 366.5C299.8 363.0 311.2 358.0 315.6 356.5C319.9 355.1 331.2 353.6 335.6 354.0C340.0 354.5 349.9 358.5 353.2 360.3C356.4 362.0 360.8 366.6 363.2 369.1C365.5 371.5 370.9 378.9 373.2 381.6C375.5 384.2 380.6 389.9 383.2 391.6C385.9 393.4 392.8 395.2 395.8 396.6C398.7 398.1 405.7 402.1 408.3 404.1C410.9 406.2 417.7 412.1 418.3 414.2C418.9 416.2 414.8 420.2 413.3 421.7C411.8 423.1 408.7 425.8 405.8 426.7C402.9 427.6 391.2 428.0 388.2 429.2C385.3 430.4 382.5 435.0 380.7 436.7C379.0 438.5 374.4 441.3 373.2 444.2C372.0 447.2 371.9 458.6 370.7 461.8C369.5 465.0 364.6 469.6 363.2 471.8C361.7 474.0 359.5 478.1 358.2 480.6C356.8 483.1 353.1 489.7 351.9 493.1C350.7 496.5 355.0 508.1 348.1 510.0C341.3 512.0 299.4 514.2 293.0 510.0C286.6 505.9 291.5 481.1 293.0 474.3C294.5 467.5 305.5 454.7 305.5 451.8C305.5 448.8 294.5 452.5 293.0 449.3C291.5 446.0 291.5 428.3 293.0 424.2C294.5 420.1 303.3 417.1 305.5 414.2C307.7 411.2 312.4 402.3 311.8 399.1C311.2 395.9 302.1 390.4 300.5 386.6C298.9 382.8 296.3 370.1 298.0 366.5Z" fill="#ff7842"/><path d="M348.1 356.5C348.1 352.1 360.3 359.8 363.2 361.5C366.1 363.3 371.2 369.4 373.2 371.6C375.2 373.7 378.1 378.6 380.7 380.3C383.4 382.1 391.4 384.1 395.8 386.6C400.1 389.1 414.5 398.4 418.3 401.6C422.1 404.8 428.3 411.5 428.3 414.2C428.3 416.8 420.9 422.7 418.3 424.2C415.7 425.6 409.3 426.1 405.8 426.7C402.3 427.3 392.0 428.8 388.2 429.2C384.4 429.6 376.1 434.0 373.2 430.5C370.3 426.9 366.1 407.8 363.2 399.1C360.3 390.5 348.1 360.9 348.1 356.5Z" fill="#ff7842"/><path d="M300.5 372.8C301.8 370.3 312.9 365.9 316.8 365.3C320.8 364.7 330.3 366.8 334.4 367.8C338.4 368.8 348.5 372.5 351.9 374.1C355.3 375.7 360.7 380.1 363.2 381.6C365.7 383.0 370.6 385.1 373.2 386.6C375.8 388.1 382.5 392.4 385.7 394.1C388.9 395.9 397.8 399.3 400.8 401.6C403.7 404.0 410.5 412.0 410.8 414.2C411.1 416.4 405.9 419.4 403.3 420.4C400.6 421.5 391.2 422.4 388.2 422.9C385.3 423.5 379.8 424.6 378.2 425.4C376.6 426.3 375.6 429.1 374.5 430.5C373.3 431.8 369.5 434.5 368.2 436.7C366.9 438.9 364.1 446.3 363.2 449.3C362.3 452.2 362.0 458.9 360.7 461.8C359.4 464.7 353.7 471.4 351.9 474.3C350.1 477.2 346.9 482.7 345.6 486.8C344.3 491.0 346.8 507.3 340.6 510.0C334.5 512.7 298.6 514.8 293.0 510.0C287.4 505.3 291.2 476.0 293.0 469.3C294.8 462.6 304.4 455.8 308.0 453.0C311.7 450.2 321.3 447.4 324.3 445.5C327.4 443.6 334.4 438.6 334.4 436.7C334.4 434.8 327.7 430.7 324.3 429.2C321.0 427.7 306.6 426.2 305.5 424.2C304.5 422.1 314.2 414.6 315.6 411.7C316.9 408.7 318.0 402.0 316.8 399.1C315.6 396.2 307.4 389.7 305.5 386.6C303.6 383.5 299.2 375.3 300.5 372.8Z" fill="#ffa882"/><path d="M316.8 386.6C317.8 384.4 325.0 381.2 328.1 380.3C331.2 379.5 339.6 377.9 343.1 379.1C346.6 380.2 355.2 387.7 358.2 390.4C361.1 393.0 365.8 399.1 368.2 401.6C370.5 404.1 375.9 409.9 378.2 411.7C380.6 413.4 387.9 415.4 388.2 416.7C388.5 418.0 382.3 421.8 380.7 422.9C379.1 424.1 375.8 426.0 374.5 426.7C373.1 427.4 370.8 427.7 369.4 429.2C368.1 430.7 364.5 436.6 363.2 439.2C361.9 441.9 359.5 448.8 358.2 451.8C356.8 454.7 353.7 461.7 351.9 464.3C350.1 466.9 345.2 471.7 343.1 474.3C341.1 476.9 336.5 484.7 334.4 486.8C332.2 489.0 327.0 492.7 324.3 493.1C321.7 493.5 314.6 491.3 311.8 490.6C309.0 489.9 301.7 489.0 300.5 486.8C299.3 484.7 300.5 474.7 301.8 471.8C303.1 468.9 308.7 464.0 311.8 461.8C314.9 459.6 324.4 455.1 328.1 453.0C331.7 451.0 339.9 446.1 343.1 444.2C346.3 442.3 355.4 438.3 355.7 436.7C355.9 435.1 348.6 431.3 345.6 430.5C342.7 429.6 333.8 429.9 330.6 429.2C327.4 428.5 319.1 426.2 318.1 424.2C317.0 422.1 321.7 414.6 321.8 411.7C322.0 408.7 319.9 402.0 319.3 399.1C318.7 396.2 315.8 388.8 316.8 386.6Z" fill="#ffcdb4"/><path d="M325.6 396.6C326.8 394.7 332.0 392.6 334.4 392.9C336.7 393.2 342.9 397.2 345.6 399.1C348.4 401.0 355.5 406.5 358.2 409.2C360.8 411.8 367.6 419.6 368.2 421.7C368.8 423.7 364.9 426.4 363.2 426.7C361.4 427.0 355.5 424.8 353.2 424.2C350.8 423.6 345.8 422.3 343.1 421.7C340.5 421.1 332.8 420.6 330.6 419.2C328.4 417.7 324.9 411.8 324.3 409.2C323.7 406.5 324.4 398.5 325.6 396.6Z" fill="#ffebd9"/><path d="M311.8 429.2C314.6 428.6 322.9 426.4 325.6 426.7C328.2 427.0 333.0 430.0 334.4 431.7C335.7 433.5 337.6 440.0 336.9 441.7C336.1 443.5 330.6 446.5 328.1 446.7C325.6 447.0 318.5 445.1 315.6 444.2C312.6 443.4 304.6 440.7 303.0 439.2C301.4 437.8 300.7 432.9 301.8 431.7C302.8 430.5 309.0 429.8 311.8 429.2Z" fill="#ffebd9"/><path d="M329.3 426.7C330.5 426.3 339.0 426.4 340.6 426.7C342.2 427.0 344.3 428.8 343.1 429.2C342.0 429.6 332.2 430.7 330.6 430.5C329.0 430.2 328.2 427.1 329.3 426.7Z" fill="#d6eaff"/><path d="M335.6 435.5C336.6 434.7 345.4 435.0 346.9 435.5C348.3 435.9 349.2 438.5 348.1 439.2C347.1 440.0 339.6 442.2 338.1 441.7C336.7 441.3 334.6 436.2 335.6 435.5Z" fill="#d6eaff"/><path d="M348.1 420.4C349.3 420.6 357.3 423.6 358.2 424.2C359.0 424.8 356.8 425.7 355.7 425.4C354.5 425.2 349.0 422.9 348.1 422.3C347.3 421.7 347.0 420.2 348.1 420.4Z" fill="#d6eaff"/><path d="M308.0 459.3C308.9 458.1 315.6 454.2 318.1 453.0C320.5 451.8 327.9 449.4 329.3 449.3C330.8 449.1 331.8 450.9 330.6 451.8C329.4 452.6 321.7 455.5 319.3 456.8C317.0 458.1 311.9 462.7 310.5 463.0C309.2 463.3 307.2 460.4 308.0 459.3Z" fill="#d6eaff"/><path d="M373.2 429.2 L351.9 390.4 L346.9 379.1 L348.4 378.4 L354.7 389.1 L374.7 428.6Z" fill="#e43400"/><path d="M373.2 430.2 L353.2 419.4 L330.6 406.3 L331.2 405.0 L354.4 417.9 L374.1 428.9Z" fill="#e43400"/><path d="M370.7 429.2 L353.2 430.7 L335.6 435.7 L335.0 434.2 L353.2 428.9Z" fill="#ff4e1a"/><path d="M334.4 366.5 L343.1 380.3 L341.9 381.0 L332.8 367.2Z" fill="#e43400"/><path d="M378.2 424.2C379.7 423.0 389.3 425.0 393.3 425.4C397.2 425.9 407.7 426.8 412.0 427.9C416.4 429.1 425.9 433.6 430.8 435.5C435.7 437.4 451.3 441.5 454.0 444.2C456.7 447.0 456.0 458.3 454.0 459.3C452.1 460.3 441.3 454.5 437.1 453.0C432.9 451.5 422.7 448.4 418.3 446.7C413.9 445.1 403.9 440.5 399.5 439.2C395.1 437.9 383.2 437.2 380.7 435.5C378.2 433.7 376.8 425.4 378.2 424.2Z" fill="#ffa882"/><path d="M378.2 427.9C379.7 427.5 389.3 428.8 393.3 429.2C397.2 429.6 407.7 430.5 412.0 431.7C416.4 432.9 425.9 437.3 430.8 439.2C435.7 441.1 451.3 446.1 454.0 448.0C456.7 449.9 456.0 455.4 454.0 455.5C452.1 455.7 441.3 450.7 437.1 449.3C432.9 447.8 422.7 444.4 418.3 443.0C413.9 441.5 403.9 437.9 399.5 436.7C395.1 435.5 383.2 434.0 380.7 433.0C378.2 431.9 376.8 428.4 378.2 427.9Z" fill="#ffebd9"/><path d="M379.5 430.5C380.6 430.7 390.2 431.1 393.3 431.7C396.3 432.3 402.1 434.3 405.8 435.5C409.4 436.6 420.9 440.4 424.6 441.7C428.2 443.0 435.8 446.5 437.1 446.7C438.4 447.0 438.1 445.4 435.9 444.2C433.7 443.1 422.4 438.3 418.3 436.7C414.2 435.1 404.9 431.3 400.8 430.5C396.7 429.6 385.7 429.2 383.2 429.2C380.7 429.2 378.3 430.2 379.5 430.5Z" fill="#d6eaff"/><path d="M383.2 430.5C383.5 430.4 391.4 431.8 393.3 432.3C395.2 432.8 399.8 434.8 399.5 434.8C399.2 434.9 392.6 433.5 390.7 433.0C388.8 432.4 382.9 430.5 383.2 430.5Z" fill="#b4ceff"/><path d="M374.5 436.7C374.8 436.1 378.4 437.8 379.5 439.2C380.5 440.7 383.1 447.9 383.2 449.3C383.4 450.6 381.5 451.1 380.7 450.5C379.9 449.9 377.1 445.8 376.3 444.2C375.6 442.6 374.1 437.3 374.5 436.7Z" fill="#d6eaff"/><path d="M378.2 435.5C380.3 435.3 390.0 439.3 393.3 440.5C396.5 441.6 402.9 444.5 405.8 445.5C408.7 446.5 415.4 448.2 418.3 449.3C421.2 450.3 426.7 452.8 430.8 454.3C435.0 455.7 451.3 455.3 454.0 461.8C456.7 468.3 459.9 504.4 454.0 510.0C448.1 515.7 410.1 512.7 403.3 510.0C396.5 507.3 397.5 491.7 395.8 486.8C394.0 481.9 390.0 472.0 388.2 468.0C386.5 464.1 382.2 456.1 380.7 453.0C379.3 449.9 376.0 443.8 375.7 441.7C375.4 439.7 376.2 435.6 378.2 435.5Z" fill="#e43400"/><path d="M380.7 435.5C381.3 435.2 390.3 438.6 393.3 439.9C396.2 441.1 402.9 444.9 405.8 446.1C408.7 447.3 415.4 448.9 418.3 449.9C421.2 450.9 426.7 453.4 430.8 454.9C435.0 456.4 451.3 460.1 454.0 462.4C456.7 464.7 456.0 473.2 454.0 474.3C452.1 475.4 440.5 472.8 437.1 471.8C433.7 470.8 427.5 467.1 424.6 465.5C421.7 463.9 415.0 459.9 412.0 458.0C409.1 456.1 402.3 451.2 399.5 449.3C396.7 447.4 390.4 443.3 388.2 441.7C386.0 440.1 380.1 435.7 380.7 435.5Z" fill="#ba2400"/><path d="M420.8 452.4C421.4 451.6 428.9 454.0 430.8 454.9C432.7 455.8 436.7 458.8 437.1 459.9C437.5 461.0 435.9 464.1 434.6 464.3C433.3 464.5 427.4 463.2 425.8 461.8C424.2 460.4 420.2 453.2 420.8 452.4Z" fill="#8c0000"/><path d="M405.8 468.0C407.0 466.6 416.1 466.1 418.3 466.8C420.5 467.5 424.6 472.6 424.6 474.3C424.6 476.1 420.2 481.2 418.3 481.8C416.4 482.4 409.8 480.9 408.3 479.3C406.8 477.7 404.6 469.5 405.8 468.0Z" fill="#ba2400"/><path d="M375.7 435.5 L380.7 444.2 L390.7 461.8 L400.8 481.8 L410.8 510.0 L405.8 510.0 L395.8 484.3 L385.7 461.8 L378.2 446.7 L374.5 438.0Z" fill="#ff7842"/><path d="M376.3 436.7 L383.2 449.3 L392.0 465.5 L390.1 466.2 L381.3 450.5 L375.1 438.0Z" fill="#ffa882"/><path d="M373.2 444.2C374.4 443.2 379.0 450.2 380.7 453.0C382.5 455.8 386.5 464.1 388.2 468.0C390.0 472.0 394.0 481.9 395.8 486.8C397.5 491.7 408.8 507.3 403.3 510.0C397.7 512.7 354.1 512.0 348.1 510.0C342.1 508.1 350.7 496.5 351.9 493.1C353.1 489.7 356.8 483.1 358.2 480.6C359.5 478.1 361.7 474.0 363.2 471.8C364.6 469.6 369.5 465.0 370.7 461.8C371.9 458.6 372.0 445.3 373.2 444.2Z" fill="#e43400"/><path d="M368.2 474.3C369.9 471.5 374.2 468.6 375.7 469.3C377.2 470.0 379.8 477.1 380.7 480.6C381.6 484.1 383.2 495.9 383.2 499.4C383.2 502.8 383.6 508.8 380.7 510.0C377.8 511.3 360.5 512.0 358.2 510.0C355.8 508.1 359.5 497.3 360.7 493.1C361.8 488.9 366.4 477.1 368.2 474.3Z" fill="#ba2400"/></g></g>
<g clip-path="url(#clip0)"><g transform="translate(373.5,429.9)" fill="none" stroke="#000" stroke-width="1.9" stroke-linejoin="round" stroke-linecap="round"><path d="M-183.7 -127.1L-182.4 -128.8L-181.0 -130.4L-179.3 -131.7L-177.4 -132.5L-175.8 -133.9L-173.7 -134.5L-172.7 -132.1L-174.4 -131.1L-176.0 -130.0L-177.7 -129.1L-179.7 -127.4L-182.1 -126.5ZM-173.7 -130.7L-171.7 -131.0L-169.8 -131.8L-167.7 -131.7L-165.7 -131.9L-163.6 -132.7L-161.5 -133.0L-159.3 -132.9L-156.5 -132.5L-153.7 -131.9L-152.0 -130.5L-149.8 -130.1L-148.1 -128.7L-146.0 -127.0L-144.3 -124.9L-141.8 -125.8L-139.3 -126.9L-136.6 -126.8L-134.1 -127.5L-131.7 -126.4L-129.3 -125.5L-126.8 -125.7L-124.2 -125.2L-121.7 -125.7L-119.0 -126.1L-116.4 -125.2L-113.7 -125.5L-111.6 -125.6L-109.4 -125.6L-107.3 -125.1L-105.5 -126.4L-103.4 -127.3L-101.3 -128.1L-99.2 -128.7L-97.4 -130.3L-95.3 -130.9L-93.3 -131.4L-91.3 -131.8L-89.3 -132.5L-87.0 -133.7L-84.5 -134.7L-83.5 -136.6L-82.5 -138.5L-83.5 -140.7L-83.7 -143.1L-82.9 -145.4L-81.3 -147.3L-78.5 -147.9L-77.2 -145.9L-76.5 -143.7L-77.2 -140.9L-77.5 -138.1L-78.7 -134.9L-77.3 -137.3L-75.7 -139.7L-75.5 -141.9L-74.8 -144.0L-74.5 -146.1L-74.9 -148.1L-75.5 -150.1L-75.7 -152.1L-74.8 -154.0L-74.2 -156.0L-73.7 -158.1L-73.6 -160.2L-72.8 -162.1L-72.5 -164.1L-71.8 -166.1L-70.8 -168.0L-70.5 -170.1L-69.3 -172.0L-68.7 -174.2L-67.5 -176.1L-65.2 -177.8L-63.5 -180.1L-61.8 -182.2L-59.5 -183.7L-57.5 -185.2L-55.5 -186.5L-53.9 -187.3L-52.5 -188.5L-51.5 -187.5L-52.8 -185.8L-54.5 -184.5L-56.5 -182.8L-58.5 -181.1L-59.8 -178.8L-61.9 -177.1L-63.3 -174.7L-64.5 -172.1L-65.2 -170.2L-65.5 -168.1L-65.9 -166.1L-66.6 -163.6L-66.5 -161.1L-64.9 -160.2L-63.5 -158.9L-61.4 -159.5L-59.5 -160.5L-57.5 -161.0L-55.5 -161.7L-54.1 -160.2L-52.5 -158.9L-50.5 -158.4L-48.5 -157.9L-46.7 -156.6L-44.5 -155.9L-42.8 -154.0L-40.5 -152.9L-39.5 -150.9L-38.5 -148.9L-39.0 -146.5L-39.1 -144.1L-39.9 -142.2L-41.5 -140.9L-43.1 -139.6L-44.5 -138.1L-45.6 -136.6L-46.5 -134.9L-45.9 -132.7L-44.5 -130.9L-42.4 -131.2L-40.5 -132.1L-38.6 -133.1L-36.5 -133.7L-34.5 -133.2L-32.5 -132.5L-31.1 -131.1L-29.5 -129.9L-28.5 -128.2L-28.5 -126.3L-30.0 -125.3L-31.5 -124.3L-33.5 -123.8L-35.5 -123.9L-37.4 -122.7L-39.5 -122.3L-38.6 -120.7L-38.5 -118.9L-36.7 -117.2L-34.5 -115.9L-32.3 -115.2L-30.5 -113.9L-28.9 -113.1L-27.5 -111.9L-28.4 -109.9L-29.5 -107.9L-31.3 -106.1L-32.5 -103.9L-32.6 -101.3L-33.5 -98.9L-35.0 -97.4L-36.5 -95.9L-38.0 -93.9L-39.5 -91.9L-41.4 -92.8L-43.5 -92.9L-45.6 -92.2L-47.5 -90.9L-49.6 -90.6L-51.4 -89.4L-53.5 -88.9L-55.5 -88.2L-57.5 -87.4L-59.5 -86.9L-61.6 -86.6L-63.6 -86.0L-65.5 -84.9L-67.4 -83.9L-69.4 -83.3L-71.5 -82.9L-73.5 -82.3L-75.5 -82.0L-77.5 -81.9L-78.5 -79.9L-79.5 -77.9L-80.1 -75.4L-80.5 -72.9L-81.3 -70.8L-82.5 -68.9L-83.6 -67.0L-85.5 -65.9L-87.0 -64.8L-88.5 -63.9L-89.4 -61.8L-90.5 -59.9L-92.0 -58.8L-93.5 -57.5M-132.7 -124.1L-130.3 -123.2L-127.7 -123.1L-126.1 -121.9L-124.4 -121.1L-122.7 -120.1L-124.1 -121.2L-125.7 -122.1L-128.2 -122.5L-130.7 -122.5ZM-145.7 -127.1L-143.6 -127.0L-141.7 -126.1L-139.9 -124.7L-137.7 -124.1L-139.4 -124.8L-141.3 -124.9L-143.3 -126.3ZM-81.7 -161.7L-79.8 -162.4L-78.1 -163.7L-77.4 -161.4L-76.9 -159.1L-77.6 -157.3L-78.1 -155.3L-79.3 -153.7L-80.6 -155.0L-82.1 -156.1L-82.3 -158.9ZM-47.3 -193.7L-45.8 -196.2L-43.7 -198.1L-42.4 -199.8L-41.0 -201.3L-39.3 -202.5L-38.7 -200.5L-40.6 -198.4L-42.7 -196.5L-44.1 -194.3L-46.1 -192.7ZM-21.1 -208.1L-18.7 -210.5M-13.7 -211.7L-11.3 -212.1M-8.1 -212.1L-6.5 -210.9M-41.3 -158.5L-39.9 -159.7L-38.1 -160.1L-35.3 -158.5L-38.1 -156.5L-39.9 -157.2ZM-28.7 -142.5L-26.3 -143.5L-23.7 -143.7L-22.0 -143.0L-20.5 -142.1L-22.4 -140.9L-24.7 -140.5L-26.5 -141.8ZM-116.7 -70.1L-115.1 -71.2L-113.7 -72.5L-112.2 -71.0L-111.3 -69.1L-110.2 -71.2L-108.7 -73.1L-106.7 -72.1L-106.9 -70.1L-107.2 -68.1L-107.7 -66.1L-107.9 -64.0L-109.1 -62.2L-109.3 -60.1L-110.6 -62.4L-112.7 -64.1L-115.7 -63.1L-116.1 -65.4L-116.4 -67.8ZM-145.3 -66.1L-143.6 -68.4L-141.3 -70.1L-140.1 -68.2L-139.7 -66.1L-138.1 -65.0L-136.7 -63.7L-138.0 -61.7L-139.7 -60.1L-139.7 -58.0L-138.7 -56.2L-138.7 -54.1L-138.7 -51.9L-140.1 -49.9L-140.1 -47.7L-140.7 -49.5L-141.8 -51.2L-142.1 -53.1L-142.3 -55.1L-143.0 -57.1L-142.7 -59.1L-144.0 -60.6L-145.3 -62.1L-144.8 -64.1ZM-162.1 -60.1L-159.7 -61.7L-159.2 -59.7L-158.3 -57.9L-157.3 -56.1L-158.1 -53.5L-159.3 -51.1L-161.7 -49.1L-161.9 -51.3L-162.2 -53.5L-161.7 -55.7L-162.0 -57.9ZM-181.3 -40.5L-179.1 -39.5L-176.7 -39.1L-174.9 -38.2L-173.2 -37.3L-171.7 -36.1L-173.7 -34.7L-176.1 -36.2L-178.7 -37.1L-179.6 -39.1ZM-220.7 -32.1L-218.2 -32.8L-215.9 -33.8L-213.7 -35.1L-211.6 -35.4L-209.6 -36.2L-207.8 -37.3L-205.7 -37.7L-203.7 -37.9L-201.7 -38.1L-202.7 -35.1L-205.0 -34.1L-207.2 -32.9L-209.7 -32.5L-211.5 -31.3L-213.6 -30.7L-215.7 -30.1L-218.3 -30.9ZM-218.7 -25.1L-216.3 -25.9L-213.9 -26.7L-211.7 -28.1L-209.7 -28.8L-207.6 -28.9L-205.6 -29.4L-203.7 -30.5L-201.1 -30.3L-198.7 -31.1L-199.3 -28.1L-201.4 -27.2L-203.4 -26.3L-205.5 -25.6L-207.7 -25.1L-209.9 -23.9L-212.3 -23.1L-214.7 -22.5L-216.6 -23.9ZM-190.7 21.9L-189.8 20.0L-189.4 18.0L-189.2 15.9L-188.7 13.9L-187.8 12.0L-186.8 10.0L-186.7 7.7L-185.4 6.0L-184.7 3.9L-183.7 1.5L-183.1 -1.0L-182.5 -3.5L-182.1 -6.1L-180.0 -6.9L-178.0 -7.9L-175.7 -8.1L-173.7 -9.1L-171.8 -11.2L-169.7 -13.1L-167.7 -12.5L-165.8 -12.0L-163.7 -12.1L-161.7 -11.4L-159.7 -10.7L-157.9 -9.4L-155.7 -9.1L-153.8 -7.9L-151.6 -7.4L-149.7 -6.1L-148.4 -4.5L-147.4 -2.8L-147.1 -0.6L-145.7 0.9L-144.2 2.2L-142.2 2.6L-140.7 3.9L-139.2 5.2L-137.6 6.3L-135.7 6.9L-133.8 8.0L-131.6 8.8L-129.7 9.9L-128.1 10.9L-126.2 11.6L-124.7 12.9L-123.5 11.5L-121.7 10.9L-119.8 9.2L-118.7 6.9L-115.7 5.9M24.3 -159.1L22.2 -158.5L20.3 -157.6L18.1 -157.3L16.3 -156.1L14.0 -154.8L11.5 -154.0L9.3 -152.5L6.8 -151.9L4.7 -150.4L2.3 -149.7L1.7 -147.8L0.7 -146.1L2.2 -144.2L3.3 -142.1L4.5 -140.2L5.3 -138.1L3.6 -137.2L2.1 -135.9L0.3 -135.1L-0.6 -133.6L-1.7 -132.1L-0.8 -130.2L-0.7 -128.1L-2.0 -129.4L-3.7 -130.1L-4.8 -132.0L-5.7 -134.1L-7.7 -134.9L-9.7 -135.8L-11.7 -136.5L-14.2 -137.2L-16.7 -137.1L-17.6 -134.6L-18.7 -132.1L-20.5 -130.4L-21.7 -128.1L-20.2 -126.6L-18.7 -125.1L-16.2 -124.1L-13.7 -123.1L-11.7 -122.1L-9.5 -121.5L-7.7 -120.1L-5.7 -118.1L-3.7 -116.1L-1.5 -114.9L0.3 -113.1L2.5 -112.5L4.2 -110.8L6.3 -110.1L8.4 -109.7L10.3 -108.8L12.3 -108.1L14.7 -106.9L17.3 -106.1L18.8 -107.1L20.3 -108.1L19.3 -111.1L22.3 -112.1L23.5 -110.2L24.3 -108.1M-4.7 -100.1L-3.2 -101.1L-1.7 -102.1L0.1 -101.5L1.9 -101.1L0.3 -98.5L-1.5 -98.6L-3.3 -98.1ZM-93.5 -57.5L-94.7 -56.2L-96.4 -55.5L-98.2 -54.2L-99.9 -52.9L-101.3 -51.0L-103.0 -49.4L-104.6 -48.0L-106.5 -46.9L-108.0 -45.8L-109.1 -44.3L-110.1 -42.1L-111.1 -39.8L-111.7 -37.8L-112.1 -35.8L-113.1 -33.8L-113.6 -31.7L-115.0 -29.9L-115.6 -27.7L-116.9 -25.6L-118.2 -23.6L-119.3 -22.2L-120.2 -20.6L-122.0 -19.1L-123.7 -17.5M-123.7 -10.0L-121.7 -11.2L-119.6 -12.2L-117.7 -13.5L-115.7 -14.5L-113.6 -15.5L-111.6 -17.5L-108.5 -16.5L-109.6 -15.0L-110.6 -13.5L-109.0 -12.5L-107.5 -11.5L-105.7 -10.3L-103.5 -10.0L-101.6 -8.3L-99.4 -6.9L-97.8 -5.8L-95.9 -5.4L-92.9 -6.4L-89.8 -6.4L-86.8 -5.4L-87.0 -3.3L-86.3 -1.4L-88.3 1.2L-90.5 0.1L-92.4 -1.4L-95.4 -2.9L-97.2 -2.2L-98.9 -1.4L-100.9 -0.7L-102.5 0.7L-104.2 2.0L-105.5 3.7L-106.2 5.4L-107.5 6.7L-107.4 8.8L-108.0 10.8L-107.2 12.8L-106.5 14.8L-106.6 17.0L-107.5 18.9L-106.3 20.8L-105.5 22.9L-106.4 24.7L-108.0 26.0L-109.4 27.9L-110.6 30.0L-111.6 32.0L-112.1 34.1L-113.8 33.4L-115.6 33.5L-117.0 34.6L-118.7 35.1L-121.2 35.4L-123.7 36.1M-86.3 -54.0L-83.7 -54.3L-81.2 -55.0L-79.1 -54.6L-77.2 -53.5L-76.5 -51.5L-75.2 -49.9L-73.4 -48.3L-71.1 -47.4L-71.1 -45.1L-71.6 -42.8L-73.2 -41.6L-74.2 -39.8L-77.2 -38.3L-80.2 -36.8L-81.7 -39.8L-82.3 -41.5L-82.8 -43.3L-83.8 -44.8L-84.8 -46.4L-85.4 -48.4L-86.8 -49.9L-86.2 -51.9ZM-108.0 -44.3L-106.2 -45.9L-104.0 -46.9L-101.5 -47.5L-98.9 -47.9L-96.4 -45.9L-96.9 -43.9L-97.4 -41.8L-95.4 -39.8L-94.0 -42.1L-92.4 -44.3L-91.0 -45.6L-89.3 -46.4L-86.8 -45.4L-84.8 -42.8L-83.6 -41.1L-82.8 -39.3L-83.3 -36.3L-86.3 -34.7L-86.8 -33.0L-86.8 -31.2L-88.3 -28.7L-87.3 -26.1L-85.7 -25.2L-84.8 -23.6L-85.8 -21.1L-88.3 -22.6L-91.4 -24.1L-93.4 -24.4L-95.4 -24.6L-97.4 -24.3L-99.4 -24.1L-100.9 -22.5L-103.0 -21.6L-104.1 -20.2L-105.5 -19.1L-108.5 -20.6L-109.4 -22.2L-110.6 -23.6L-110.3 -25.4L-110.1 -27.2L-109.7 -29.1L-108.5 -30.7L-108.3 -32.8L-109.1 -34.7L-108.5 -36.7L-108.5 -38.8L-109.1 -41.8ZM-99.9 -15.0L-97.8 -16.1L-96.4 -18.0L-94.5 -18.9L-92.4 -19.1L-90.7 -18.5L-89.3 -17.5L-87.5 -16.9L-86.3 -15.5L-86.3 -13.5L-85.8 -11.5L-88.3 -9.4L-90.4 -9.5L-92.4 -10.0L-94.3 -9.3L-96.4 -9.4L-97.7 -10.6L-98.9 -12.0ZM-92.9 -5.4L-91.0 -5.5L-89.3 -6.4L-86.3 -5.4L-86.6 -3.4L-86.3 -1.4L-88.3 1.2L-90.0 0.1L-91.4 -1.4L-92.5 -3.3ZM-116.1 -14.5L-114.1 -15.7L-112.6 -17.5L-110.9 -16.4L-109.1 -15.5L-110.6 -12.5L-112.4 -11.9L-114.1 -11.0L-115.5 -12.5ZM-78.2 -31.2L-77.0 -32.8L-75.2 -33.7L-73.3 -34.6L-71.6 -35.8L-69.9 -36.6L-68.1 -37.3L-66.1 -35.8L-67.1 -32.7L-68.4 -31.3L-70.1 -30.7L-73.1 -29.2L-75.7 -28.2L-74.2 -25.6L-72.2 -24.9L-70.1 -25.1L-67.1 -23.6L-69.1 -21.6L-71.1 -21.5L-73.1 -21.1L-76.2 -21.6L-77.7 -24.6L-77.2 -27.7L-77.4 -29.5ZM-65.0 -38.3L-63.5 -40.8L-61.0 -40.8L-59.9 -38.4L-59.5 -35.8L-60.1 -33.5L-60.0 -31.2L-62.5 -29.7L-64.0 -32.7L-64.9 -35.4ZM-78.7 -15.5L-76.9 -15.7L-75.2 -16.5L-73.4 -16.0L-71.6 -15.5L-71.2 -13.8L-71.1 -12.0L-73.1 -10.0L-74.9 -10.1L-76.7 -10.0L-78.7 -12.0L-78.3 -13.8ZM-63.0 -25.6L-60.0 -27.2L-58.6 -26.1L-57.5 -24.6L-57.4 -22.6L-58.0 -20.6L-60.5 -19.6L-62.5 -22.1L-62.7 -23.9ZM-62.0 -13.5L-60.4 -14.5L-58.5 -15.0L-55.4 -15.0L-55.3 -13.2L-55.9 -11.5L-57.3 -10.2L-59.0 -9.4L-61.5 -10.5ZM-82.2 -6.4L-79.2 -7.9L-77.2 -5.9L-79.2 -3.9L-81.7 -4.2ZM-67.6 -6.4L-65.6 -7.4L-64.9 -5.5L-65.0 -3.4L-66.6 -1.4L-67.9 -3.9ZM-74.2 -5.4L-71.6 -6.4L-71.1 -3.9L-73.1 -1.4L-74.4 -3.4ZM-78.2 -19.1L-76.2 -19.6L-74.2 -19.6L-72.1 -19.3L-70.1 -18.6L-72.1 -17.9L-74.2 -17.5L-76.1 -18.5ZM-68.6 -16.5L-65.0 -17.0L-64.0 -16.0L-67.6 -15.5ZM-64.5 -0.3L-62.9 -1.5L-61.0 -2.4L-59.0 -2.6L-57.0 -2.9L-55.0 -3.5L-52.9 -3.4L-50.8 -2.8L-48.9 -1.9L-50.9 0.2L-50.9 2.1L-51.9 3.7L-54.9 4.7L-58.0 4.2L-61.0 5.2L-63.5 3.2L-64.2 1.5ZM-83.8 -0.3L-81.2 -1.4L-78.2 -0.3L-77.2 2.7L-77.2 4.8L-78.2 6.7L-77.9 8.8L-77.2 10.8L-78.0 12.5L-78.7 14.3L-81.2 14.8L-82.8 11.8L-83.4 9.8L-83.3 7.7L-83.7 5.7L-84.1 3.7L-83.5 1.7ZM-74.2 3.7L-71.1 2.2L-69.4 2.9L-68.1 4.2L-66.7 5.5L-65.0 6.2L-63.0 5.9L-61.0 5.7L-59.0 5.2L-57.0 4.7L-54.9 4.5L-52.9 3.7L-51.8 5.1L-50.9 6.7L-50.2 8.8L-49.4 10.8L-48.5 8.8L-47.9 6.7L-47.1 4.8L-47.3 2.7L-48.9 -0.3L-45.8 0.2L-43.7 1.8L-41.8 3.7L-40.0 5.9L-37.7 7.7L-36.6 10.3L-35.2 12.8L-35.6 15.3L-35.7 17.9L-37.2 20.9L-39.0 21.5L-40.8 21.9L-43.8 21.4L-46.8 19.9L-47.7 21.5L-48.9 22.9L-51.9 24.4L-54.9 22.9L-56.3 21.7L-57.0 19.9L-59.1 19.8L-61.0 18.9L-62.7 18.3L-64.0 16.9L-67.1 15.8L-69.0 15.1L-71.1 14.8L-72.3 13.4L-73.1 11.8L-74.0 9.8L-74.2 7.7L-74.6 5.7ZM-108.5 8.8L-106.3 7.0L-104.5 4.7L-101.8 4.0L-99.4 2.7L-96.9 3.1L-94.4 3.2L-91.8 4.3L-89.3 5.7L-87.8 7.6L-86.8 9.8L-86.3 12.3L-86.3 14.8L-86.8 17.4L-87.3 19.9L-88.6 21.6L-90.3 22.9L-91.3 25.0L-92.4 27.0L-93.2 28.6L-94.4 30.0L-95.8 31.8L-96.4 34.1L-97.8 36.4L-98.4 39.1L-99.5 40.6L-100.5 42.1L-103.5 43.2L-106.5 44.2L-109.6 45.2L-110.8 43.3L-111.6 41.1L-110.2 39.3L-109.6 37.1L-110.8 35.7L-111.6 34.1L-110.7 32.0L-109.6 30.0L-109.0 28.0L-107.6 26.5L-106.5 24.9L-107.5 22.9L-108.5 20.9L-108.7 18.9L-109.2 16.9L-109.1 14.8L-108.9 12.8L-109.2 10.8ZM-98.9 8.8L-95.4 6.7L-91.4 7.2L-88.3 9.8M-95.4 14.8L-92.4 13.8L-89.3 14.8M-92.4 17.9L-89.8 16.3L-87.3 17.9L-87.8 20.9L-90.3 21.9L-92.2 20.4ZM-122.7 -5.4L-120.8 -6.1L-118.7 -6.4L-116.9 -5.7L-115.6 -4.4L-116.6 -2.8L-117.7 -1.4L-115.9 -0.7L-114.6 0.7L-115.2 2.5L-116.6 3.7L-119.7 4.7L-121.1 5.9L-122.7 6.7M-120.2 29.5L-117.7 28.0L-115.1 30.0L-116.1 33.0L-119.2 33.5L-120.0 31.6ZM-23.7 -142.1L-21.7 -141.0L-19.7 -140.1L-18.2 -138.1L-16.7 -136.1L-17.9 -134.2L-18.7 -132.1L-20.3 -130.2L-21.7 -128.1L-19.8 -126.6L-17.9 -125.1L-15.7 -124.1L-13.6 -122.7L-11.6 -121.2L-10.0 -119.2L-7.7 -118.1L-5.5 -116.9L-3.8 -114.9L-1.8 -113.5L0.3 -112.1L2.5 -111.5L4.2 -109.8L6.1 -108.7L8.3 -108.1L10.3 -107.5L12.2 -106.9L14.2 -106.3L16.3 -106.1L17.5 -108.3L19.3 -110.1L20.3 -108.6L21.3 -107.1L23.8 -106.1L26.3 -105.1L28.2 -104.0L30.2 -103.3L32.2 -102.5L34.3 -102.1L35.2 -100.1L36.3 -98.1L38.0 -95.8L40.3 -94.1L42.2 -92.9L44.2 -91.9L46.3 -91.1L47.6 -88.7L48.3 -86.1L49.7 -84.7L50.6 -83.0L51.3 -81.1L52.7 -79.5L54.3 -78.0L55.3 -76.1L56.6 -74.4L58.3 -73.1L60.3 -74.6L62.3 -76.1L64.2 -75.0L66.3 -74.1L68.2 -72.7L70.2 -71.3L72.3 -70.1L74.0 -68.8L75.9 -67.8L77.3 -66.1L76.5 -64.2L76.3 -62.1L74.2 -61.3L72.3 -60.1L71.8 -57.6L71.3 -55.1L72.8 -53.1L74.3 -51.1L75.7 -49.0L77.3 -47.1L78.4 -45.2L78.4 -43.0L79.3 -41.1L79.9 -39.1L80.4 -37.2L80.3 -35.1L79.5 -33.0L78.3 -31.1L80.2 -29.4L82.3 -28.1L84.0 -27.3L85.3 -26.1L82.9 -27.3L80.3 -28.1L78.4 -28.9L76.3 -28.8L74.3 -29.1L71.8 -28.0L69.3 -27.1L68.3 -25.4L67.1 -23.9L66.3 -22.1L66.5 -19.5L67.3 -17.1L66.2 -15.7L65.3 -14.1L67.7 -13.0L70.3 -12.1L72.0 -10.3L73.3 -8.3L74.3 -6.1L75.2 -4.2L75.4 -2.0L76.3 -0.1L78.4 1.8L80.3 3.9L81.9 5.0L83.9 5.5L85.3 6.9L86.4 8.8L86.9 10.8L87.3 12.9L89.3 13.6L91.3 13.9L93.4 13.1L95.3 11.9L96.3 14.9L94.7 16.8L93.3 18.9L92.5 20.5L91.3 21.9M-23.7 -127.1L-21.7 -128.1L-19.7 -129.1L-17.7 -130.1L-15.7 -131.5L-13.9 -133.1L-11.7 -134.1L-9.9 -132.5L-7.5 -131.9L-6.0 -129.9L-3.7 -129.1L-0.7 -130.1L0.7 -131.9L0.9 -134.3L2.3 -136.1L1.9 -138.1L1.9 -140.2L1.3 -142.1L2.0 -144.1L1.6 -146.1L1.9 -148.1L3.9 -149.3L6.0 -150.4L8.3 -151.1L10.5 -151.7L12.2 -153.4L14.3 -154.0L16.3 -155.1L18.5 -156.4L21.0 -157.1L23.3 -158.1L25.2 -158.7L26.4 -160.4L28.3 -161.1L30.2 -160.1L32.3 -159.8L34.3 -159.1L36.4 -159.2L38.3 -159.8L40.3 -160.5L42.2 -161.6L44.5 -161.9L46.3 -163.1L48.3 -164.6L50.3 -166.1L50.9 -168.0L51.9 -169.7L53.3 -171.1L52.8 -173.6L52.3 -176.1L54.3 -177.6L56.3 -179.1L57.6 -181.2L59.3 -183.1L60.8 -184.4L62.6 -185.2L64.3 -186.1L66.2 -187.7L68.3 -189.1L70.2 -190.2L71.3 -192.2L73.3 -193.1L75.1 -194.2L76.8 -195.5L78.3 -197.1L80.1 -198.4L82.5 -198.7L84.3 -200.1L85.3 -198.1L84.6 -196.2L83.9 -194.2L84.0 -192.0L83.3 -190.1L82.9 -188.1L82.4 -186.1L81.3 -184.2L81.3 -182.1L80.5 -180.1L80.1 -178.1L79.3 -176.1L78.0 -174.1L76.8 -172.0L75.3 -170.1L73.9 -168.4L72.2 -167.1L70.3 -166.1L68.2 -165.4L66.4 -163.9L64.3 -163.1L62.1 -162.1L60.4 -160.2L58.3 -159.1L56.4 -157.9L54.3 -157.1L52.3 -156.1L50.4 -155.1L48.3 -154.6L46.3 -154.1L44.0 -152.4L42.3 -150.1L40.9 -147.7L40.3 -145.1L41.6 -143.8L43.3 -143.1L44.9 -145.0L46.3 -147.1L48.9 -147.2L51.3 -148.1L53.0 -145.8L55.3 -144.1L57.8 -144.6L60.3 -145.1L62.4 -145.9L64.1 -147.5L66.3 -148.1L68.1 -149.3L69.6 -150.8L71.3 -152.1L72.9 -152.9L74.3 -154.1L76.2 -152.0L78.3 -150.1L80.4 -149.8L82.3 -149.1L84.2 -147.4L85.3 -145.1L86.7 -143.7L88.8 -143.4L90.3 -142.1L92.0 -140.8L93.7 -139.6L95.3 -138.1L97.1 -137.3L98.5 -135.9L100.3 -135.1L102.1 -133.7L104.3 -133.1L106.3 -133.6L108.3 -133.4L110.3 -134.0L112.3 -134.1L114.3 -134.5L116.3 -135.2L118.2 -135.9L120.3 -136.1L122.2 -136.9L124.2 -137.4L126.4 -137.2L128.3 -138.1L130.3 -138.4L132.3 -138.9L134.4 -138.4L136.3 -139.1L137.3 -141.0L137.3 -143.1L135.8 -144.6L134.3 -146.1L135.0 -147.8L136.3 -149.1L133.3 -150.1L132.0 -148.8L130.3 -148.1L129.2 -150.0L128.8 -152.1L128.3 -154.1L126.5 -155.3L125.3 -157.1L122.8 -156.8L120.3 -157.1L121.3 -159.1L122.1 -161.0L123.4 -162.6L124.6 -164.2L125.3 -166.1L126.5 -168.0L127.2 -170.1L128.2 -172.1L129.3 -174.1L130.3 -175.8L131.2 -177.5L132.3 -179.1M126.3 -157.1L127.2 -158.9L127.9 -160.8L129.1 -162.5L130.3 -164.1L131.7 -165.9L132.0 -168.3L133.3 -170.1L134.6 -172.1L136.1 -174.0L137.3 -176.1L138.6 -174.8L140.3 -174.1M39.3 -72.1L41.3 -74.1L42.8 -72.3L43.9 -70.1L42.3 -67.1L41.1 -68.6L40.1 -70.3ZM45.3 -63.1L47.2 -64.7L49.3 -66.1L51.3 -64.6L53.3 -63.1L53.4 -61.0L54.3 -59.1L52.1 -57.3L50.3 -55.1L48.5 -56.9L46.3 -58.1L45.3 -60.5ZM53.3 -74.1L56.3 -75.1L57.3 -73.2L57.3 -71.1L55.7 -70.3L54.3 -69.1L54.2 -71.7ZM177.3 -64.1L179.6 -64.5L182.0 -64.7L184.3 -65.1L186.4 -65.2L188.3 -64.5L190.2 -63.6L192.3 -63.7L194.2 -62.5L196.2 -61.6L198.3 -61.1L200.0 -59.4L202.4 -58.6L204.3 -57.1L205.9 -55.7L207.2 -54.0L208.3 -52.1L207.3 -49.1L205.3 -51.1L203.3 -53.1L201.4 -54.6L199.5 -56.1L197.3 -57.1L195.4 -58.3L193.4 -59.2L191.3 -60.1L189.0 -60.9L186.6 -61.1L184.3 -61.7L182.3 -61.8L180.3 -61.2L178.3 -61.7ZM47.3 -6.1L49.1 -7.2L50.5 -9.0L52.3 -10.1L54.3 -11.5L55.7 -13.3L57.3 -15.1L59.3 -15.8L61.3 -16.1L62.6 -14.8L63.3 -13.1L62.5 -11.3L61.2 -9.8L60.3 -8.1L58.2 -6.2L56.3 -4.1L54.5 -2.3L52.3 -1.1L50.2 -1.2L48.3 -2.1L47.8 -4.1ZM76.3 -31.1L78.3 -32.0L80.3 -33.1L82.0 -31.9L83.8 -30.6L85.3 -29.1L85.7 -27.1L86.3 -25.1L84.2 -25.1L82.3 -26.1L80.2 -26.9L78.3 -28.1L77.3 -29.6ZM-21.7 -210.5L-19.7 -211.7M-13.7 -211.1L-11.7 -210.5M-8.1 -211.7L-6.7 -210.1M23.3 -205.1L26.3 -204.5L26.7 -202.5L23.9 -203.1ZM45.3 -189.1L46.7 -184.5M45.3 -163.1L48.3 -165.1L49.9 -163.1L46.7 -161.1ZM129.3 -143.1L131.9 -144.1L132.7 -141.7L130.3 -140.5ZM91.3 -28.1L95.3 -27.1L96.3 -24.1M64.3 -26.1L64.5 -24.0L65.5 -22.1L66.3 -20.1L67.5 -18.3L69.3 -17.1L71.0 -15.5L72.8 -14.0L74.3 -12.1L75.2 -10.2L75.2 -8.0L76.3 -6.1L77.5 -4.0L79.1 -2.2L80.3 -0.1L82.3 0.9L83.6 2.6L85.3 3.9L85.8 6.0L86.7 7.9L87.3 9.9L89.4 10.2L91.3 10.9L93.9 10.1L96.3 8.9L96.4 11.0L97.3 12.9L96.0 15.1L94.3 16.9L93.1 18.3L91.3 18.9L93.9 19.7L96.3 20.9L97.4 22.9L98.3 24.9L96.2 25.4L94.3 26.3L91.9 27.2L89.3 27.5L87.2 27.9L85.3 28.9M85.3 28.9L87.9 28.1L90.3 26.9L92.3 27.6L94.4 28.0L96.3 28.9L98.2 29.9L100.3 29.7L102.2 30.7L104.3 30.9L106.4 31.1L108.4 31.6L110.2 32.7L112.3 32.9L114.3 32.2L116.3 31.9L118.0 34.2L120.3 35.9L121.0 37.9L121.9 39.8L122.3 41.9L119.3 42.9L118.1 41.4L117.2 39.6L116.3 37.9L114.4 36.8L112.3 35.9L110.4 35.1L108.2 35.6L106.3 34.9L104.3 34.7L102.3 34.5L100.3 33.9L98.3 33.4L96.3 34.3L94.3 33.9L91.6 33.3L89.3 31.9L87.0 30.8ZM85.3 28.9L87.4 30.8L89.3 32.9L90.7 34.8L92.4 36.5L94.3 37.9L96.2 39.1L98.1 40.3L100.3 40.9L102.3 41.3L104.3 40.7L106.3 40.9L107.6 39.6L109.3 38.9L107.3 40.3L105.8 42.1L104.3 43.9L102.6 45.6L100.2 46.4L98.3 47.9L96.7 49.0L95.0 50.0L93.3 50.9L92.4 52.5L91.3 53.9L90.5 55.7L92.2 55.0L94.0 55.0L96.0 54.2L98.2 54.3L100.3 56.4L101.2 58.1L101.7 59.9L98.9 58.5L98.0 60.3L96.8 62.0L96.0 63.7L96.1 65.5L95.0 67.2L93.3 68.3L92.2 70.3L91.9 72.5L91.5 74.4L90.5 76.0L91.3 77.7L91.9 79.5L91.9 81.3L92.6 83.0L91.3 84.2L90.5 85.8L87.7 85.1L86.6 83.7L85.6 82.3L83.9 83.1L82.1 83.0L79.3 84.4L81.1 85.1L82.8 85.8L84.9 87.9L87.7 89.3L89.8 91.4L89.1 94.2L88.2 95.7L87.0 97.0L86.2 98.7L86.3 100.5L88.4 102.6L89.1 104.7L87.4 105.4L85.6 105.4L82.8 106.8L84.2 108.9L87.0 109.6L86.3 111.7L84.6 112.5L82.8 113.1L80.8 112.4L78.6 112.4L76.9 111.7L75.8 110.3L74.7 109.0L73.7 107.5L72.1 106.5L70.2 106.1L68.1 105.5L66.0 105.4L67.8 104.9L69.5 105.4L71.5 104.4L73.7 104.4L76.1 103.4L78.6 103.3L80.6 102.6L82.1 101.2L83.5 98.4L82.9 96.7L82.8 94.9L81.9 93.4L80.7 92.1L78.7 91.4L76.5 91.4L73.7 91.6L70.9 91.4L68.1 91.8L65.3 91.8L62.5 91.5L59.7 92.1L57.3 91.6L54.8 91.4L53.1 92.0L51.3 92.1L49.2 91.5L47.1 91.4L45.4 91.9L43.6 92.1L42.4 93.7L40.8 94.9L39.8 97.3L38.0 99.1L36.4 101.1L35.2 103.3L33.8 105.2L33.1 107.5L31.9 109.5L31.0 111.7L28.9 113.5L27.5 115.9L30.3 117.3L30.3 119.3L29.6 121.1L28.9 122.9L28.5 124.8L27.5 126.5L27.5 128.5L26.6 130.3L26.7 132.3L26.1 134.1L25.6 136.1L24.8 137.9L24.0 139.7L22.3 141.8L20.5 143.9L18.4 145.7L17.0 148.1L16.4 150.1L14.9 151.7L14.2 153.7L13.5 155.5L13.0 157.4L12.8 159.3L14.0 159.5L14.8 162.1L16.1 164.4L16.7 166.9L17.5 169.3L19.0 170.6L20.3 172.1L22.1 172.3L23.8 172.8L25.1 171.6L26.6 170.7L27.9 169.5L28.7 167.9L30.8 165.8L32.9 167.2L34.3 168.7L35.0 170.7L36.3 172.3L37.1 174.2L37.9 176.1L39.2 177.7L40.5 179.3L41.3 181.2L42.7 182.3L43.4 184.0L45.5 185.4L47.6 183.3L48.2 181.0L49.7 179.1L50.1 176.3L50.4 173.5L50.6 170.7L51.1 167.9L52.1 166.2L52.5 164.3L52.6 162.3L53.4 159.9L53.3 157.4L52.0 155.8L51.1 153.9L49.4 152.0L48.3 149.7L46.9 147.8L46.2 145.5L45.8 143.4L45.5 141.3L46.4 139.3L46.9 137.1L47.9 135.0L49.0 132.9L50.4 130.1L49.9 128.5L49.3 126.4L49.2 124.3L49.8 122.5L50.6 120.8L52.4 120.2L54.1 119.4L55.4 120.6L56.9 121.5L56.3 123.9L56.2 126.4L55.2 128.8L54.8 131.3L55.0 134.1L55.5 136.9L56.3 138.7L56.1 140.7L56.9 142.5L58.1 144.5L59.0 146.7L60.7 147.8L62.5 148.8L65.3 148.8L66.6 147.6L68.1 146.7L69.7 145.5L70.9 143.9L72.5 142.6L74.4 141.8L76.1 141.2L77.9 141.1L79.7 141.2L81.4 141.8L82.8 143.2L81.1 143.9L79.3 143.9L77.7 144.6L76.5 146.0L75.1 147.0L73.7 148.1L72.4 149.6L70.9 150.9L69.6 152.7L68.1 154.4L66.4 155.5L65.3 157.2L68.1 157.9L70.2 160.0L68.0 161.6L70.1 161.3L72.2 160.9L73.1 162.6L73.6 164.4L72.0 165.2L70.8 166.5L69.1 165.7L67.3 165.1L66.5 167.1L66.6 169.3L67.3 172.1L67.3 174.9L67.0 177.4L66.6 179.8L65.3 181.4L64.5 183.3L62.9 184.5L61.7 186.1L59.8 186.4L58.2 187.5L56.7 188.9L54.7 189.6L53.0 190.8L51.1 191.7L48.3 193.1L46.4 192.8L44.8 191.7L42.7 193.8L40.7 194.5L38.5 194.5L37.1 195.9L36.0 194.5L34.3 193.8L33.7 192.0L32.9 190.3L33.7 188.3L33.6 186.1L33.1 184.0L32.9 181.9L32.9 179.7L32.2 177.7L30.1 176.3L28.7 177.4L27.3 178.4L27.0 180.6L26.2 182.6L26.5 184.8L27.3 186.8L28.0 189.1L29.4 191.0L30.3 192.6L30.4 194.5L29.1 195.8L28.0 197.3L26.2 198.6L24.5 200.1L21.7 201.5L20.5 203.1L18.9 204.3L17.6 206.5L16.1 208.5L15.0 210.8L13.3 212.7L11.8 214.7L9.8 216.2L8.6 218.1L7.0 219.7L6.6 221.9L6.3 224.2M-37.8 207.1L-36.6 205.4L-35.7 203.6L-35.3 201.7L-34.3 200.1L-35.0 197.3L-33.9 195.9L-32.2 195.2L-30.6 193.7L-28.7 192.4L-26.9 191.9L-25.2 191.0L-23.4 191.0L-21.7 191.7L-20.3 194.5L-20.5 196.3L-21.0 198.0L-20.0 199.6L-19.6 201.5L-20.6 203.1L-21.0 205.0L-22.1 206.4L-23.1 207.8L-24.7 208.9L-26.6 209.2L-28.6 210.3L-30.8 210.6L-32.9 211.1L-35.0 211.3L-37.1 209.9ZM-17.5 172.8L-14.7 172.1L-13.0 172.5L-11.2 172.8L-9.1 174.9L-9.8 177.0L-7.0 178.4L-6.3 181.2L-7.5 182.5L-8.4 184.0L-7.7 186.1L-6.0 187.2L-4.9 188.9L-3.5 190.8L-2.8 193.1L-1.9 195.3L-0.7 197.3L0.1 199.4L0.7 201.5L1.9 203.1L2.8 205.0L4.3 205.9L5.6 207.1L5.9 209.0L7.0 210.6L6.5 212.4L5.6 214.1L2.8 215.5L4.2 217.6L2.1 219.7L0.0 219.6L-2.1 219.7L-4.2 219.5L-6.3 219.0L-8.0 219.4L-9.8 219.7L-11.7 220.1L-13.3 221.1L-15.5 221.0L-17.5 221.8L-19.2 222.4L-21.0 222.8L-19.8 221.0L-18.2 219.7L-16.7 218.8L-15.4 217.6L-13.8 216.6L-11.9 216.2L-14.0 214.1L-15.8 214.6L-17.5 214.1L-18.9 212.0L-17.3 211.3L-16.1 209.9L-14.7 207.1L-16.8 205.0L-16.5 203.2L-16.1 201.5L-13.3 200.1L-12.0 198.9L-11.2 197.3L-14.0 195.9L-15.1 194.6L-16.1 193.1L-17.5 190.3L-16.1 187.5L-16.8 185.9L-18.2 184.7L-17.9 182.9L-17.5 181.2L-18.5 179.6L-18.9 177.7L-18.2 174.9ZM-22.4 174.2L-21.3 172.8L-19.6 172.1L-18.6 174.6L-19.5 176.5L-20.3 178.4L-22.0 177.0ZM33.6 186.8L35.4 186.2L37.1 185.4L38.6 186.8L40.6 187.5L41.4 189.2L41.3 191.0L38.5 192.4L36.8 191.9L35.0 191.7L34.2 189.3ZM55.4 168.6L57.5 166.8L58.4 170.0L56.8 172.1ZM18.2 206.4L20.1 205.5L21.0 207.4L19.2 208.5ZM-19.9 150.4L-17.8 149.7L-16.9 151.8L-18.9 152.5ZM-4.9 162.0L-3.5 162.6L-3.9 164.4L-5.2 163.7ZM78.6 135.5L80.0 134.3L81.4 133.0L83.5 132.8L85.6 133.4L86.8 134.7L87.7 136.2L87.0 137.9L86.3 139.7L84.4 140.0L82.8 141.1L81.0 140.4L79.6 139.0L79.1 137.3ZM84.2 122.2L87.0 121.5L88.6 123.1L90.5 124.3L92.0 126.1L94.0 127.1L92.6 129.2L90.7 128.8L89.1 127.8L87.5 127.0L86.3 125.7L85.6 123.7ZM83.5 73.2L85.6 71.4L87.7 73.2L86.3 76.0L84.2 75.3ZM65.3 28.9L67.3 26.9L67.9 29.6L69.3 31.9L69.8 33.9L70.7 35.8L70.4 38.0L71.3 39.9L72.4 42.2L72.9 44.7L74.3 46.9L75.5 49.0L76.7 51.1L78.3 52.9L80.1 53.6L81.5 55.1L83.3 55.9L84.6 54.7L86.3 53.9L85.3 56.9L82.8 58.0L80.3 58.9L78.5 57.1L76.3 55.9L75.2 53.7L73.4 52.1L72.3 49.9L71.1 48.0L70.4 45.9L69.6 43.9L68.7 41.9L68.0 39.9L67.1 38.0L66.7 36.0L66.3 33.9L66.0 31.4ZM10.3 53.9L12.2 53.2L13.4 51.5L15.3 50.9L17.3 50.0L19.3 48.9L21.2 49.6L23.3 49.9L24.2 51.8L24.3 53.9L22.6 54.6L21.3 55.9L23.5 57.1L25.3 58.9L26.3 61.9L23.3 62.9L22.4 61.3L21.3 59.9L20.3 61.4L19.3 62.9L19.7 64.9L20.3 66.9L18.7 66.1L17.3 64.9L16.2 62.4L15.3 59.9L13.8 58.8L12.3 57.9L11.2 55.9ZM35.3 32.9L36.9 31.5L38.3 29.9L39.3 31.4L40.3 32.9L38.8 34.0L37.3 34.9ZM40.3 23.9L41.5 22.5L43.3 21.9L44.2 24.0L45.3 25.9L43.8 27.4L42.3 28.9L41.1 26.5ZM46.3 -13.1L48.1 -13.9L49.8 -14.9L51.3 -16.1L53.3 -17.1L55.2 -18.4L57.3 -19.1L59.3 -18.6L61.3 -18.1L62.3 -15.1L60.6 -12.8L58.3 -11.1L56.9 -9.5L55.0 -8.4L53.3 -7.1L51.4 -6.2L49.3 -6.1L48.2 -8.4L47.3 -10.8ZM79.3 132.9L81.1 131.5L83.3 130.9L84.9 132.5L86.7 133.9L86.4 136.5L85.3 138.9L83.2 139.2L81.3 139.9L80.2 138.2L78.7 136.9L79.0 134.9ZM85.3 119.9L88.3 118.9L90.2 119.9L91.6 121.6L93.3 122.9L92.3 125.9L90.3 125.5L88.3 124.9L87.7 123.0L86.0 121.8ZM84.3 73.9L86.7 72.9L87.5 75.9L85.3 76.9ZM-19.7 150.9L-17.3 149.9L-16.1 152.3L-18.7 153.3ZM-16.7 101.9L-14.7 100.3L-13.7 102.3L-15.7 103.5ZM-186.7 121.9L-184.8 121.2L-183.1 120.3L-181.7 118.9L-179.6 117.6L-177.7 115.9L-175.6 115.2L-173.7 113.9L-172.4 112.3L-170.4 111.6L-169.3 109.9L-168.9 107.9L-168.1 106.0L-167.7 104.0L-167.7 101.9L-167.5 99.8L-166.4 98.0L-165.8 96.0L-165.7 93.9L-165.1 91.7L-163.8 89.8L-162.7 87.9L-161.2 86.4L-160.3 84.4L-158.7 82.9L-157.1 81.5L-156.2 79.4L-154.7 77.9L-152.5 76.1L-150.7 73.9L-149.5 72.1L-147.7 70.9L-149.7 68.9L-151.7 66.9L-154.3 67.0L-156.7 67.9L-159.1 67.7L-161.3 66.9L-161.2 64.4L-160.7 61.9L-159.2 59.9L-157.7 57.9L-158.4 55.9L-158.7 53.9L-157.0 52.0L-154.7 50.9L-152.9 48.7L-150.7 46.9L-149.3 44.7L-147.3 42.9L-146.3 40.7L-146.1 38.3L-145.7 35.9L-145.8 33.3L-146.7 30.9L-146.7 28.5L-145.8 26.3L-145.7 23.9L-145.1 21.3L-143.7 18.9L-142.2 19.9L-140.7 20.9L-139.1 19.0L-137.7 16.9L-135.3 15.8L-132.7 14.9L-130.5 14.2L-128.7 12.9L-127.7 10.9L-126.7 8.9L-129.7 9.9L-131.7 9.0L-133.6 7.9L-135.7 7.5L-137.6 8.4L-139.8 8.0L-141.7 8.9L-143.8 10.3L-145.7 11.9L-144.6 9.8L-143.3 7.9L-143.8 5.5L-145.1 3.3L-145.7 0.9L-146.5 -1.5L-148.0 -3.5L-149.3 -5.7L-151.4 -6.5L-153.2 -7.8L-155.3 -8.5L-157.3 -9.2L-159.4 -9.8L-161.2 -11.1L-163.3 -11.7L-165.5 -11.5L-167.5 -12.6L-169.7 -12.5L-171.5 -10.3L-173.7 -8.5L-175.8 -8.0L-178.0 -7.8L-180.0 -6.8L-182.1 -6.1L-182.9 -4.2L-183.2 -2.0L-183.6 0.1L-184.7 1.9L-185.1 4.1L-186.1 6.0L-187.4 7.9L-188.1 9.9L-188.9 12.3L-189.8 14.6L-190.7 16.9L-191.6 18.8L-191.3 21.0L-191.9 23.0L-192.7 24.9L-195.0 25.8L-197.0 27.3L-199.2 28.4L-201.7 28.9L-203.7 29.7L-205.6 30.6L-207.7 30.9L-209.6 32.7L-211.5 34.4L-213.7 35.9L-211.8 37.5L-209.7 38.9L-207.8 40.5L-205.7 41.9L-203.3 40.6L-200.7 39.9L-198.6 39.0L-196.7 37.9L-194.7 36.9L-192.8 36.2L-190.6 36.7L-188.7 35.9L-186.1 36.7L-183.7 37.9L-181.6 38.2L-179.6 38.8L-177.7 39.9L-175.6 39.0L-173.7 37.9L-171.5 36.9L-169.5 35.5L-167.7 33.9L-165.2 32.8L-162.7 31.9L-160.7 31.3L-158.8 30.8L-156.7 30.9L-154.2 31.5L-151.7 31.9L-149.7 31.5L-147.7 30.9M-187.7 113.9L-185.5 114.6L-183.5 115.6L-181.3 116.3L-179.4 116.9L-177.7 118.0L-175.7 118.3L-176.7 120.0L-177.3 121.9L-179.4 122.5L-181.6 122.2L-183.7 122.9L-186.4 122.3L-188.7 120.9L-188.3 118.6L-188.1 116.2ZM-205.7 31.9L-203.3 30.3L-201.7 32.9L-204.1 34.9ZM-186.7 33.9L-184.8 32.9L-182.7 32.3L-181.3 33.7L-180.7 35.5L-182.8 36.3L-184.7 37.5L-186.1 35.9ZM-152.7 27.9L-150.7 27.1L-148.7 26.3L-147.7 29.5L-149.8 29.8L-151.7 30.9ZM-150.7 18.9L-149.7 17.2L-148.1 15.9L-147.0 17.8L-146.5 19.9L-147.8 21.3L-148.9 22.9L-149.8 20.9ZM-141.7 20.9L-141.2 23.3L-140.7 25.7L-139.7 27.9L-139.8 30.5L-140.3 32.9L-140.7 35.4L-141.3 37.9L-140.7 40.3L-141.4 42.7L-141.2 45.1L-141.0 47.5L-140.7 49.9L-139.6 51.8L-139.8 54.0L-139.1 56.0L-138.3 57.9L-137.7 59.9L-136.5 58.0L-135.7 55.9L-134.7 53.9L-134.7 51.9L-134.6 49.9L-134.2 47.9L-133.7 45.9L-133.1 43.7L-131.8 41.8L-130.7 39.9L-130.6 41.9L-130.2 43.9L-129.7 45.9L-129.8 47.9L-129.4 49.9L-128.7 51.9L-128.7 53.9L-127.7 55.9L-126.6 57.9L-125.7 59.9L-124.4 58.0L-123.7 55.9L-122.7 53.9L-122.3 51.8L-121.2 49.9L-120.7 47.9L-119.5 49.7L-117.7 50.9L-117.8 53.3L-118.7 55.5L-118.7 57.9L-116.8 59.6L-115.7 61.9L-113.8 60.7L-111.7 59.9L-110.9 57.8L-109.5 56.0L-108.7 53.9L-108.5 51.8L-109.0 49.9L-109.6 47.9L-109.7 45.9L-110.7 43.7L-112.5 42.0L-113.7 39.9L-113.3 37.8L-112.0 36.0L-111.7 33.9L-113.6 32.8L-115.7 31.9L-117.8 32.7L-119.7 33.9L-122.2 33.2L-124.7 32.9L-127.0 31.5L-129.7 30.9L-131.7 29.4L-133.7 27.9L-134.4 25.7L-135.7 23.9L-137.6 22.7L-139.7 21.9M-144.7 12.9L-142.1 12.2L-139.7 10.9L-137.7 10.2L-135.6 9.8L-133.7 8.9L-131.7 9.6L-129.6 10.1L-127.7 10.9L-128.9 9.6L-129.7 7.9L-127.6 7.0L-125.7 5.9L-123.9 4.5L-121.7 3.9L-119.0 3.3L-116.7 1.9L-115.5 -0.3L-113.7 -2.1M-120.7 27.9L-119.0 26.0L-116.7 24.9L-114.9 26.7L-113.7 28.9L-115.5 30.6L-116.7 32.9L-118.4 32.5L-120.1 31.9L-120.8 30.0ZM-38.7 21.9L-36.0 22.5L-33.7 23.9L-31.5 24.5L-29.8 26.1L-27.7 26.9L-25.7 27.4L-23.7 27.8L-21.7 27.9L-19.3 29.1L-16.7 29.9L-14.9 31.6L-13.7 33.9L-14.8 35.9L-15.7 37.9L-17.6 39.5L-19.7 40.9L-19.0 42.6L-17.7 43.9L-15.6 43.2L-13.7 41.9L-12.1 43.2L-10.1 43.9L-10.5 46.1L-11.7 47.9L-13.3 49.7L-14.7 51.7L-15.7 53.9L-17.4 55.7L-18.0 58.1L-19.7 59.9L-20.4 62.0L-21.4 64.1L-22.7 65.9L-22.9 68.0L-24.4 69.8L-24.7 71.9L-26.0 73.4L-26.8 75.2L-27.7 76.9L-29.6 78.3L-31.1 80.1L-32.7 81.9L-33.9 83.7L-35.1 85.5L-36.7 86.9L-38.1 88.9L-40.2 90.1L-41.7 91.9L-43.6 93.2L-45.7 93.9L-43.7 95.9L-45.1 98.0L-46.7 99.9L-48.3 101.0L-49.8 102.3L-51.7 102.9L-53.7 103.5L-55.7 103.8L-57.7 103.9L-59.7 103.4L-61.7 103.4L-63.7 102.9L-65.6 103.7L-67.8 103.8L-69.7 104.9L-71.7 105.6L-73.8 105.9L-75.7 106.9L-77.7 106.1L-79.8 106.0L-81.7 104.9L-83.7 104.7L-85.7 104.3L-87.7 103.9L-89.4 105.7L-90.7 107.9L-93.1 109.0L-95.7 109.9L-98.3 110.7L-100.7 111.9L-102.2 113.4L-103.7 114.9L-105.2 116.1L-107.2 116.6L-108.7 117.9L-110.2 119.3L-112.2 119.6L-113.7 120.9L-115.0 119.0L-115.7 116.9L-117.0 114.7L-117.6 112.3L-118.1 109.9L-117.4 107.6L-116.7 105.3L-116.7 102.9L-116.2 100.4L-114.7 98.2L-113.7 95.9L-112.7 94.1L-111.4 92.5L-111.0 90.5L-109.7 88.9L-108.4 86.9L-107.2 84.8L-105.7 82.9L-103.8 81.5L-102.5 79.4L-100.7 77.9L-98.8 77.3L-97.5 75.7L-95.7 74.9L-93.3 74.1L-90.7 73.9L-88.2 73.6L-85.7 72.9L-84.2 70.9L-82.7 68.9L-84.4 68.2L-85.7 66.9L-88.2 67.3L-90.7 67.9L-90.0 66.2L-88.7 64.9L-86.6 64.2L-84.7 62.9L-83.1 61.5L-81.7 59.9L-79.5 58.1L-77.7 55.9L-76.3 54.3L-75.1 52.5L-73.7 50.9L-72.4 49.2L-71.1 47.5L-69.7 45.9L-68.7 44.0L-68.8 41.8L-67.7 39.9L-68.0 37.8L-69.5 36.1L-69.7 33.9L-69.7 31.9L-69.3 29.9L-68.7 27.9L-67.4 26.4L-66.7 24.6L-65.7 22.9L-63.8 21.5L-61.5 20.6L-59.7 18.9L-57.8 18.0L-55.7 17.5L-53.7 16.9L-51.7 17.2L-49.7 17.7L-47.7 17.9L-45.7 17.9L-44.0 19.0L-42.1 19.8L-40.4 20.7L-38.7 21.9M-56.7 126.9L-56.0 124.7L-54.7 122.9L-52.5 122.2L-50.7 120.9L-51.7 123.9L-49.2 123.6L-46.7 122.9L-44.2 123.6L-41.7 123.9L-39.6 123.9L-37.7 124.5L-35.7 124.9L-33.9 127.1L-31.7 128.9L-32.3 131.4L-32.7 133.9L-34.5 135.7L-36.7 136.9L-38.7 137.3L-40.8 137.2L-42.7 137.9L-44.6 138.7L-46.7 138.9L-48.9 137.6L-50.7 135.9L-52.3 135.1L-53.7 133.9L-54.5 132.3L-55.7 130.9L-55.9 128.8ZM-19.7 151.9L-17.7 150.7L-16.5 152.9L-18.7 153.9ZM-16.7 102.9L-14.7 101.5L-13.7 103.5L-15.7 104.7Z"/></g></g>
<line x1="373.5" y1="429.9" x2="373.5" y2="653.3" stroke="#fff" stroke-opacity="0.13" stroke-width="1"/>
<circle cx="373.5" cy="429.9" r="223.4" fill="none" stroke="#000" stroke-width="1.1"/>
<g clip-path="url(#clip1)"><path d="M626.0 196.0 L1096.0 196.0 L1096.0 664.0 L626.0 664.0Z" fill="#0018b6"/><clipPath id="bc1"><rect x="626" y="196" width="234" height="234"/></clipPath><g clip-path="url(#bc1)"><path d="M616.0 304.0C623.0 317.6 667.1 303.0 676.0 303.0C684.9 303.0 688.0 303.4 692.0 304.0C696.0 304.6 705.6 306.8 710.0 308.0C714.4 309.2 725.6 312.6 730.0 314.0C734.4 315.4 744.0 320.3 748.0 320.4C752.0 320.5 760.3 316.8 764.0 315.0C767.7 313.2 777.0 307.4 780.0 305.0C783.0 302.6 788.1 295.9 790.0 294.0C791.9 292.1 794.4 289.2 796.0 289.0C797.6 288.8 802.1 290.5 804.0 292.0C805.9 293.5 809.9 299.4 812.0 302.0C814.1 304.6 820.1 311.8 822.0 314.0C823.9 316.2 820.9 319.8 828.0 321.0C835.1 322.2 873.9 323.6 883.0 324.0C892.1 324.4 903.3 340.1 906.0 324.0C908.7 307.9 939.8 202.1 906.0 186.0C872.2 169.9 649.8 172.2 616.0 186.0C582.2 199.8 609.0 290.4 616.0 304.0Z" fill="#002edc"/><path d="M616.0 298.0C623.4 310.9 670.1 297.0 679.0 297.0C687.9 297.0 688.4 297.5 692.0 298.0C695.6 298.5 705.6 300.2 710.0 301.0C714.4 301.8 725.8 304.2 730.0 305.0C734.2 305.8 742.3 308.0 746.0 308.0C749.7 308.0 758.7 306.2 762.0 305.0C765.3 303.8 771.4 299.8 774.0 298.0C776.6 296.2 782.4 292.1 784.0 290.0C785.6 287.9 787.1 281.9 788.0 280.0C788.9 278.1 790.6 274.6 792.0 274.0C793.4 273.4 797.9 273.8 800.0 275.0C802.1 276.2 807.9 281.3 810.0 284.0C812.1 286.7 816.1 295.2 818.0 298.0C819.9 300.8 823.7 306.4 826.0 308.0C828.3 309.6 835.2 311.8 838.0 312.0C840.8 312.2 847.2 310.9 850.0 310.0C852.8 309.1 859.9 305.4 862.0 304.0C864.1 302.6 865.5 299.2 868.0 298.0C870.5 296.8 878.6 294.5 883.0 294.0C887.4 293.5 903.3 306.6 906.0 294.0C908.7 281.4 939.8 198.6 906.0 186.0C872.2 173.4 649.8 172.9 616.0 186.0C582.2 199.1 608.6 285.1 616.0 298.0Z" fill="#1e50ff"/><path d="M616.0 293.0C623.6 305.4 672.1 292.0 681.0 292.0C689.9 292.0 688.6 292.6 692.0 293.0C695.4 293.4 705.6 294.4 710.0 295.0C714.4 295.6 725.8 297.4 730.0 298.0C734.2 298.6 743.0 300.0 746.0 300.0C749.0 300.0 753.7 298.9 756.0 298.0C758.3 297.1 763.9 293.6 766.0 292.0C768.1 290.4 772.2 285.9 774.0 284.0C775.8 282.1 779.6 278.2 781.0 276.0C782.4 273.8 784.7 266.9 786.0 265.0C787.3 263.1 790.1 260.2 792.0 260.0C793.9 259.8 799.5 261.7 802.0 263.0C804.5 264.3 810.8 268.8 813.0 271.0C815.2 273.2 819.5 279.6 821.0 282.0C822.5 284.4 824.5 289.9 826.0 292.0C827.5 294.1 832.1 299.2 834.0 300.0C835.9 300.8 839.9 299.9 842.0 299.0C844.1 298.1 849.7 293.4 852.0 292.0C854.3 290.6 859.7 288.4 862.0 287.0C864.3 285.6 869.5 281.5 872.0 280.0C874.5 278.5 879.0 274.7 883.0 274.0C887.0 273.3 903.3 284.3 906.0 274.0C908.7 263.7 939.8 196.3 906.0 186.0C872.2 175.7 649.8 173.5 616.0 186.0C582.2 198.5 608.4 280.6 616.0 293.0Z" fill="#4478ff"/><path d="M616.0 288.0C624.2 299.8 676.4 287.5 686.0 287.0C695.6 286.5 695.2 284.2 698.0 284.0C700.8 283.8 706.3 285.0 710.0 285.6C713.7 286.2 725.8 288.4 730.0 289.0C734.2 289.6 743.0 291.0 746.0 291.0C749.0 291.0 753.9 289.7 756.0 289.0C758.1 288.3 762.4 286.2 764.0 285.0C765.6 283.8 768.7 280.8 770.0 279.0C771.3 277.2 774.1 272.2 775.0 270.0C775.9 267.8 777.0 261.6 778.0 260.0C779.0 258.4 782.1 256.8 784.0 256.0C785.9 255.2 791.4 253.8 794.0 253.0C796.6 252.2 803.7 249.0 806.0 249.0C808.3 249.0 812.1 251.5 814.0 253.0C815.9 254.5 820.1 259.8 822.0 262.0C823.9 264.2 828.1 269.9 830.0 272.0C831.9 274.1 836.1 278.4 838.0 280.0C839.9 281.6 844.4 285.5 846.0 286.0C847.6 286.5 850.6 284.9 852.0 284.0C853.4 283.1 855.9 279.5 858.0 278.0C860.1 276.5 867.1 272.4 870.0 271.0C872.9 269.6 878.8 266.6 883.0 266.0C887.2 265.4 903.3 275.3 906.0 266.0C908.7 256.7 939.8 195.3 906.0 186.0C872.2 176.7 649.8 174.1 616.0 186.0C582.2 197.9 607.8 276.2 616.0 288.0Z" fill="#84aaff"/><path d="M616.0 282.0C624.9 293.1 682.0 281.4 692.0 281.0C702.0 280.6 699.4 278.5 702.0 278.4C704.6 278.3 710.7 279.5 714.0 280.0C717.3 280.5 726.3 282.4 730.0 283.0C733.7 283.6 743.0 285.0 746.0 285.0C749.0 285.0 754.0 283.7 756.0 283.0C758.0 282.3 761.6 280.3 763.0 279.0C764.4 277.7 767.0 273.9 768.0 272.0C769.0 270.1 771.2 264.9 772.0 263.0C772.8 261.1 773.6 257.4 775.0 256.0C776.4 254.6 782.0 252.1 784.0 251.0C786.0 249.9 789.9 247.9 792.0 247.0C794.1 246.1 799.9 243.6 802.0 243.0C804.1 242.4 808.1 241.5 810.0 242.0C811.9 242.5 816.1 245.4 818.0 247.0C819.9 248.6 824.1 253.9 826.0 256.0C827.9 258.1 831.9 262.7 834.0 265.0C836.1 267.3 841.9 274.0 844.0 276.0C846.1 278.0 850.4 282.1 852.0 282.0C853.6 281.9 856.4 276.9 858.0 275.0C859.6 273.1 863.1 268.0 866.0 266.0C868.9 264.0 878.3 258.9 883.0 258.0C887.7 257.1 903.3 266.4 906.0 258.0C908.7 249.6 939.8 194.4 906.0 186.0C872.2 177.6 649.8 174.8 616.0 186.0C582.2 197.2 607.1 270.9 616.0 282.0Z" fill="#b4ceff"/><path d="M862.0 232.0C862.0 229.7 866.4 224.1 868.0 222.0C869.6 219.9 874.2 215.2 876.0 214.0C877.8 212.8 879.5 212.2 883.0 212.0C886.5 211.8 903.3 207.6 906.0 212.0C908.7 216.4 909.5 245.7 906.0 250.0C902.5 254.3 880.4 249.9 876.0 249.0C871.6 248.1 869.6 244.0 868.0 242.0C866.4 240.0 862.0 234.3 862.0 232.0Z" fill="#d6eaff"/><path d="M622.0 344.0C626.0 335.6 650.2 341.5 656.0 342.0C661.8 342.5 668.7 346.1 672.0 348.0C675.3 349.9 682.1 355.4 684.0 358.0C685.9 360.6 688.2 367.2 688.0 370.0C687.8 372.8 683.9 379.7 682.0 382.0C680.1 384.3 674.3 388.1 672.0 390.0C669.7 391.9 665.0 395.9 662.0 398.0C659.0 400.1 650.7 406.1 646.0 408.0C641.3 409.9 624.8 421.5 622.0 414.0C619.2 406.5 618.0 352.4 622.0 344.0Z" fill="#002edc"/><path d="M690.0 370.0C691.2 367.7 699.2 362.2 702.0 362.0C704.8 361.8 712.4 366.4 714.0 368.0C715.6 369.6 716.7 374.1 716.0 376.0C715.3 377.9 710.1 382.0 708.0 384.0C705.9 386.0 699.9 393.2 698.0 393.0C696.1 392.8 692.9 384.7 692.0 382.0C691.1 379.3 688.8 372.3 690.0 370.0Z" fill="#002edc"/><path d="M726.0 398.0C727.3 395.1 735.9 396.3 738.0 397.0C740.1 397.7 743.5 401.8 744.0 404.0C744.5 406.2 742.1 413.0 742.0 416.0C741.9 419.0 742.8 425.6 743.0 430.0C743.2 434.4 746.0 451.2 744.0 454.0C742.0 456.8 728.0 457.7 726.0 454.0C724.0 450.3 727.0 428.5 727.0 422.0C727.0 415.5 724.7 400.9 726.0 398.0Z" fill="#00008f"/><path d="M638.0 414.0C641.3 407.0 660.4 416.0 666.0 416.0C671.6 416.0 681.8 414.0 686.0 414.0C690.2 414.0 698.7 414.6 702.0 416.0C705.3 417.4 711.7 423.7 714.0 426.0C716.3 428.3 720.1 433.4 722.0 436.0C723.9 438.6 729.1 443.3 730.0 448.0C730.9 452.7 740.7 472.7 730.0 476.0C719.3 479.3 648.7 483.2 638.0 476.0C627.3 468.8 634.7 421.0 638.0 414.0Z" fill="#002edc"/><path d="M676.0 476.0C671.8 470.9 676.6 438.5 678.0 432.0C679.4 425.5 685.2 421.2 688.0 420.0C690.8 418.8 699.4 420.6 702.0 422.0C704.6 423.4 708.6 425.7 710.0 432.0C711.4 438.3 718.0 470.9 714.0 476.0C710.0 481.1 680.2 481.1 676.0 476.0Z" fill="#1e50ff"/></g><clipPath id="bc2"><rect x="860" y="196" width="236" height="234"/></clipPath><g clip-path="url(#bc2)"><path d="M826.0 314.0C828.6 328.7 844.0 313.3 848.0 312.0C852.0 310.7 857.4 304.8 860.0 303.0C862.6 301.2 867.2 298.1 870.0 297.0C872.8 295.9 880.3 294.6 884.0 294.0C887.7 293.4 897.6 291.8 902.0 291.6C906.4 291.4 917.6 291.3 922.0 292.0C926.4 292.7 935.8 296.1 940.0 298.0C944.2 299.9 954.0 307.2 958.0 308.0C962.0 308.8 970.3 305.4 974.0 305.0C977.7 304.6 987.4 306.1 990.0 305.0C992.6 303.9 994.6 298.4 996.0 296.0C997.4 293.6 1000.8 286.3 1002.0 284.0C1003.2 281.7 1004.4 278.6 1006.0 276.0C1007.6 273.4 1012.5 264.3 1016.0 262.0C1019.5 259.7 1033.7 264.9 1036.0 256.0C1038.3 247.1 1060.5 194.2 1036.0 186.0C1011.5 177.8 850.5 171.1 826.0 186.0C801.5 200.9 823.4 299.3 826.0 314.0Z" fill="#002edc"/><path d="M826.0 308.0C828.6 321.9 844.3 306.4 848.0 305.0C851.7 303.6 855.4 297.8 858.0 296.0C860.6 294.2 867.0 291.2 870.0 290.0C873.0 288.8 880.3 286.6 884.0 286.0C887.7 285.4 897.6 284.9 902.0 285.0C906.4 285.1 917.6 286.2 922.0 287.0C926.4 287.8 935.8 290.5 940.0 292.0C944.2 293.5 954.3 299.5 958.0 300.0C961.7 300.5 968.5 296.6 972.0 296.0C975.5 295.4 985.4 296.2 988.0 295.0C990.6 293.8 993.1 288.2 994.0 286.0C994.9 283.8 995.5 278.6 996.0 276.0C996.5 273.4 995.7 266.8 998.0 264.0C1000.3 261.2 1011.6 254.1 1016.0 252.0C1020.4 249.9 1033.7 253.7 1036.0 246.0C1038.3 238.3 1060.5 193.0 1036.0 186.0C1011.5 179.0 850.5 171.8 826.0 186.0C801.5 200.2 823.4 294.1 826.0 308.0Z" fill="#1e50ff"/><path d="M826.0 300.0C828.3 313.1 842.5 299.2 846.0 298.0C849.5 296.8 853.2 291.6 856.0 290.0C858.8 288.4 866.7 285.2 870.0 284.0C873.3 282.8 880.3 280.6 884.0 280.0C887.7 279.4 897.6 278.8 902.0 279.0C906.4 279.2 917.6 281.1 922.0 282.0C926.4 282.9 935.8 285.6 940.0 287.0C944.2 288.4 954.3 293.6 958.0 294.0C961.7 294.4 968.7 290.9 972.0 290.0C975.3 289.1 983.9 287.6 986.0 286.0C988.1 284.4 989.4 278.8 990.0 276.0C990.6 273.2 990.3 264.8 991.0 262.0C991.7 259.2 993.1 254.3 996.0 252.0C998.9 249.7 1011.3 249.7 1016.0 242.0C1020.7 234.3 1058.2 192.5 1036.0 186.0C1013.8 179.5 850.5 172.7 826.0 186.0C801.5 199.3 823.7 286.9 826.0 300.0Z" fill="#4478ff"/><path d="M826.0 292.0C828.3 304.2 842.7 291.9 846.0 291.0C849.3 290.1 852.1 285.3 854.0 284.0C855.9 282.7 859.4 280.9 862.0 280.0C864.6 279.1 873.0 276.8 876.0 276.0C879.0 275.2 885.0 273.4 888.0 273.0C891.0 272.6 899.2 274.3 902.0 273.0C904.8 271.7 909.9 264.2 912.0 262.0C914.1 259.8 918.1 255.2 920.0 254.0C921.9 252.8 926.6 251.1 928.0 252.0C929.4 252.9 931.8 259.7 932.0 262.0C932.2 264.3 929.1 269.9 930.0 272.0C930.9 274.1 937.0 278.4 940.0 280.0C943.0 281.6 952.7 285.8 956.0 286.0C959.3 286.2 965.2 283.2 968.0 282.0C970.8 280.8 978.0 277.9 980.0 276.0C982.0 274.1 984.3 268.3 985.0 266.0C985.7 263.7 985.2 258.3 986.0 256.0C986.8 253.7 988.5 248.3 992.0 246.0C995.5 243.7 1010.9 243.0 1016.0 236.0C1021.1 229.0 1058.2 191.8 1036.0 186.0C1013.8 180.2 850.5 173.6 826.0 186.0C801.5 198.4 823.7 279.8 826.0 292.0Z" fill="#84aaff"/><path d="M826.0 284.0C828.1 295.4 841.0 284.5 844.0 284.0C847.0 283.5 850.4 281.2 852.0 280.0C853.6 278.8 855.7 275.2 858.0 274.0C860.3 272.8 868.7 270.9 872.0 270.0C875.3 269.1 882.5 266.7 886.0 266.0C889.5 265.3 899.0 265.4 902.0 264.0C905.0 262.6 910.4 256.1 912.0 254.0C913.6 251.9 914.6 247.4 916.0 246.0C917.4 244.6 921.7 243.2 924.0 242.0C926.3 240.8 933.5 237.4 936.0 236.0C938.5 234.6 943.6 229.3 945.0 230.0C946.4 230.7 948.1 239.0 948.0 242.0C947.9 245.0 944.7 253.4 944.0 256.0C943.3 258.6 941.5 262.4 942.0 264.0C942.5 265.6 945.9 268.6 948.0 270.0C950.1 271.4 957.4 275.8 960.0 276.0C962.6 276.2 968.0 273.6 970.0 272.0C972.0 270.4 975.7 264.3 977.0 262.0C978.3 259.7 979.7 254.3 981.0 252.0C982.3 249.7 983.9 245.0 988.0 242.0C992.1 239.0 1010.4 232.5 1016.0 226.0C1021.6 219.5 1058.2 190.7 1036.0 186.0C1013.8 181.3 850.5 174.6 826.0 186.0C801.5 197.4 823.9 272.6 826.0 284.0Z" fill="#b4ceff"/><path d="M862.0 232.0C862.7 227.8 865.0 209.9 876.0 208.0C887.0 206.1 947.6 213.9 956.0 216.0C964.4 218.1 949.3 224.5 948.0 226.0C946.7 227.5 946.9 228.3 945.0 229.0C943.1 229.7 935.4 231.2 932.0 232.0C928.6 232.8 919.5 235.1 916.0 236.0C912.5 236.9 905.0 238.8 902.0 240.0C899.0 241.2 892.8 244.8 890.0 246.0C887.2 247.2 880.3 250.2 878.0 250.0C875.7 249.8 871.9 246.1 870.0 244.0C868.1 241.9 861.3 236.2 862.0 232.0Z" fill="#d6eaff"/><path d="M950.0 232.0C950.9 230.1 954.6 224.8 960.0 226.0C965.4 227.2 993.2 239.4 996.0 242.0C998.8 244.6 986.3 246.8 984.0 248.0C981.7 249.2 977.9 251.1 976.0 252.0C974.1 252.9 969.6 255.1 968.0 256.0C966.4 256.9 963.4 260.5 962.0 260.0C960.6 259.5 957.2 254.1 956.0 252.0C954.8 249.9 952.7 244.3 952.0 242.0C951.3 239.7 949.1 233.9 950.0 232.0Z" fill="#d6eaff"/><path d="M959.0 234.0C959.2 232.6 961.1 229.1 964.0 230.0C966.9 230.9 982.8 240.1 984.0 242.0C985.2 243.9 975.9 245.3 974.0 246.0C972.1 246.7 969.4 248.5 968.0 248.0C966.6 247.5 963.0 243.6 962.0 242.0C961.0 240.4 958.8 235.4 959.0 234.0Z" fill="#ffebd9"/><path d="M994.0 336.0C995.2 333.9 1009.0 333.1 1012.0 334.0C1015.0 334.9 1017.2 342.1 1020.0 344.0C1022.8 345.9 1032.7 349.5 1036.0 350.0C1039.3 350.5 1045.2 347.3 1048.0 348.0C1050.8 348.7 1057.4 353.9 1060.0 356.0C1062.6 358.1 1067.4 363.7 1070.0 366.0C1072.6 368.3 1079.3 372.5 1082.0 376.0C1084.7 379.5 1091.7 384.3 1093.0 396.0C1094.3 407.7 1106.7 466.7 1093.0 476.0C1079.3 485.3 988.2 480.7 976.0 476.0C963.8 471.3 985.0 442.1 988.0 436.0C991.0 429.9 998.7 426.3 1002.0 424.0C1005.3 421.7 1013.9 418.1 1016.0 416.0C1018.1 413.9 1020.5 408.8 1020.0 406.0C1019.5 403.2 1012.9 395.0 1012.0 392.0C1011.1 389.0 1012.7 383.0 1012.0 380.0C1011.3 377.0 1007.2 369.3 1006.0 366.0C1004.8 362.7 1003.4 355.5 1002.0 352.0C1000.6 348.5 992.8 338.1 994.0 336.0Z" fill="#002edc"/><path d="M1051.0 382.0C1052.6 379.7 1059.5 376.7 1062.0 376.0C1064.5 375.3 1069.8 374.6 1072.0 376.0C1074.2 377.4 1079.8 383.3 1081.0 388.0C1082.2 392.7 1082.8 411.3 1082.0 416.0C1081.2 420.7 1076.6 427.3 1074.0 428.0C1071.4 428.7 1062.8 423.4 1060.0 422.0C1057.2 420.6 1051.4 419.0 1050.0 416.0C1048.6 413.0 1047.9 400.0 1048.0 396.0C1048.1 392.0 1049.4 384.3 1051.0 382.0Z" fill="#0018b6"/><path d="M1044.0 324.0C1043.1 326.3 1046.1 316.0 1048.0 316.0C1049.9 316.0 1057.7 321.2 1060.0 324.0C1062.3 326.8 1066.1 336.3 1068.0 340.0C1069.9 343.7 1072.7 354.1 1076.0 356.0C1079.3 357.9 1093.7 360.7 1096.0 356.0C1098.3 351.3 1100.7 323.0 1096.0 316.0C1091.3 309.0 1062.1 295.1 1056.0 296.0C1049.9 296.9 1044.9 321.7 1044.0 324.0Z" fill="#002edc"/><path d="M893.0 315.0C893.9 312.9 901.1 307.4 904.0 306.0C906.9 304.6 915.5 302.8 918.0 303.0C920.5 303.2 924.1 306.0 925.0 308.0C925.9 310.0 924.2 317.7 926.0 320.0C927.8 322.3 936.5 326.8 940.0 328.0C943.5 329.2 952.5 330.2 956.0 330.4C959.5 330.6 968.7 328.5 969.6 329.6C970.5 330.7 965.6 337.9 964.0 340.0C962.4 342.1 957.8 346.7 956.0 348.0C954.2 349.3 951.3 351.9 949.0 351.0C946.7 350.1 939.9 342.7 936.0 340.0C932.1 337.3 920.7 329.9 916.0 328.0C911.3 326.1 898.7 325.5 896.0 324.0C893.3 322.5 892.1 317.1 893.0 315.0Z" fill="#00008f"/><path d="M955.0 360.0C955.9 357.8 965.1 355.6 968.0 357.0C970.9 358.4 978.1 368.9 980.0 372.0C981.9 375.1 982.8 381.7 984.0 384.0C985.2 386.3 989.3 389.7 990.0 392.0C990.7 394.3 990.9 401.7 990.0 404.0C989.1 406.3 983.6 410.9 982.0 412.0C980.4 413.1 977.6 412.9 976.0 413.0C974.4 413.1 969.9 417.3 968.0 413.0C966.1 408.7 961.5 382.2 960.0 376.0C958.5 369.8 954.1 362.2 955.0 360.0Z" fill="#00008f"/></g><clipPath id="bc3"><rect x="626" y="430" width="234" height="234"/></clipPath><g clip-path="url(#bc3)"><path d="M676.0 423.0C678.1 420.7 686.5 417.2 690.0 417.0C693.5 416.8 703.2 419.1 706.0 421.0C708.8 422.9 711.7 430.7 714.0 433.0C716.3 435.3 723.2 440.3 726.0 441.0C728.8 441.7 735.7 438.3 738.0 439.0C740.3 439.7 744.8 444.7 746.0 447.0C747.2 449.3 748.9 456.7 748.0 459.0C747.1 461.3 741.0 466.1 738.0 467.0C735.0 467.9 725.3 466.3 722.0 467.0C718.7 467.7 711.9 470.7 710.0 473.0C708.1 475.3 706.9 484.4 706.0 487.0C705.1 489.6 703.4 494.1 702.0 495.0C700.6 495.9 695.4 495.9 694.0 495.0C692.6 494.1 690.9 489.3 690.0 487.0C689.1 484.7 687.4 477.3 686.0 475.0C684.6 472.7 680.3 467.9 678.0 467.0C675.7 466.1 669.0 466.8 666.0 467.0C663.0 467.2 654.3 469.2 652.0 469.0C649.7 468.8 644.8 466.6 646.0 465.0C647.2 463.4 659.0 458.3 662.0 455.0C665.0 451.7 670.4 440.7 672.0 437.0C673.6 433.3 673.9 425.3 676.0 423.0Z" fill="#002edc"/><path d="M690.0 423.0C691.6 421.4 699.7 423.4 702.0 425.0C704.3 426.6 709.5 434.4 710.0 437.0C710.5 439.6 707.9 445.4 706.0 447.0C704.1 448.6 696.1 451.9 694.0 451.0C691.9 450.1 688.5 442.3 688.0 439.0C687.5 435.7 688.4 424.6 690.0 423.0Z" fill="#1e50ff"/><path d="M714.0 441.0C715.9 439.4 728.1 441.6 730.0 443.0C731.9 444.4 730.9 450.7 730.0 453.0C729.1 455.3 723.9 462.5 722.0 463.0C720.1 463.5 714.9 459.6 714.0 457.0C713.1 454.4 712.1 442.6 714.0 441.0Z" fill="#1e50ff"/><path d="M680.0 453.0C681.6 451.6 691.0 450.5 694.0 451.0C697.0 451.5 706.2 455.4 706.0 457.0C705.8 458.6 695.0 464.3 692.0 465.0C689.0 465.7 681.4 464.4 680.0 463.0C678.6 461.6 678.4 454.4 680.0 453.0Z" fill="#1e50ff"/><path d="M636.0 423.0C637.9 418.3 648.8 424.2 650.0 427.0C651.2 429.8 645.5 444.0 646.0 447.0C646.5 450.0 654.0 451.1 654.0 453.0C654.0 454.9 648.3 461.4 646.0 463.0C643.7 464.6 635.2 471.7 634.0 467.0C632.8 462.3 634.1 427.7 636.0 423.0Z" fill="#002edc"/><path d="M726.0 403.0C728.0 401.1 742.0 401.1 744.0 403.0C746.0 404.9 743.0 416.2 743.0 419.0C743.0 421.8 745.0 425.8 744.0 427.0C743.0 428.2 736.0 429.9 734.0 429.0C732.0 428.1 727.9 422.0 727.0 419.0C726.1 416.0 724.0 404.9 726.0 403.0Z" fill="#00008f"/><path d="M656.0 555.0C657.9 536.3 667.6 531.2 672.0 527.0C676.4 522.8 690.5 522.0 694.0 519.0C697.5 516.0 700.1 504.0 702.0 501.0C703.9 498.0 707.7 494.2 710.0 493.0C712.3 491.8 719.2 491.5 722.0 491.0C724.8 490.5 730.3 489.0 734.0 489.0C737.7 489.0 751.2 489.8 754.0 491.0C756.8 492.2 758.0 497.1 758.0 499.0C758.0 500.9 755.4 504.7 754.0 507.0C752.6 509.3 747.2 515.7 746.0 519.0C744.8 522.3 744.0 531.5 744.0 535.0C744.0 538.5 744.4 547.8 746.0 549.0C747.6 550.2 754.3 545.9 758.0 545.0C761.7 544.1 773.6 542.2 778.0 541.0C782.4 539.8 790.4 534.8 796.0 535.0C801.6 535.2 815.9 541.8 826.0 543.0C836.1 544.2 876.4 528.2 883.0 545.0C889.6 561.8 909.5 670.4 883.0 687.0C856.5 703.6 682.5 702.4 656.0 687.0C629.5 671.6 654.1 573.7 656.0 555.0Z" fill="#002edc"/><path d="M666.0 555.0C667.6 537.3 676.5 538.7 680.0 535.0C683.5 531.3 693.1 526.3 696.0 523.0C698.9 519.7 703.1 509.9 705.0 507.0C706.9 504.1 710.0 499.6 712.0 498.0C714.0 496.4 719.4 494.2 722.0 493.4C724.6 492.6 730.5 491.2 734.0 491.0C737.5 490.8 749.4 491.1 752.0 492.0C754.6 492.9 756.2 497.2 756.4 499.0C756.6 500.8 755.2 504.7 754.0 507.0C752.8 509.3 747.4 515.7 746.0 519.0C744.6 522.3 742.2 531.6 742.0 535.0C741.8 538.4 742.4 546.5 744.0 548.0C745.6 549.5 753.4 548.2 756.0 548.0C758.6 547.8 763.4 546.6 766.0 546.0C768.6 545.4 774.5 544.0 778.0 543.0C781.5 542.0 792.7 537.2 796.0 537.0C799.3 536.8 802.5 540.1 806.0 541.0C809.5 541.9 821.3 544.3 826.0 545.0C830.7 545.7 839.4 546.8 846.0 547.0C852.6 547.2 878.7 530.7 883.0 547.0C887.3 563.3 908.3 670.7 883.0 687.0C857.7 703.3 691.3 702.4 666.0 687.0C640.7 671.6 664.4 572.7 666.0 555.0Z" fill="#1e50ff"/><path d="M674.0 553.0C675.2 536.7 681.9 548.6 684.0 547.0C686.1 545.4 690.1 541.8 692.0 539.0C693.9 536.2 698.1 526.3 700.0 523.0C701.9 519.7 706.4 513.6 708.0 511.0C709.6 508.4 712.4 502.9 714.0 501.0C715.6 499.1 719.7 496.1 722.0 495.0C724.3 493.9 730.7 492.2 734.0 492.0C737.3 491.8 747.4 492.2 750.0 493.0C752.6 493.8 755.5 497.4 756.0 499.0C756.5 500.6 755.2 504.7 754.0 507.0C752.8 509.3 747.6 515.7 746.0 519.0C744.4 522.3 740.5 531.7 740.0 535.0C739.5 538.3 740.4 545.1 742.0 547.0C743.6 548.9 751.2 551.0 754.0 551.0C756.8 551.0 763.2 547.7 766.0 547.0C768.8 546.3 774.7 545.5 778.0 545.0C781.3 544.5 791.0 542.8 794.0 543.0C797.0 543.2 803.1 545.1 804.0 547.0C804.9 548.9 801.8 556.7 802.0 559.0C802.2 561.3 804.1 565.8 806.0 567.0C807.9 568.2 815.4 569.5 818.0 569.0C820.6 568.5 826.6 564.9 828.0 563.0C829.4 561.1 827.9 553.9 830.0 553.0C832.1 552.1 841.8 554.3 846.0 555.0C850.2 555.7 861.7 558.3 866.0 559.0C870.3 559.7 881.0 546.1 883.0 561.0C885.0 575.9 907.4 672.3 883.0 687.0C858.6 701.7 698.4 702.6 674.0 687.0C649.6 671.4 672.8 569.3 674.0 553.0Z" fill="#4478ff"/><path d="M684.0 555.0C684.9 538.7 690.1 549.3 692.0 547.0C693.9 544.7 698.4 537.8 700.0 535.0C701.6 532.2 704.4 525.8 706.0 523.0C707.6 520.2 712.4 513.3 714.0 511.0C715.6 508.7 717.9 504.5 720.0 503.0C722.1 501.5 729.0 498.7 732.0 498.0C735.0 497.3 743.7 496.6 746.0 497.0C748.3 497.4 751.8 498.9 752.0 501.0C752.2 503.1 749.2 511.5 748.0 515.0C746.8 518.5 743.2 527.3 742.0 531.0C740.8 534.7 737.5 544.4 738.0 547.0C738.5 549.6 743.2 552.5 746.0 553.0C748.8 553.5 758.3 551.2 762.0 551.0C765.7 550.8 774.5 550.5 778.0 551.0C781.5 551.5 789.7 553.1 792.0 555.0C794.3 556.9 796.8 564.4 798.0 567.0C799.2 569.6 799.7 575.8 802.0 577.0C804.3 578.2 815.0 577.5 818.0 577.0C821.0 576.5 825.7 572.8 828.0 573.0C830.3 573.2 835.2 578.5 838.0 579.0C840.8 579.5 848.7 577.5 852.0 577.0C855.3 576.5 862.4 575.0 866.0 575.0C869.6 575.0 881.0 563.9 883.0 577.0C885.0 590.1 906.2 674.2 883.0 687.0C859.8 699.8 707.2 702.4 684.0 687.0C660.8 671.6 683.1 571.3 684.0 555.0Z" fill="#84aaff"/><path d="M690.0 565.0C691.6 562.9 702.3 560.2 706.0 559.0C709.7 557.8 719.7 554.3 722.0 555.0C724.3 555.7 724.8 562.2 726.0 565.0C727.2 567.8 732.5 576.9 732.0 579.0C731.5 581.1 725.0 582.1 722.0 583.0C719.0 583.9 709.5 587.7 706.0 587.0C702.5 586.3 693.9 579.6 692.0 577.0C690.1 574.4 688.4 567.1 690.0 565.0Z" fill="#b4ceff"/><path d="M702.0 587.0C704.3 575.1 718.5 585.7 722.0 585.0C725.5 584.3 730.6 581.2 732.0 581.0C733.4 580.8 732.4 584.4 734.0 583.0C735.6 581.6 743.2 571.8 746.0 569.0C748.8 566.2 755.4 560.4 758.0 559.0C760.6 557.6 766.1 556.1 768.0 557.0C769.9 557.9 772.1 565.1 774.0 567.0C775.9 568.9 782.6 570.7 784.0 573.0C785.4 575.3 785.1 584.4 786.0 587.0C786.9 589.6 789.2 594.3 792.0 595.0C794.8 595.7 806.0 593.0 810.0 593.0C814.0 593.0 822.7 594.3 826.0 595.0C829.3 595.7 834.3 598.8 838.0 599.0C841.7 599.2 852.8 597.5 858.0 597.0C863.2 596.5 880.1 584.5 883.0 595.0C885.9 605.5 904.1 676.3 883.0 687.0C861.9 697.7 723.1 698.7 702.0 687.0C680.9 675.3 699.7 598.9 702.0 587.0Z" fill="#b4ceff"/><path d="M766.0 585.0 L775.0 571.0 L777.0 572.0 L770.0 586.0Z" fill="#84aaff"/><path d="M746.0 547.0C744.6 545.4 743.5 534.7 744.0 531.0C744.5 527.3 747.9 518.3 750.0 515.0C752.1 511.7 759.7 503.9 762.0 503.0C764.3 502.1 768.1 505.1 770.0 507.0C771.9 508.9 775.2 516.2 778.0 519.0C780.8 521.8 793.5 529.1 794.0 531.0C794.5 532.9 785.3 534.3 782.0 535.0C778.7 535.7 769.0 535.8 766.0 537.0C763.0 538.2 758.3 543.8 756.0 545.0C753.7 546.2 747.4 548.6 746.0 547.0Z" fill="#002edc"/><path d="M754.0 535.0C752.4 533.8 754.8 525.8 756.0 523.0C757.2 520.2 761.9 511.9 764.0 511.0C766.1 510.1 771.4 512.9 774.0 515.0C776.6 517.1 786.5 526.9 786.0 529.0C785.5 531.1 773.7 532.3 770.0 533.0C766.3 533.7 755.6 536.2 754.0 535.0Z" fill="#0018b6"/><path d="M770.0 515.0C770.5 513.8 776.1 510.5 778.0 511.0C779.9 511.5 784.4 517.1 786.0 519.0C787.6 520.9 792.5 526.1 792.0 527.0C791.5 527.9 784.1 527.7 782.0 527.0C779.9 526.3 775.4 522.4 774.0 521.0C772.6 519.6 769.5 516.2 770.0 515.0Z" fill="#00008f"/><path d="M804.0 553.0C804.9 551.4 811.4 548.8 814.0 549.0C816.6 549.2 824.6 553.4 826.0 555.0C827.4 556.6 827.4 561.6 826.0 563.0C824.6 564.4 816.3 567.0 814.0 567.0C811.7 567.0 807.2 564.6 806.0 563.0C804.8 561.4 803.1 554.6 804.0 553.0Z" fill="#1e50ff"/></g><clipPath id="bc4"><rect x="860" y="430" width="236" height="234"/></clipPath><g clip-path="url(#bc4)"><path d="M956.0 403.0C974.7 391.6 1097.3 381.5 1116.0 403.0C1134.7 424.5 1123.0 568.8 1116.0 587.0C1109.0 605.2 1064.4 564.6 1056.0 559.0C1047.6 553.4 1047.7 541.6 1044.0 539.0C1040.3 536.4 1027.7 538.9 1024.0 537.0C1020.3 535.1 1014.8 525.6 1012.0 523.0C1009.2 520.4 1003.3 516.2 1000.0 515.0C996.7 513.8 988.0 513.7 984.0 513.0C980.0 512.3 969.3 510.4 966.0 509.0C962.7 507.6 957.2 513.4 956.0 501.0C954.8 488.6 937.3 414.4 956.0 403.0Z" fill="#002edc"/><path d="M966.0 403.0C971.4 396.7 1013.9 401.4 1020.0 403.0C1026.1 404.6 1019.6 414.7 1018.0 417.0C1016.4 419.3 1008.6 420.9 1006.0 423.0C1003.4 425.1 997.9 432.2 996.0 435.0C994.1 437.8 990.9 444.7 990.0 447.0C989.1 449.3 989.9 453.8 988.0 455.0C986.1 456.2 976.6 463.1 974.0 457.0C971.4 450.9 960.6 409.3 966.0 403.0Z" fill="#0018b6"/><path d="M1050.0 403.0C1057.5 401.1 1108.3 399.7 1116.0 403.0C1123.7 406.3 1120.9 428.0 1116.0 431.0C1111.1 434.0 1081.5 430.4 1074.0 429.0C1066.5 427.6 1054.8 422.0 1052.0 419.0C1049.2 416.0 1042.5 404.9 1050.0 403.0Z" fill="#0018b6"/><path d="M974.0 403.0C975.4 401.7 986.4 401.8 988.0 403.0C989.6 404.2 989.4 411.7 988.0 413.0C986.6 414.3 977.6 415.2 976.0 414.0C974.4 412.8 972.6 404.3 974.0 403.0Z" fill="#00008f"/><path d="M1006.0 469.0C1007.2 465.5 1013.9 455.3 1016.0 453.0C1018.1 450.7 1022.1 448.3 1024.0 449.0C1025.9 449.7 1031.0 455.3 1032.0 459.0C1033.0 462.7 1033.9 477.5 1033.0 481.0C1032.1 484.5 1026.5 487.4 1024.0 489.0C1021.5 490.6 1014.1 495.7 1012.0 495.0C1009.9 494.3 1006.7 486.0 1006.0 483.0C1005.3 480.0 1004.8 472.5 1006.0 469.0Z" fill="#1e50ff"/><path d="M1059.0 487.0C1059.7 484.4 1066.2 478.1 1068.0 479.0C1069.8 479.9 1074.7 492.4 1074.0 495.0C1073.3 497.6 1063.8 501.9 1062.0 501.0C1060.2 500.1 1058.3 489.6 1059.0 487.0Z" fill="#1e50ff"/><path d="M1048.0 507.0C1049.8 503.3 1058.1 503.1 1059.0 505.0C1059.9 506.9 1057.8 519.3 1056.0 523.0C1054.2 526.7 1044.9 538.9 1044.0 537.0C1043.1 535.1 1046.2 510.7 1048.0 507.0Z" fill="#1e50ff"/><path d="M936.0 487.0C943.0 484.0 952.5 498.4 956.0 501.0C959.5 503.6 962.7 507.6 966.0 509.0C969.3 510.4 980.0 512.3 984.0 513.0C988.0 513.7 996.7 513.8 1000.0 515.0C1003.3 516.2 1009.2 520.4 1012.0 523.0C1014.8 525.6 1020.3 535.1 1024.0 537.0C1027.7 538.9 1040.3 536.4 1044.0 539.0C1047.7 541.6 1052.3 553.4 1056.0 559.0C1059.7 564.6 1073.7 572.1 1076.0 587.0C1078.3 601.9 1105.2 675.3 1076.0 687.0C1046.8 698.7 855.2 705.7 826.0 687.0C796.8 668.3 817.8 545.7 826.0 527.0C834.2 508.3 883.2 531.7 896.0 527.0C908.8 522.3 929.0 490.0 936.0 487.0Z" fill="#1e50ff"/><path d="M924.0 535.0C928.4 533.6 936.3 527.7 940.0 527.0C943.7 526.3 952.3 527.8 956.0 529.0C959.7 530.2 969.2 534.9 972.0 537.0C974.8 539.1 978.4 544.7 980.0 547.0C981.6 549.3 983.7 556.1 986.0 557.0C988.3 557.9 997.0 554.3 1000.0 555.0C1003.0 555.7 1009.8 560.9 1012.0 563.0C1014.2 565.1 1016.2 570.2 1019.0 573.0C1021.8 575.8 1038.7 573.7 1036.0 587.0C1033.3 600.3 1020.5 675.3 996.0 687.0C971.5 698.7 845.8 703.3 826.0 687.0C806.2 670.7 820.9 563.3 826.0 547.0C831.1 530.7 864.6 545.1 870.0 547.0C875.4 548.9 870.1 561.4 872.0 563.0C873.9 564.6 884.1 562.9 886.0 561.0C887.9 559.1 886.1 549.6 888.0 547.0C889.9 544.4 897.8 540.4 902.0 539.0C906.2 537.6 919.6 536.4 924.0 535.0Z" fill="#4478ff"/><path d="M976.0 571.0C977.4 569.1 981.0 566.8 984.0 567.0C987.0 567.2 998.3 572.1 1002.0 573.0C1005.7 573.9 1015.5 572.9 1016.0 575.0C1016.5 577.1 1008.3 587.7 1006.0 591.0C1003.7 594.3 998.6 601.1 996.0 603.0C993.4 604.9 986.3 607.5 984.0 607.0C981.7 606.5 977.4 601.8 976.0 599.0C974.6 596.2 972.0 586.3 972.0 583.0C972.0 579.7 974.6 572.9 976.0 571.0Z" fill="#1e50ff"/><path d="M986.0 585.0C986.9 582.9 993.7 582.8 996.0 583.0C998.3 583.2 1005.5 585.4 1006.0 587.0C1006.5 588.6 1002.1 595.4 1000.0 597.0C997.9 598.6 989.6 602.4 988.0 601.0C986.4 599.6 985.1 587.1 986.0 585.0Z" fill="#002edc"/><path d="M826.0 555.0C828.6 539.4 844.0 552.5 848.0 553.0C852.0 553.5 857.4 557.6 860.0 559.0C862.6 560.4 869.1 562.7 870.0 565.0C870.9 567.3 867.3 576.4 868.0 579.0C868.7 581.6 873.7 585.6 876.0 587.0C878.3 588.4 885.0 591.0 888.0 591.0C891.0 591.0 899.2 588.4 902.0 587.0C904.8 585.6 909.9 580.6 912.0 579.0C914.1 577.4 917.7 573.9 920.0 573.0C922.3 572.1 929.2 570.5 932.0 571.0C934.8 571.5 942.1 575.1 944.0 577.0C945.9 578.9 947.3 584.4 948.0 587.0C948.7 589.6 950.0 596.4 950.0 599.0C950.0 601.6 946.8 607.1 948.0 609.0C949.2 610.9 956.7 613.8 960.0 615.0C963.3 616.2 973.7 617.6 976.0 619.0C978.3 620.4 983.3 619.1 980.0 627.0C976.7 634.9 966.0 680.0 948.0 687.0C930.0 694.0 840.2 702.4 826.0 687.0C811.8 671.6 823.4 570.6 826.0 555.0Z" fill="#84aaff"/><path d="M888.0 547.0C890.1 545.1 899.2 539.0 902.0 539.0C904.8 539.0 911.3 544.7 912.0 547.0C912.7 549.3 908.9 556.0 908.0 559.0C907.1 562.0 904.7 570.0 904.0 573.0C903.3 576.0 903.4 583.1 902.0 585.0C900.6 586.9 894.6 589.0 892.0 589.0C889.4 589.0 882.1 586.2 880.0 585.0C877.9 583.8 874.1 581.1 874.0 579.0C873.9 576.9 877.8 569.8 879.0 567.0C880.2 564.2 883.0 557.3 884.0 555.0C885.0 552.7 885.9 548.9 888.0 547.0Z" fill="#1e50ff"/><path d="M826.0 599.0C829.0 588.5 847.6 597.7 852.0 597.0C856.4 596.3 861.4 592.8 864.0 593.0C866.6 593.2 871.4 597.6 874.0 599.0C876.6 600.4 883.4 605.0 886.0 605.0C888.6 605.0 893.7 600.4 896.0 599.0C898.3 597.6 903.9 594.9 906.0 593.0C908.1 591.1 912.4 585.1 914.0 583.0C915.6 580.9 918.1 576.2 920.0 575.0C921.9 573.8 928.1 572.3 930.0 573.0C931.9 573.7 935.8 578.7 936.0 581.0C936.2 583.3 933.2 590.0 932.0 593.0C930.8 596.0 927.4 603.7 926.0 607.0C924.6 610.3 922.1 618.4 920.0 621.0C917.9 623.6 910.8 627.6 908.0 629.0C905.2 630.4 898.3 630.9 896.0 633.0C893.7 635.1 890.3 644.4 888.0 647.0C885.7 649.6 879.7 650.3 876.0 655.0C872.3 659.7 861.8 683.3 856.0 687.0C850.2 690.7 829.5 697.3 826.0 687.0C822.5 676.7 823.0 609.5 826.0 599.0Z" fill="#b4ceff"/><path d="M826.0 547.0C830.0 546.2 855.3 547.1 860.0 548.0C864.7 548.9 867.4 554.4 866.0 555.0C864.6 555.6 852.7 553.0 848.0 553.0C843.3 553.0 828.6 555.7 826.0 555.0C823.4 554.3 822.0 547.8 826.0 547.0Z" fill="#1e50ff"/></g><circle cx="859.7" cy="429.9" r="117.3" fill="#fff"/><path d="M872.0 545.0L884.0 545.0L885.0 560.0L874.0 561.4Z" fill="#fff"/></g>
<g clip-path="url(#clip1)"><g transform="translate(859.7,429.9)" fill="none" stroke="#000" stroke-width="1.9" stroke-linejoin="round" stroke-linecap="round"><path d="M-183.7 -127.1L-182.4 -128.8L-181.0 -130.4L-179.3 -131.7L-177.4 -132.5L-175.8 -133.9L-173.7 -134.5L-172.7 -132.1L-174.4 -131.1L-176.0 -130.0L-177.7 -129.1L-179.7 -127.4L-182.1 -126.5ZM-173.7 -130.7L-171.7 -131.0L-169.8 -131.8L-167.7 -131.7L-165.7 -131.9L-163.6 -132.7L-161.5 -133.0L-159.3 -132.9L-156.5 -132.5L-153.7 -131.9L-152.0 -130.5L-149.8 -130.1L-148.1 -128.7L-146.0 -127.0L-144.3 -124.9L-141.8 -125.8L-139.3 -126.9L-136.6 -126.8L-134.1 -127.5L-131.7 -126.4L-129.3 -125.5L-126.8 -125.7L-124.2 -125.2L-121.7 -125.7L-119.0 -126.1L-116.4 -125.2L-113.7 -125.5L-111.6 -125.6L-109.4 -125.6L-107.3 -125.1L-105.5 -126.4L-103.4 -127.3L-101.3 -128.1L-99.2 -128.7L-97.4 -130.3L-95.3 -130.9L-93.3 -131.4L-91.3 -131.8L-89.3 -132.5L-87.0 -133.7L-84.5 -134.7L-83.5 -136.6L-82.5 -138.5L-83.5 -140.7L-83.7 -143.1L-82.9 -145.4L-81.3 -147.3L-78.5 -147.9L-77.2 -145.9L-76.5 -143.7L-77.2 -140.9L-77.5 -138.1L-78.7 -134.9L-77.3 -137.3L-75.7 -139.7L-75.5 -141.9L-74.8 -144.0L-74.5 -146.1L-74.9 -148.1L-75.5 -150.1L-75.7 -152.1L-74.8 -154.0L-74.2 -156.0L-73.7 -158.1L-73.6 -160.2L-72.8 -162.1L-72.5 -164.1L-71.8 -166.1L-70.8 -168.0L-70.5 -170.1L-69.3 -172.0L-68.7 -174.2L-67.5 -176.1L-65.2 -177.8L-63.5 -180.1L-61.8 -182.2L-59.5 -183.7L-57.5 -185.2L-55.5 -186.5L-53.9 -187.3L-52.5 -188.5L-51.5 -187.5L-52.8 -185.8L-54.5 -184.5L-56.5 -182.8L-58.5 -181.1L-59.8 -178.8L-61.9 -177.1L-63.3 -174.7L-64.5 -172.1L-65.2 -170.2L-65.5 -168.1L-65.9 -166.1L-66.6 -163.6L-66.5 -161.1L-64.9 -160.2L-63.5 -158.9L-61.4 -159.5L-59.5 -160.5L-57.5 -161.0L-55.5 -161.7L-54.1 -160.2L-52.5 -158.9L-50.5 -158.4L-48.5 -157.9L-46.7 -156.6L-44.5 -155.9L-42.8 -154.0L-40.5 -152.9L-39.5 -150.9L-38.5 -148.9L-39.0 -146.5L-39.1 -144.1L-39.9 -142.2L-41.5 -140.9L-43.1 -139.6L-44.5 -138.1L-45.6 -136.6L-46.5 -134.9L-45.9 -132.7L-44.5 -130.9L-42.4 -131.2L-40.5 -132.1L-38.6 -133.1L-36.5 -133.7L-34.5 -133.2L-32.5 -132.5L-31.1 -131.1L-29.5 -129.9L-28.5 -128.2L-28.5 -126.3L-30.0 -125.3L-31.5 -124.3L-33.5 -123.8L-35.5 -123.9L-37.4 -122.7L-39.5 -122.3L-38.6 -120.7L-38.5 -118.9L-36.7 -117.2L-34.5 -115.9L-32.3 -115.2L-30.5 -113.9L-28.9 -113.1L-27.5 -111.9L-28.4 -109.9L-29.5 -107.9L-31.3 -106.1L-32.5 -103.9L-32.6 -101.3L-33.5 -98.9L-35.0 -97.4L-36.5 -95.9L-38.0 -93.9L-39.5 -91.9L-41.4 -92.8L-43.5 -92.9L-45.6 -92.2L-47.5 -90.9L-49.6 -90.6L-51.4 -89.4L-53.5 -88.9L-55.5 -88.2L-57.5 -87.4L-59.5 -86.9L-61.6 -86.6L-63.6 -86.0L-65.5 -84.9L-67.4 -83.9L-69.4 -83.3L-71.5 -82.9L-73.5 -82.3L-75.5 -82.0L-77.5 -81.9L-78.5 -79.9L-79.5 -77.9L-80.1 -75.4L-80.5 -72.9L-81.3 -70.8L-82.5 -68.9L-83.6 -67.0L-85.5 -65.9L-87.0 -64.8L-88.5 -63.9L-89.4 -61.8L-90.5 -59.9L-92.0 -58.8L-93.5 -57.5M-132.7 -124.1L-130.3 -123.2L-127.7 -123.1L-126.1 -121.9L-124.4 -121.1L-122.7 -120.1L-124.1 -121.2L-125.7 -122.1L-128.2 -122.5L-130.7 -122.5ZM-145.7 -127.1L-143.6 -127.0L-141.7 -126.1L-139.9 -124.7L-137.7 -124.1L-139.4 -124.8L-141.3 -124.9L-143.3 -126.3ZM-81.7 -161.7L-79.8 -162.4L-78.1 -163.7L-77.4 -161.4L-76.9 -159.1L-77.6 -157.3L-78.1 -155.3L-79.3 -153.7L-80.6 -155.0L-82.1 -156.1L-82.3 -158.9ZM-47.3 -193.7L-45.8 -196.2L-43.7 -198.1L-42.4 -199.8L-41.0 -201.3L-39.3 -202.5L-38.7 -200.5L-40.6 -198.4L-42.7 -196.5L-44.1 -194.3L-46.1 -192.7ZM-21.1 -208.1L-18.7 -210.5M-13.7 -211.7L-11.3 -212.1M-8.1 -212.1L-6.5 -210.9M-41.3 -158.5L-39.9 -159.7L-38.1 -160.1L-35.3 -158.5L-38.1 -156.5L-39.9 -157.2ZM-28.7 -142.5L-26.3 -143.5L-23.7 -143.7L-22.0 -143.0L-20.5 -142.1L-22.4 -140.9L-24.7 -140.5L-26.5 -141.8ZM-116.7 -70.1L-115.1 -71.2L-113.7 -72.5L-112.2 -71.0L-111.3 -69.1L-110.2 -71.2L-108.7 -73.1L-106.7 -72.1L-106.9 -70.1L-107.2 -68.1L-107.7 -66.1L-107.9 -64.0L-109.1 -62.2L-109.3 -60.1L-110.6 -62.4L-112.7 -64.1L-115.7 -63.1L-116.1 -65.4L-116.4 -67.8ZM-145.3 -66.1L-143.6 -68.4L-141.3 -70.1L-140.1 -68.2L-139.7 -66.1L-138.1 -65.0L-136.7 -63.7L-138.0 -61.7L-139.7 -60.1L-139.7 -58.0L-138.7 -56.2L-138.7 -54.1L-138.7 -51.9L-140.1 -49.9L-140.1 -47.7L-140.7 -49.5L-141.8 -51.2L-142.1 -53.1L-142.3 -55.1L-143.0 -57.1L-142.7 -59.1L-144.0 -60.6L-145.3 -62.1L-144.8 -64.1ZM-162.1 -60.1L-159.7 -61.7L-159.2 -59.7L-158.3 -57.9L-157.3 -56.1L-158.1 -53.5L-159.3 -51.1L-161.7 -49.1L-161.9 -51.3L-162.2 -53.5L-161.7 -55.7L-162.0 -57.9ZM-181.3 -40.5L-179.1 -39.5L-176.7 -39.1L-174.9 -38.2L-173.2 -37.3L-171.7 -36.1L-173.7 -34.7L-176.1 -36.2L-178.7 -37.1L-179.6 -39.1ZM-220.7 -32.1L-218.2 -32.8L-215.9 -33.8L-213.7 -35.1L-211.6 -35.4L-209.6 -36.2L-207.8 -37.3L-205.7 -37.7L-203.7 -37.9L-201.7 -38.1L-202.7 -35.1L-205.0 -34.1L-207.2 -32.9L-209.7 -32.5L-211.5 -31.3L-213.6 -30.7L-215.7 -30.1L-218.3 -30.9ZM-218.7 -25.1L-216.3 -25.9L-213.9 -26.7L-211.7 -28.1L-209.7 -28.8L-207.6 -28.9L-205.6 -29.4L-203.7 -30.5L-201.1 -30.3L-198.7 -31.1L-199.3 -28.1L-201.4 -27.2L-203.4 -26.3L-205.5 -25.6L-207.7 -25.1L-209.9 -23.9L-212.3 -23.1L-214.7 -22.5L-216.6 -23.9ZM-190.7 21.9L-189.8 20.0L-189.4 18.0L-189.2 15.9L-188.7 13.9L-187.8 12.0L-186.8 10.0L-186.7 7.7L-185.4 6.0L-184.7 3.9L-183.7 1.5L-183.1 -1.0L-182.5 -3.5L-182.1 -6.1L-180.0 -6.9L-178.0 -7.9L-175.7 -8.1L-173.7 -9.1L-171.8 -11.2L-169.7 -13.1L-167.7 -12.5L-165.8 -12.0L-163.7 -12.1L-161.7 -11.4L-159.7 -10.7L-157.9 -9.4L-155.7 -9.1L-153.8 -7.9L-151.6 -7.4L-149.7 -6.1L-148.4 -4.5L-147.4 -2.8L-147.1 -0.6L-145.7 0.9L-144.2 2.2L-142.2 2.6L-140.7 3.9L-139.2 5.2L-137.6 6.3L-135.7 6.9L-133.8 8.0L-131.6 8.8L-129.7 9.9L-128.1 10.9L-126.2 11.6L-124.7 12.9L-123.5 11.5L-121.7 10.9L-119.8 9.2L-118.7 6.9L-115.7 5.9M24.3 -159.1L22.2 -158.5L20.3 -157.6L18.1 -157.3L16.3 -156.1L14.0 -154.8L11.5 -154.0L9.3 -152.5L6.8 -151.9L4.7 -150.4L2.3 -149.7L1.7 -147.8L0.7 -146.1L2.2 -144.2L3.3 -142.1L4.5 -140.2L5.3 -138.1L3.6 -137.2L2.1 -135.9L0.3 -135.1L-0.6 -133.6L-1.7 -132.1L-0.8 -130.2L-0.7 -128.1L-2.0 -129.4L-3.7 -130.1L-4.8 -132.0L-5.7 -134.1L-7.7 -134.9L-9.7 -135.8L-11.7 -136.5L-14.2 -137.2L-16.7 -137.1L-17.6 -134.6L-18.7 -132.1L-20.5 -130.4L-21.7 -128.1L-20.2 -126.6L-18.7 -125.1L-16.2 -124.1L-13.7 -123.1L-11.7 -122.1L-9.5 -121.5L-7.7 -120.1L-5.7 -118.1L-3.7 -116.1L-1.5 -114.9L0.3 -113.1L2.5 -112.5L4.2 -110.8L6.3 -110.1L8.4 -109.7L10.3 -108.8L12.3 -108.1L14.7 -106.9L17.3 -106.1L18.8 -107.1L20.3 -108.1L19.3 -111.1L22.3 -112.1L23.5 -110.2L24.3 -108.1M-4.7 -100.1L-3.2 -101.1L-1.7 -102.1L0.1 -101.5L1.9 -101.1L0.3 -98.5L-1.5 -98.6L-3.3 -98.1ZM-93.5 -57.5L-94.7 -56.2L-96.4 -55.5L-98.2 -54.2L-99.9 -52.9L-101.3 -51.0L-103.0 -49.4L-104.6 -48.0L-106.5 -46.9L-108.0 -45.8L-109.1 -44.3L-110.1 -42.1L-111.1 -39.8L-111.7 -37.8L-112.1 -35.8L-113.1 -33.8L-113.6 -31.7L-115.0 -29.9L-115.6 -27.7L-116.9 -25.6L-118.2 -23.6L-119.3 -22.2L-120.2 -20.6L-122.0 -19.1L-123.7 -17.5M-123.7 -10.0L-121.7 -11.2L-119.6 -12.2L-117.7 -13.5L-115.7 -14.5L-113.6 -15.5L-111.6 -17.5L-108.5 -16.5L-109.6 -15.0L-110.6 -13.5L-109.0 -12.5L-107.5 -11.5L-105.7 -10.3L-103.5 -10.0L-101.6 -8.3L-99.4 -6.9L-97.8 -5.8L-95.9 -5.4L-92.9 -6.4L-89.8 -6.4L-86.8 -5.4L-87.0 -3.3L-86.3 -1.4L-88.3 1.2L-90.5 0.1L-92.4 -1.4L-95.4 -2.9L-97.2 -2.2L-98.9 -1.4L-100.9 -0.7L-102.5 0.7L-104.2 2.0L-105.5 3.7L-106.2 5.4L-107.5 6.7L-107.4 8.8L-108.0 10.8L-107.2 12.8L-106.5 14.8L-106.6 17.0L-107.5 18.9L-106.3 20.8L-105.5 22.9L-106.4 24.7L-108.0 26.0L-109.4 27.9L-110.6 30.0L-111.6 32.0L-112.1 34.1L-113.8 33.4L-115.6 33.5L-117.0 34.6L-118.7 35.1L-121.2 35.4L-123.7 36.1M-86.3 -54.0L-83.7 -54.3L-81.2 -55.0L-79.1 -54.6L-77.2 -53.5L-76.5 -51.5L-75.2 -49.9L-73.4 -48.3L-71.1 -47.4L-71.1 -45.1L-71.6 -42.8L-73.2 -41.6L-74.2 -39.8L-77.2 -38.3L-80.2 -36.8L-81.7 -39.8L-82.3 -41.5L-82.8 -43.3L-83.8 -44.8L-84.8 -46.4L-85.4 -48.4L-86.8 -49.9L-86.2 -51.9ZM-108.0 -44.3L-106.2 -45.9L-104.0 -46.9L-101.5 -47.5L-98.9 -47.9L-96.4 -45.9L-96.9 -43.9L-97.4 -41.8L-95.4 -39.8L-94.0 -42.1L-92.4 -44.3L-91.0 -45.6L-89.3 -46.4L-86.8 -45.4L-84.8 -42.8L-83.6 -41.1L-82.8 -39.3L-83.3 -36.3L-86.3 -34.7L-86.8 -33.0L-86.8 -31.2L-88.3 -28.7L-87.3 -26.1L-85.7 -25.2L-84.8 -23.6L-85.8 -21.1L-88.3 -22.6L-91.4 -24.1L-93.4 -24.4L-95.4 -24.6L-97.4 -24.3L-99.4 -24.1L-100.9 -22.5L-103.0 -21.6L-104.1 -20.2L-105.5 -19.1L-108.5 -20.6L-109.4 -22.2L-110.6 -23.6L-110.3 -25.4L-110.1 -27.2L-109.7 -29.1L-108.5 -30.7L-108.3 -32.8L-109.1 -34.7L-108.5 -36.7L-108.5 -38.8L-109.1 -41.8ZM-99.9 -15.0L-97.8 -16.1L-96.4 -18.0L-94.5 -18.9L-92.4 -19.1L-90.7 -18.5L-89.3 -17.5L-87.5 -16.9L-86.3 -15.5L-86.3 -13.5L-85.8 -11.5L-88.3 -9.4L-90.4 -9.5L-92.4 -10.0L-94.3 -9.3L-96.4 -9.4L-97.7 -10.6L-98.9 -12.0ZM-92.9 -5.4L-91.0 -5.5L-89.3 -6.4L-86.3 -5.4L-86.6 -3.4L-86.3 -1.4L-88.3 1.2L-90.0 0.1L-91.4 -1.4L-92.5 -3.3ZM-116.1 -14.5L-114.1 -15.7L-112.6 -17.5L-110.9 -16.4L-109.1 -15.5L-110.6 -12.5L-112.4 -11.9L-114.1 -11.0L-115.5 -12.5ZM-78.2 -31.2L-77.0 -32.8L-75.2 -33.7L-73.3 -34.6L-71.6 -35.8L-69.9 -36.6L-68.1 -37.3L-66.1 -35.8L-67.1 -32.7L-68.4 -31.3L-70.1 -30.7L-73.1 -29.2L-75.7 -28.2L-74.2 -25.6L-72.2 -24.9L-70.1 -25.1L-67.1 -23.6L-69.1 -21.6L-71.1 -21.5L-73.1 -21.1L-76.2 -21.6L-77.7 -24.6L-77.2 -27.7L-77.4 -29.5ZM-65.0 -38.3L-63.5 -40.8L-61.0 -40.8L-59.9 -38.4L-59.5 -35.8L-60.1 -33.5L-60.0 -31.2L-62.5 -29.7L-64.0 -32.7L-64.9 -35.4ZM-78.7 -15.5L-76.9 -15.7L-75.2 -16.5L-73.4 -16.0L-71.6 -15.5L-71.2 -13.8L-71.1 -12.0L-73.1 -10.0L-74.9 -10.1L-76.7 -10.0L-78.7 -12.0L-78.3 -13.8ZM-63.0 -25.6L-60.0 -27.2L-58.6 -26.1L-57.5 -24.6L-57.4 -22.6L-58.0 -20.6L-60.5 -19.6L-62.5 -22.1L-62.7 -23.9ZM-62.0 -13.5L-60.4 -14.5L-58.5 -15.0L-55.4 -15.0L-55.3 -13.2L-55.9 -11.5L-57.3 -10.2L-59.0 -9.4L-61.5 -10.5ZM-82.2 -6.4L-79.2 -7.9L-77.2 -5.9L-79.2 -3.9L-81.7 -4.2ZM-67.6 -6.4L-65.6 -7.4L-64.9 -5.5L-65.0 -3.4L-66.6 -1.4L-67.9 -3.9ZM-74.2 -5.4L-71.6 -6.4L-71.1 -3.9L-73.1 -1.4L-74.4 -3.4ZM-78.2 -19.1L-76.2 -19.6L-74.2 -19.6L-72.1 -19.3L-70.1 -18.6L-72.1 -17.9L-74.2 -17.5L-76.1 -18.5ZM-68.6 -16.5L-65.0 -17.0L-64.0 -16.0L-67.6 -15.5ZM-64.5 -0.3L-62.9 -1.5L-61.0 -2.4L-59.0 -2.6L-57.0 -2.9L-55.0 -3.5L-52.9 -3.4L-50.8 -2.8L-48.9 -1.9L-50.9 0.2L-50.9 2.1L-51.9 3.7L-54.9 4.7L-58.0 4.2L-61.0 5.2L-63.5 3.2L-64.2 1.5ZM-83.8 -0.3L-81.2 -1.4L-78.2 -0.3L-77.2 2.7L-77.2 4.8L-78.2 6.7L-77.9 8.8L-77.2 10.8L-78.0 12.5L-78.7 14.3L-81.2 14.8L-82.8 11.8L-83.4 9.8L-83.3 7.7L-83.7 5.7L-84.1 3.7L-83.5 1.7ZM-74.2 3.7L-71.1 2.2L-69.4 2.9L-68.1 4.2L-66.7 5.5L-65.0 6.2L-63.0 5.9L-61.0 5.7L-59.0 5.2L-57.0 4.7L-54.9 4.5L-52.9 3.7L-51.8 5.1L-50.9 6.7L-50.2 8.8L-49.4 10.8L-48.5 8.8L-47.9 6.7L-47.1 4.8L-47.3 2.7L-48.9 -0.3L-45.8 0.2L-43.7 1.8L-41.8 3.7L-40.0 5.9L-37.7 7.7L-36.6 10.3L-35.2 12.8L-35.6 15.3L-35.7 17.9L-37.2 20.9L-39.0 21.5L-40.8 21.9L-43.8 21.4L-46.8 19.9L-47.7 21.5L-48.9 22.9L-51.9 24.4L-54.9 22.9L-56.3 21.7L-57.0 19.9L-59.1 19.8L-61.0 18.9L-62.7 18.3L-64.0 16.9L-67.1 15.8L-69.0 15.1L-71.1 14.8L-72.3 13.4L-73.1 11.8L-74.0 9.8L-74.2 7.7L-74.6 5.7ZM-108.5 8.8L-106.3 7.0L-104.5 4.7L-101.8 4.0L-99.4 2.7L-96.9 3.1L-94.4 3.2L-91.8 4.3L-89.3 5.7L-87.8 7.6L-86.8 9.8L-86.3 12.3L-86.3 14.8L-86.8 17.4L-87.3 19.9L-88.6 21.6L-90.3 22.9L-91.3 25.0L-92.4 27.0L-93.2 28.6L-94.4 30.0L-95.8 31.8L-96.4 34.1L-97.8 36.4L-98.4 39.1L-99.5 40.6L-100.5 42.1L-103.5 43.2L-106.5 44.2L-109.6 45.2L-110.8 43.3L-111.6 41.1L-110.2 39.3L-109.6 37.1L-110.8 35.7L-111.6 34.1L-110.7 32.0L-109.6 30.0L-109.0 28.0L-107.6 26.5L-106.5 24.9L-107.5 22.9L-108.5 20.9L-108.7 18.9L-109.2 16.9L-109.1 14.8L-108.9 12.8L-109.2 10.8ZM-98.9 8.8L-95.4 6.7L-91.4 7.2L-88.3 9.8M-95.4 14.8L-92.4 13.8L-89.3 14.8M-92.4 17.9L-89.8 16.3L-87.3 17.9L-87.8 20.9L-90.3 21.9L-92.2 20.4ZM-122.7 -5.4L-120.8 -6.1L-118.7 -6.4L-116.9 -5.7L-115.6 -4.4L-116.6 -2.8L-117.7 -1.4L-115.9 -0.7L-114.6 0.7L-115.2 2.5L-116.6 3.7L-119.7 4.7L-121.1 5.9L-122.7 6.7M-120.2 29.5L-117.7 28.0L-115.1 30.0L-116.1 33.0L-119.2 33.5L-120.0 31.6ZM-23.7 -142.1L-21.7 -141.0L-19.7 -140.1L-18.2 -138.1L-16.7 -136.1L-17.9 -134.2L-18.7 -132.1L-20.3 -130.2L-21.7 -128.1L-19.8 -126.6L-17.9 -125.1L-15.7 -124.1L-13.6 -122.7L-11.6 -121.2L-10.0 -119.2L-7.7 -118.1L-5.5 -116.9L-3.8 -114.9L-1.8 -113.5L0.3 -112.1L2.5 -111.5L4.2 -109.8L6.1 -108.7L8.3 -108.1L10.3 -107.5L12.2 -106.9L14.2 -106.3L16.3 -106.1L17.5 -108.3L19.3 -110.1L20.3 -108.6L21.3 -107.1L23.8 -106.1L26.3 -105.1L28.2 -104.0L30.2 -103.3L32.2 -102.5L34.3 -102.1L35.2 -100.1L36.3 -98.1L38.0 -95.8L40.3 -94.1L42.2 -92.9L44.2 -91.9L46.3 -91.1L47.6 -88.7L48.3 -86.1L49.7 -84.7L50.6 -83.0L51.3 -81.1L52.7 -79.5L54.3 -78.0L55.3 -76.1L56.6 -74.4L58.3 -73.1L60.3 -74.6L62.3 -76.1L64.2 -75.0L66.3 -74.1L68.2 -72.7L70.2 -71.3L72.3 -70.1L74.0 -68.8L75.9 -67.8L77.3 -66.1L76.5 -64.2L76.3 -62.1L74.2 -61.3L72.3 -60.1L71.8 -57.6L71.3 -55.1L72.8 -53.1L74.3 -51.1L75.7 -49.0L77.3 -47.1L78.4 -45.2L78.4 -43.0L79.3 -41.1L79.9 -39.1L80.4 -37.2L80.3 -35.1L79.5 -33.0L78.3 -31.1L80.2 -29.4L82.3 -28.1L84.0 -27.3L85.3 -26.1L82.9 -27.3L80.3 -28.1L78.4 -28.9L76.3 -28.8L74.3 -29.1L71.8 -28.0L69.3 -27.1L68.3 -25.4L67.1 -23.9L66.3 -22.1L66.5 -19.5L67.3 -17.1L66.2 -15.7L65.3 -14.1L67.7 -13.0L70.3 -12.1L72.0 -10.3L73.3 -8.3L74.3 -6.1L75.2 -4.2L75.4 -2.0L76.3 -0.1L78.4 1.8L80.3 3.9L81.9 5.0L83.9 5.5L85.3 6.9L86.4 8.8L86.9 10.8L87.3 12.9L89.3 13.6L91.3 13.9L93.4 13.1L95.3 11.9L96.3 14.9L94.7 16.8L93.3 18.9L92.5 20.5L91.3 21.9M-23.7 -127.1L-21.7 -128.1L-19.7 -129.1L-17.7 -130.1L-15.7 -131.5L-13.9 -133.1L-11.7 -134.1L-9.9 -132.5L-7.5 -131.9L-6.0 -129.9L-3.7 -129.1L-0.7 -130.1L0.7 -131.9L0.9 -134.3L2.3 -136.1L1.9 -138.1L1.9 -140.2L1.3 -142.1L2.0 -144.1L1.6 -146.1L1.9 -148.1L3.9 -149.3L6.0 -150.4L8.3 -151.1L10.5 -151.7L12.2 -153.4L14.3 -154.0L16.3 -155.1L18.5 -156.4L21.0 -157.1L23.3 -158.1L25.2 -158.7L26.4 -160.4L28.3 -161.1L30.2 -160.1L32.3 -159.8L34.3 -159.1L36.4 -159.2L38.3 -159.8L40.3 -160.5L42.2 -161.6L44.5 -161.9L46.3 -163.1L48.3 -164.6L50.3 -166.1L50.9 -168.0L51.9 -169.7L53.3 -171.1L52.8 -173.6L52.3 -176.1L54.3 -177.6L56.3 -179.1L57.6 -181.2L59.3 -183.1L60.8 -184.4L62.6 -185.2L64.3 -186.1L66.2 -187.7L68.3 -189.1L70.2 -190.2L71.3 -192.2L73.3 -193.1L75.1 -194.2L76.8 -195.5L78.3 -197.1L80.1 -198.4L82.5 -198.7L84.3 -200.1L85.3 -198.1L84.6 -196.2L83.9 -194.2L84.0 -192.0L83.3 -190.1L82.9 -188.1L82.4 -186.1L81.3 -184.2L81.3 -182.1L80.5 -180.1L80.1 -178.1L79.3 -176.1L78.0 -174.1L76.8 -172.0L75.3 -170.1L73.9 -168.4L72.2 -167.1L70.3 -166.1L68.2 -165.4L66.4 -163.9L64.3 -163.1L62.1 -162.1L60.4 -160.2L58.3 -159.1L56.4 -157.9L54.3 -157.1L52.3 -156.1L50.4 -155.1L48.3 -154.6L46.3 -154.1L44.0 -152.4L42.3 -150.1L40.9 -147.7L40.3 -145.1L41.6 -143.8L43.3 -143.1L44.9 -145.0L46.3 -147.1L48.9 -147.2L51.3 -148.1L53.0 -145.8L55.3 -144.1L57.8 -144.6L60.3 -145.1L62.4 -145.9L64.1 -147.5L66.3 -148.1L68.1 -149.3L69.6 -150.8L71.3 -152.1L72.9 -152.9L74.3 -154.1L76.2 -152.0L78.3 -150.1L80.4 -149.8L82.3 -149.1L84.2 -147.4L85.3 -145.1L86.7 -143.7L88.8 -143.4L90.3 -142.1L92.0 -140.8L93.7 -139.6L95.3 -138.1L97.1 -137.3L98.5 -135.9L100.3 -135.1L102.1 -133.7L104.3 -133.1L106.3 -133.6L108.3 -133.4L110.3 -134.0L112.3 -134.1L114.3 -134.5L116.3 -135.2L118.2 -135.9L120.3 -136.1L122.2 -136.9L124.2 -137.4L126.4 -137.2L128.3 -138.1L130.3 -138.4L132.3 -138.9L134.4 -138.4L136.3 -139.1L137.3 -141.0L137.3 -143.1L135.8 -144.6L134.3 -146.1L135.0 -147.8L136.3 -149.1L133.3 -150.1L132.0 -148.8L130.3 -148.1L129.2 -150.0L128.8 -152.1L128.3 -154.1L126.5 -155.3L125.3 -157.1L122.8 -156.8L120.3 -157.1L121.3 -159.1L122.1 -161.0L123.4 -162.6L124.6 -164.2L125.3 -166.1L126.5 -168.0L127.2 -170.1L128.2 -172.1L129.3 -174.1L130.3 -175.8L131.2 -177.5L132.3 -179.1M126.3 -157.1L127.2 -158.9L127.9 -160.8L129.1 -162.5L130.3 -164.1L131.7 -165.9L132.0 -168.3L133.3 -170.1L134.6 -172.1L136.1 -174.0L137.3 -176.1L138.6 -174.8L140.3 -174.1M39.3 -72.1L41.3 -74.1L42.8 -72.3L43.9 -70.1L42.3 -67.1L41.1 -68.6L40.1 -70.3ZM45.3 -63.1L47.2 -64.7L49.3 -66.1L51.3 -64.6L53.3 -63.1L53.4 -61.0L54.3 -59.1L52.1 -57.3L50.3 -55.1L48.5 -56.9L46.3 -58.1L45.3 -60.5ZM53.3 -74.1L56.3 -75.1L57.3 -73.2L57.3 -71.1L55.7 -70.3L54.3 -69.1L54.2 -71.7ZM177.3 -64.1L179.6 -64.5L182.0 -64.7L184.3 -65.1L186.4 -65.2L188.3 -64.5L190.2 -63.6L192.3 -63.7L194.2 -62.5L196.2 -61.6L198.3 -61.1L200.0 -59.4L202.4 -58.6L204.3 -57.1L205.9 -55.7L207.2 -54.0L208.3 -52.1L207.3 -49.1L205.3 -51.1L203.3 -53.1L201.4 -54.6L199.5 -56.1L197.3 -57.1L195.4 -58.3L193.4 -59.2L191.3 -60.1L189.0 -60.9L186.6 -61.1L184.3 -61.7L182.3 -61.8L180.3 -61.2L178.3 -61.7ZM47.3 -6.1L49.1 -7.2L50.5 -9.0L52.3 -10.1L54.3 -11.5L55.7 -13.3L57.3 -15.1L59.3 -15.8L61.3 -16.1L62.6 -14.8L63.3 -13.1L62.5 -11.3L61.2 -9.8L60.3 -8.1L58.2 -6.2L56.3 -4.1L54.5 -2.3L52.3 -1.1L50.2 -1.2L48.3 -2.1L47.8 -4.1ZM76.3 -31.1L78.3 -32.0L80.3 -33.1L82.0 -31.9L83.8 -30.6L85.3 -29.1L85.7 -27.1L86.3 -25.1L84.2 -25.1L82.3 -26.1L80.2 -26.9L78.3 -28.1L77.3 -29.6ZM-21.7 -210.5L-19.7 -211.7M-13.7 -211.1L-11.7 -210.5M-8.1 -211.7L-6.7 -210.1M23.3 -205.1L26.3 -204.5L26.7 -202.5L23.9 -203.1ZM45.3 -189.1L46.7 -184.5M45.3 -163.1L48.3 -165.1L49.9 -163.1L46.7 -161.1ZM129.3 -143.1L131.9 -144.1L132.7 -141.7L130.3 -140.5ZM91.3 -28.1L95.3 -27.1L96.3 -24.1M64.3 -26.1L64.5 -24.0L65.5 -22.1L66.3 -20.1L67.5 -18.3L69.3 -17.1L71.0 -15.5L72.8 -14.0L74.3 -12.1L75.2 -10.2L75.2 -8.0L76.3 -6.1L77.5 -4.0L79.1 -2.2L80.3 -0.1L82.3 0.9L83.6 2.6L85.3 3.9L85.8 6.0L86.7 7.9L87.3 9.9L89.4 10.2L91.3 10.9L93.9 10.1L96.3 8.9L96.4 11.0L97.3 12.9L96.0 15.1L94.3 16.9L93.1 18.3L91.3 18.9L93.9 19.7L96.3 20.9L97.4 22.9L98.3 24.9L96.2 25.4L94.3 26.3L91.9 27.2L89.3 27.5L87.2 27.9L85.3 28.9M85.3 28.9L87.9 28.1L90.3 26.9L92.3 27.6L94.4 28.0L96.3 28.9L98.2 29.9L100.3 29.7L102.2 30.7L104.3 30.9L106.4 31.1L108.4 31.6L110.2 32.7L112.3 32.9L114.3 32.2L116.3 31.9L118.0 34.2L120.3 35.9L121.0 37.9L121.9 39.8L122.3 41.9L119.3 42.9L118.1 41.4L117.2 39.6L116.3 37.9L114.4 36.8L112.3 35.9L110.4 35.1L108.2 35.6L106.3 34.9L104.3 34.7L102.3 34.5L100.3 33.9L98.3 33.4L96.3 34.3L94.3 33.9L91.6 33.3L89.3 31.9L87.0 30.8ZM85.3 28.9L87.4 30.8L89.3 32.9L90.7 34.8L92.4 36.5L94.3 37.9L96.2 39.1L98.1 40.3L100.3 40.9L102.3 41.3L104.3 40.7L106.3 40.9L107.6 39.6L109.3 38.9L107.3 40.3L105.8 42.1L104.3 43.9L102.6 45.6L100.2 46.4L98.3 47.9L96.7 49.0L95.0 50.0L93.3 50.9L92.4 52.5L91.3 53.9L90.5 55.7L92.2 55.0L94.0 55.0L96.0 54.2L98.2 54.3L100.3 56.4L101.2 58.1L101.7 59.9L98.9 58.5L98.0 60.3L96.8 62.0L96.0 63.7L96.1 65.5L95.0 67.2L93.3 68.3L92.2 70.3L91.9 72.5L91.5 74.4L90.5 76.0L91.3 77.7L91.9 79.5L91.9 81.3L92.6 83.0L91.3 84.2L90.5 85.8L87.7 85.1L86.6 83.7L85.6 82.3L83.9 83.1L82.1 83.0L79.3 84.4L81.1 85.1L82.8 85.8L84.9 87.9L87.7 89.3L89.8 91.4L89.1 94.2L88.2 95.7L87.0 97.0L86.2 98.7L86.3 100.5L88.4 102.6L89.1 104.7L87.4 105.4L85.6 105.4L82.8 106.8L84.2 108.9L87.0 109.6L86.3 111.7L84.6 112.5L82.8 113.1L80.8 112.4L78.6 112.4L76.9 111.7L75.8 110.3L74.7 109.0L73.7 107.5L72.1 106.5L70.2 106.1L68.1 105.5L66.0 105.4L67.8 104.9L69.5 105.4L71.5 104.4L73.7 104.4L76.1 103.4L78.6 103.3L80.6 102.6L82.1 101.2L83.5 98.4L82.9 96.7L82.8 94.9L81.9 93.4L80.7 92.1L78.7 91.4L76.5 91.4L73.7 91.6L70.9 91.4L68.1 91.8L65.3 91.8L62.5 91.5L59.7 92.1L57.3 91.6L54.8 91.4L53.1 92.0L51.3 92.1L49.2 91.5L47.1 91.4L45.4 91.9L43.6 92.1L42.4 93.7L40.8 94.9L39.8 97.3L38.0 99.1L36.4 101.1L35.2 103.3L33.8 105.2L33.1 107.5L31.9 109.5L31.0 111.7L28.9 113.5L27.5 115.9L30.3 117.3L30.3 119.3L29.6 121.1L28.9 122.9L28.5 124.8L27.5 126.5L27.5 128.5L26.6 130.3L26.7 132.3L26.1 134.1L25.6 136.1L24.8 137.9L24.0 139.7L22.3 141.8L20.5 143.9L18.4 145.7L17.0 148.1L16.4 150.1L14.9 151.7L14.2 153.7L13.5 155.5L13.0 157.4L12.8 159.3L14.0 159.5L14.8 162.1L16.1 164.4L16.7 166.9L17.5 169.3L19.0 170.6L20.3 172.1L22.1 172.3L23.8 172.8L25.1 171.6L26.6 170.7L27.9 169.5L28.7 167.9L30.8 165.8L32.9 167.2L34.3 168.7L35.0 170.7L36.3 172.3L37.1 174.2L37.9 176.1L39.2 177.7L40.5 179.3L41.3 181.2L42.7 182.3L43.4 184.0L45.5 185.4L47.6 183.3L48.2 181.0L49.7 179.1L50.1 176.3L50.4 173.5L50.6 170.7L51.1 167.9L52.1 166.2L52.5 164.3L52.6 162.3L53.4 159.9L53.3 157.4L52.0 155.8L51.1 153.9L49.4 152.0L48.3 149.7L46.9 147.8L46.2 145.5L45.8 143.4L45.5 141.3L46.4 139.3L46.9 137.1L47.9 135.0L49.0 132.9L50.4 130.1L49.9 128.5L49.3 126.4L49.2 124.3L49.8 122.5L50.6 120.8L52.4 120.2L54.1 119.4L55.4 120.6L56.9 121.5L56.3 123.9L56.2 126.4L55.2 128.8L54.8 131.3L55.0 134.1L55.5 136.9L56.3 138.7L56.1 140.7L56.9 142.5L58.1 144.5L59.0 146.7L60.7 147.8L62.5 148.8L65.3 148.8L66.6 147.6L68.1 146.7L69.7 145.5L70.9 143.9L72.5 142.6L74.4 141.8L76.1 141.2L77.9 141.1L79.7 141.2L81.4 141.8L82.8 143.2L81.1 143.9L79.3 143.9L77.7 144.6L76.5 146.0L75.1 147.0L73.7 148.1L72.4 149.6L70.9 150.9L69.6 152.7L68.1 154.4L66.4 155.5L65.3 157.2L68.1 157.9L70.2 160.0L68.0 161.6L70.1 161.3L72.2 160.9L73.1 162.6L73.6 164.4L72.0 165.2L70.8 166.5L69.1 165.7L67.3 165.1L66.5 167.1L66.6 169.3L67.3 172.1L67.3 174.9L67.0 177.4L66.6 179.8L65.3 181.4L64.5 183.3L62.9 184.5L61.7 186.1L59.8 186.4L58.2 187.5L56.7 188.9L54.7 189.6L53.0 190.8L51.1 191.7L48.3 193.1L46.4 192.8L44.8 191.7L42.7 193.8L40.7 194.5L38.5 194.5L37.1 195.9L36.0 194.5L34.3 193.8L33.7 192.0L32.9 190.3L33.7 188.3L33.6 186.1L33.1 184.0L32.9 181.9L32.9 179.7L32.2 177.7L30.1 176.3L28.7 177.4L27.3 178.4L27.0 180.6L26.2 182.6L26.5 184.8L27.3 186.8L28.0 189.1L29.4 191.0L30.3 192.6L30.4 194.5L29.1 195.8L28.0 197.3L26.2 198.6L24.5 200.1L21.7 201.5L20.5 203.1L18.9 204.3L17.6 206.5L16.1 208.5L15.0 210.8L13.3 212.7L11.8 214.7L9.8 216.2L8.6 218.1L7.0 219.7L6.6 221.9L6.3 224.2M-37.8 207.1L-36.6 205.4L-35.7 203.6L-35.3 201.7L-34.3 200.1L-35.0 197.3L-33.9 195.9L-32.2 195.2L-30.6 193.7L-28.7 192.4L-26.9 191.9L-25.2 191.0L-23.4 191.0L-21.7 191.7L-20.3 194.5L-20.5 196.3L-21.0 198.0L-20.0 199.6L-19.6 201.5L-20.6 203.1L-21.0 205.0L-22.1 206.4L-23.1 207.8L-24.7 208.9L-26.6 209.2L-28.6 210.3L-30.8 210.6L-32.9 211.1L-35.0 211.3L-37.1 209.9ZM-17.5 172.8L-14.7 172.1L-13.0 172.5L-11.2 172.8L-9.1 174.9L-9.8 177.0L-7.0 178.4L-6.3 181.2L-7.5 182.5L-8.4 184.0L-7.7 186.1L-6.0 187.2L-4.9 188.9L-3.5 190.8L-2.8 193.1L-1.9 195.3L-0.7 197.3L0.1 199.4L0.7 201.5L1.9 203.1L2.8 205.0L4.3 205.9L5.6 207.1L5.9 209.0L7.0 210.6L6.5 212.4L5.6 214.1L2.8 215.5L4.2 217.6L2.1 219.7L0.0 219.6L-2.1 219.7L-4.2 219.5L-6.3 219.0L-8.0 219.4L-9.8 219.7L-11.7 220.1L-13.3 221.1L-15.5 221.0L-17.5 221.8L-19.2 222.4L-21.0 222.8L-19.8 221.0L-18.2 219.7L-16.7 218.8L-15.4 217.6L-13.8 216.6L-11.9 216.2L-14.0 214.1L-15.8 214.6L-17.5 214.1L-18.9 212.0L-17.3 211.3L-16.1 209.9L-14.7 207.1L-16.8 205.0L-16.5 203.2L-16.1 201.5L-13.3 200.1L-12.0 198.9L-11.2 197.3L-14.0 195.9L-15.1 194.6L-16.1 193.1L-17.5 190.3L-16.1 187.5L-16.8 185.9L-18.2 184.7L-17.9 182.9L-17.5 181.2L-18.5 179.6L-18.9 177.7L-18.2 174.9ZM-22.4 174.2L-21.3 172.8L-19.6 172.1L-18.6 174.6L-19.5 176.5L-20.3 178.4L-22.0 177.0ZM33.6 186.8L35.4 186.2L37.1 185.4L38.6 186.8L40.6 187.5L41.4 189.2L41.3 191.0L38.5 192.4L36.8 191.9L35.0 191.7L34.2 189.3ZM55.4 168.6L57.5 166.8L58.4 170.0L56.8 172.1ZM18.2 206.4L20.1 205.5L21.0 207.4L19.2 208.5ZM-19.9 150.4L-17.8 149.7L-16.9 151.8L-18.9 152.5ZM-4.9 162.0L-3.5 162.6L-3.9 164.4L-5.2 163.7ZM78.6 135.5L80.0 134.3L81.4 133.0L83.5 132.8L85.6 133.4L86.8 134.7L87.7 136.2L87.0 137.9L86.3 139.7L84.4 140.0L82.8 141.1L81.0 140.4L79.6 139.0L79.1 137.3ZM84.2 122.2L87.0 121.5L88.6 123.1L90.5 124.3L92.0 126.1L94.0 127.1L92.6 129.2L90.7 128.8L89.1 127.8L87.5 127.0L86.3 125.7L85.6 123.7ZM83.5 73.2L85.6 71.4L87.7 73.2L86.3 76.0L84.2 75.3ZM65.3 28.9L67.3 26.9L67.9 29.6L69.3 31.9L69.8 33.9L70.7 35.8L70.4 38.0L71.3 39.9L72.4 42.2L72.9 44.7L74.3 46.9L75.5 49.0L76.7 51.1L78.3 52.9L80.1 53.6L81.5 55.1L83.3 55.9L84.6 54.7L86.3 53.9L85.3 56.9L82.8 58.0L80.3 58.9L78.5 57.1L76.3 55.9L75.2 53.7L73.4 52.1L72.3 49.9L71.1 48.0L70.4 45.9L69.6 43.9L68.7 41.9L68.0 39.9L67.1 38.0L66.7 36.0L66.3 33.9L66.0 31.4ZM10.3 53.9L12.2 53.2L13.4 51.5L15.3 50.9L17.3 50.0L19.3 48.9L21.2 49.6L23.3 49.9L24.2 51.8L24.3 53.9L22.6 54.6L21.3 55.9L23.5 57.1L25.3 58.9L26.3 61.9L23.3 62.9L22.4 61.3L21.3 59.9L20.3 61.4L19.3 62.9L19.7 64.9L20.3 66.9L18.7 66.1L17.3 64.9L16.2 62.4L15.3 59.9L13.8 58.8L12.3 57.9L11.2 55.9ZM35.3 32.9L36.9 31.5L38.3 29.9L39.3 31.4L40.3 32.9L38.8 34.0L37.3 34.9ZM40.3 23.9L41.5 22.5L43.3 21.9L44.2 24.0L45.3 25.9L43.8 27.4L42.3 28.9L41.1 26.5ZM46.3 -13.1L48.1 -13.9L49.8 -14.9L51.3 -16.1L53.3 -17.1L55.2 -18.4L57.3 -19.1L59.3 -18.6L61.3 -18.1L62.3 -15.1L60.6 -12.8L58.3 -11.1L56.9 -9.5L55.0 -8.4L53.3 -7.1L51.4 -6.2L49.3 -6.1L48.2 -8.4L47.3 -10.8ZM79.3 132.9L81.1 131.5L83.3 130.9L84.9 132.5L86.7 133.9L86.4 136.5L85.3 138.9L83.2 139.2L81.3 139.9L80.2 138.2L78.7 136.9L79.0 134.9ZM85.3 119.9L88.3 118.9L90.2 119.9L91.6 121.6L93.3 122.9L92.3 125.9L90.3 125.5L88.3 124.9L87.7 123.0L86.0 121.8ZM84.3 73.9L86.7 72.9L87.5 75.9L85.3 76.9ZM-19.7 150.9L-17.3 149.9L-16.1 152.3L-18.7 153.3ZM-16.7 101.9L-14.7 100.3L-13.7 102.3L-15.7 103.5ZM-186.7 121.9L-184.8 121.2L-183.1 120.3L-181.7 118.9L-179.6 117.6L-177.7 115.9L-175.6 115.2L-173.7 113.9L-172.4 112.3L-170.4 111.6L-169.3 109.9L-168.9 107.9L-168.1 106.0L-167.7 104.0L-167.7 101.9L-167.5 99.8L-166.4 98.0L-165.8 96.0L-165.7 93.9L-165.1 91.7L-163.8 89.8L-162.7 87.9L-161.2 86.4L-160.3 84.4L-158.7 82.9L-157.1 81.5L-156.2 79.4L-154.7 77.9L-152.5 76.1L-150.7 73.9L-149.5 72.1L-147.7 70.9L-149.7 68.9L-151.7 66.9L-154.3 67.0L-156.7 67.9L-159.1 67.7L-161.3 66.9L-161.2 64.4L-160.7 61.9L-159.2 59.9L-157.7 57.9L-158.4 55.9L-158.7 53.9L-157.0 52.0L-154.7 50.9L-152.9 48.7L-150.7 46.9L-149.3 44.7L-147.3 42.9L-146.3 40.7L-146.1 38.3L-145.7 35.9L-145.8 33.3L-146.7 30.9L-146.7 28.5L-145.8 26.3L-145.7 23.9L-145.1 21.3L-143.7 18.9L-142.2 19.9L-140.7 20.9L-139.1 19.0L-137.7 16.9L-135.3 15.8L-132.7 14.9L-130.5 14.2L-128.7 12.9L-127.7 10.9L-126.7 8.9L-129.7 9.9L-131.7 9.0L-133.6 7.9L-135.7 7.5L-137.6 8.4L-139.8 8.0L-141.7 8.9L-143.8 10.3L-145.7 11.9L-144.6 9.8L-143.3 7.9L-143.8 5.5L-145.1 3.3L-145.7 0.9L-146.5 -1.5L-148.0 -3.5L-149.3 -5.7L-151.4 -6.5L-153.2 -7.8L-155.3 -8.5L-157.3 -9.2L-159.4 -9.8L-161.2 -11.1L-163.3 -11.7L-165.5 -11.5L-167.5 -12.6L-169.7 -12.5L-171.5 -10.3L-173.7 -8.5L-175.8 -8.0L-178.0 -7.8L-180.0 -6.8L-182.1 -6.1L-182.9 -4.2L-183.2 -2.0L-183.6 0.1L-184.7 1.9L-185.1 4.1L-186.1 6.0L-187.4 7.9L-188.1 9.9L-188.9 12.3L-189.8 14.6L-190.7 16.9L-191.6 18.8L-191.3 21.0L-191.9 23.0L-192.7 24.9L-195.0 25.8L-197.0 27.3L-199.2 28.4L-201.7 28.9L-203.7 29.7L-205.6 30.6L-207.7 30.9L-209.6 32.7L-211.5 34.4L-213.7 35.9L-211.8 37.5L-209.7 38.9L-207.8 40.5L-205.7 41.9L-203.3 40.6L-200.7 39.9L-198.6 39.0L-196.7 37.9L-194.7 36.9L-192.8 36.2L-190.6 36.7L-188.7 35.9L-186.1 36.7L-183.7 37.9L-181.6 38.2L-179.6 38.8L-177.7 39.9L-175.6 39.0L-173.7 37.9L-171.5 36.9L-169.5 35.5L-167.7 33.9L-165.2 32.8L-162.7 31.9L-160.7 31.3L-158.8 30.8L-156.7 30.9L-154.2 31.5L-151.7 31.9L-149.7 31.5L-147.7 30.9M-187.7 113.9L-185.5 114.6L-183.5 115.6L-181.3 116.3L-179.4 116.9L-177.7 118.0L-175.7 118.3L-176.7 120.0L-177.3 121.9L-179.4 122.5L-181.6 122.2L-183.7 122.9L-186.4 122.3L-188.7 120.9L-188.3 118.6L-188.1 116.2ZM-205.7 31.9L-203.3 30.3L-201.7 32.9L-204.1 34.9ZM-186.7 33.9L-184.8 32.9L-182.7 32.3L-181.3 33.7L-180.7 35.5L-182.8 36.3L-184.7 37.5L-186.1 35.9ZM-152.7 27.9L-150.7 27.1L-148.7 26.3L-147.7 29.5L-149.8 29.8L-151.7 30.9ZM-150.7 18.9L-149.7 17.2L-148.1 15.9L-147.0 17.8L-146.5 19.9L-147.8 21.3L-148.9 22.9L-149.8 20.9ZM-141.7 20.9L-141.2 23.3L-140.7 25.7L-139.7 27.9L-139.8 30.5L-140.3 32.9L-140.7 35.4L-141.3 37.9L-140.7 40.3L-141.4 42.7L-141.2 45.1L-141.0 47.5L-140.7 49.9L-139.6 51.8L-139.8 54.0L-139.1 56.0L-138.3 57.9L-137.7 59.9L-136.5 58.0L-135.7 55.9L-134.7 53.9L-134.7 51.9L-134.6 49.9L-134.2 47.9L-133.7 45.9L-133.1 43.7L-131.8 41.8L-130.7 39.9L-130.6 41.9L-130.2 43.9L-129.7 45.9L-129.8 47.9L-129.4 49.9L-128.7 51.9L-128.7 53.9L-127.7 55.9L-126.6 57.9L-125.7 59.9L-124.4 58.0L-123.7 55.9L-122.7 53.9L-122.3 51.8L-121.2 49.9L-120.7 47.9L-119.5 49.7L-117.7 50.9L-117.8 53.3L-118.7 55.5L-118.7 57.9L-116.8 59.6L-115.7 61.9L-113.8 60.7L-111.7 59.9L-110.9 57.8L-109.5 56.0L-108.7 53.9L-108.5 51.8L-109.0 49.9L-109.6 47.9L-109.7 45.9L-110.7 43.7L-112.5 42.0L-113.7 39.9L-113.3 37.8L-112.0 36.0L-111.7 33.9L-113.6 32.8L-115.7 31.9L-117.8 32.7L-119.7 33.9L-122.2 33.2L-124.7 32.9L-127.0 31.5L-129.7 30.9L-131.7 29.4L-133.7 27.9L-134.4 25.7L-135.7 23.9L-137.6 22.7L-139.7 21.9M-144.7 12.9L-142.1 12.2L-139.7 10.9L-137.7 10.2L-135.6 9.8L-133.7 8.9L-131.7 9.6L-129.6 10.1L-127.7 10.9L-128.9 9.6L-129.7 7.9L-127.6 7.0L-125.7 5.9L-123.9 4.5L-121.7 3.9L-119.0 3.3L-116.7 1.9L-115.5 -0.3L-113.7 -2.1M-120.7 27.9L-119.0 26.0L-116.7 24.9L-114.9 26.7L-113.7 28.9L-115.5 30.6L-116.7 32.9L-118.4 32.5L-120.1 31.9L-120.8 30.0ZM-38.7 21.9L-36.0 22.5L-33.7 23.9L-31.5 24.5L-29.8 26.1L-27.7 26.9L-25.7 27.4L-23.7 27.8L-21.7 27.9L-19.3 29.1L-16.7 29.9L-14.9 31.6L-13.7 33.9L-14.8 35.9L-15.7 37.9L-17.6 39.5L-19.7 40.9L-19.0 42.6L-17.7 43.9L-15.6 43.2L-13.7 41.9L-12.1 43.2L-10.1 43.9L-10.5 46.1L-11.7 47.9L-13.3 49.7L-14.7 51.7L-15.7 53.9L-17.4 55.7L-18.0 58.1L-19.7 59.9L-20.4 62.0L-21.4 64.1L-22.7 65.9L-22.9 68.0L-24.4 69.8L-24.7 71.9L-26.0 73.4L-26.8 75.2L-27.7 76.9L-29.6 78.3L-31.1 80.1L-32.7 81.9L-33.9 83.7L-35.1 85.5L-36.7 86.9L-38.1 88.9L-40.2 90.1L-41.7 91.9L-43.6 93.2L-45.7 93.9L-43.7 95.9L-45.1 98.0L-46.7 99.9L-48.3 101.0L-49.8 102.3L-51.7 102.9L-53.7 103.5L-55.7 103.8L-57.7 103.9L-59.7 103.4L-61.7 103.4L-63.7 102.9L-65.6 103.7L-67.8 103.8L-69.7 104.9L-71.7 105.6L-73.8 105.9L-75.7 106.9L-77.7 106.1L-79.8 106.0L-81.7 104.9L-83.7 104.7L-85.7 104.3L-87.7 103.9L-89.4 105.7L-90.7 107.9L-93.1 109.0L-95.7 109.9L-98.3 110.7L-100.7 111.9L-102.2 113.4L-103.7 114.9L-105.2 116.1L-107.2 116.6L-108.7 117.9L-110.2 119.3L-112.2 119.6L-113.7 120.9L-115.0 119.0L-115.7 116.9L-117.0 114.7L-117.6 112.3L-118.1 109.9L-117.4 107.6L-116.7 105.3L-116.7 102.9L-116.2 100.4L-114.7 98.2L-113.7 95.9L-112.7 94.1L-111.4 92.5L-111.0 90.5L-109.7 88.9L-108.4 86.9L-107.2 84.8L-105.7 82.9L-103.8 81.5L-102.5 79.4L-100.7 77.9L-98.8 77.3L-97.5 75.7L-95.7 74.9L-93.3 74.1L-90.7 73.9L-88.2 73.6L-85.7 72.9L-84.2 70.9L-82.7 68.9L-84.4 68.2L-85.7 66.9L-88.2 67.3L-90.7 67.9L-90.0 66.2L-88.7 64.9L-86.6 64.2L-84.7 62.9L-83.1 61.5L-81.7 59.9L-79.5 58.1L-77.7 55.9L-76.3 54.3L-75.1 52.5L-73.7 50.9L-72.4 49.2L-71.1 47.5L-69.7 45.9L-68.7 44.0L-68.8 41.8L-67.7 39.9L-68.0 37.8L-69.5 36.1L-69.7 33.9L-69.7 31.9L-69.3 29.9L-68.7 27.9L-67.4 26.4L-66.7 24.6L-65.7 22.9L-63.8 21.5L-61.5 20.6L-59.7 18.9L-57.8 18.0L-55.7 17.5L-53.7 16.9L-51.7 17.2L-49.7 17.7L-47.7 17.9L-45.7 17.9L-44.0 19.0L-42.1 19.8L-40.4 20.7L-38.7 21.9M-56.7 126.9L-56.0 124.7L-54.7 122.9L-52.5 122.2L-50.7 120.9L-51.7 123.9L-49.2 123.6L-46.7 122.9L-44.2 123.6L-41.7 123.9L-39.6 123.9L-37.7 124.5L-35.7 124.9L-33.9 127.1L-31.7 128.9L-32.3 131.4L-32.7 133.9L-34.5 135.7L-36.7 136.9L-38.7 137.3L-40.8 137.2L-42.7 137.9L-44.6 138.7L-46.7 138.9L-48.9 137.6L-50.7 135.9L-52.3 135.1L-53.7 133.9L-54.5 132.3L-55.7 130.9L-55.9 128.8ZM-19.7 151.9L-17.7 150.7L-16.5 152.9L-18.7 153.9ZM-16.7 102.9L-14.7 101.5L-13.7 103.5L-15.7 104.7Z"/></g></g>
<line x1="859.7" y1="547.1999999999999" x2="859.7" y2="653.3" stroke="#fff" stroke-opacity="0.13" stroke-width="1"/>
<circle cx="859.7" cy="429.9" r="223.4" fill="none" stroke="#000" stroke-width="1.1"/>
<g clip-path="url(#clip2)"><path d="M380.0 915.0 L860.0 915.0 L860.0 1382.0 L380.0 1382.0Z" fill="#8c0000"/><path d="M506.0 965.0C506.9 963.7 520.5 954.3 523.0 953.0C525.5 951.7 540.3 946.1 543.0 945.0C545.7 943.9 560.3 937.9 563.0 937.0C565.7 936.1 581.3 931.9 583.0 932.0C584.7 932.1 588.8 937.8 589.0 939.0C589.2 940.2 586.9 949.5 586.0 950.0C585.1 950.5 576.5 947.5 575.0 947.0C573.5 946.5 564.5 942.1 563.0 942.0C561.5 941.9 554.3 944.3 553.0 945.0C551.7 945.7 544.2 951.9 543.0 953.0C541.8 954.1 536.3 959.8 535.0 961.0C533.7 962.2 524.3 969.5 523.0 971.0C521.7 972.5 515.9 982.9 515.0 983.0C514.1 983.1 509.6 974.2 509.0 973.0C508.4 971.8 505.1 966.3 506.0 965.0Z" fill="#ba2400"/><path d="M624.0 954.0C624.0 953.4 629.7 949.5 631.0 949.0C632.3 948.5 642.2 946.4 643.0 947.0C643.8 947.6 643.8 957.3 643.0 958.0C642.2 958.7 632.3 958.3 631.0 958.0C629.7 957.7 624.0 954.6 624.0 954.0Z" fill="#ba2400"/><clipPath id="cc1"><rect x="617" y="915" width="243" height="236"/></clipPath><g clip-path="url(#cc1)"><path d="M633.0 927.0C639.0 927.2 680.1 938.4 689.0 941.0C697.9 943.6 709.0 948.5 709.0 949.0C709.0 949.5 693.2 945.0 689.0 945.0C684.8 945.0 676.7 948.3 673.0 949.0C669.3 949.7 660.5 951.1 657.0 951.0C653.5 950.9 645.2 949.4 643.0 948.0C640.8 946.6 639.2 941.5 638.0 939.0C636.8 936.5 627.0 926.8 633.0 927.0Z" fill="#ba2400"/><path d="M625.0 954.0C625.5 953.0 631.2 949.7 633.0 949.0C634.8 948.3 639.4 947.0 640.0 948.0C640.6 949.0 639.3 956.8 638.0 958.0C636.7 959.2 630.5 958.5 629.0 958.0C627.5 957.5 624.5 955.0 625.0 954.0Z" fill="#ba2400"/><path d="M707.0 949.0C708.0 948.3 718.0 953.4 721.0 955.0C724.0 956.6 729.5 960.9 733.0 963.0C736.5 965.1 750.5 971.6 751.0 973.0C751.5 974.4 740.3 974.4 737.0 975.0C733.7 975.6 725.6 978.5 723.0 978.0C720.4 977.5 716.3 973.0 715.0 971.0C713.7 969.0 712.9 963.6 712.0 961.0C711.1 958.4 706.0 949.7 707.0 949.0Z" fill="#ba2400"/><path d="M721.0 958.0C721.9 957.8 728.7 960.8 731.0 962.0C733.3 963.2 741.2 967.5 741.0 968.0C740.8 968.5 731.1 967.1 729.0 966.6C726.9 966.1 723.9 964.4 723.0 963.4C722.1 962.4 720.1 958.2 721.0 958.0Z" fill="#e43400"/><path d="M808.0 1039.0C803.1 1040.9 810.0 1051.7 811.0 1055.0C812.0 1058.3 816.1 1064.0 817.0 1067.0C817.9 1070.0 819.5 1078.0 819.0 1081.0C818.5 1084.0 814.6 1091.4 813.0 1093.0C811.4 1094.6 805.7 1093.6 805.0 1095.0C804.3 1096.4 807.9 1103.0 807.0 1105.0C806.1 1107.0 799.5 1110.5 797.0 1112.0C794.5 1113.5 785.5 1116.7 786.0 1118.0C786.5 1119.3 797.9 1122.0 801.0 1123.0C804.1 1124.0 808.8 1126.2 813.0 1127.0C817.2 1127.8 832.3 1129.5 837.0 1130.0C841.7 1130.5 851.1 1141.6 853.0 1131.0C854.9 1120.4 858.2 1049.7 853.0 1039.0C847.8 1028.3 812.9 1037.1 808.0 1039.0Z" fill="#ba2400"/><path d="M823.0 1095.0C820.2 1096.2 829.5 1099.6 829.0 1101.0C828.5 1102.4 820.6 1105.4 819.0 1107.0C817.4 1108.6 815.7 1113.1 815.0 1115.0C814.3 1116.9 810.4 1121.8 813.0 1123.0C815.6 1124.2 832.3 1124.8 837.0 1125.0C841.7 1125.2 851.1 1129.0 853.0 1125.0C854.9 1121.0 856.5 1094.5 853.0 1091.0C849.5 1087.5 825.8 1093.8 823.0 1095.0Z" fill="#e43400"/><path d="M829.0 1112.0C830.5 1110.2 833.2 1107.8 836.0 1107.0C838.8 1106.2 851.0 1103.1 853.0 1105.0C855.0 1106.9 856.5 1121.0 853.0 1123.0C849.5 1125.0 825.8 1123.3 823.0 1122.0C820.2 1120.7 827.5 1113.8 829.0 1112.0Z" fill="#ff4e1a"/></g><clipPath id="cc2"><rect x="380" y="1151" width="237" height="231"/></clipPath><g clip-path="url(#cc2)"><path d="M413.0 1239.0C415.3 1236.2 423.7 1230.6 427.0 1229.0C430.3 1227.4 438.3 1224.8 441.0 1225.0C443.7 1225.2 449.3 1228.7 450.0 1231.0C450.7 1233.3 447.8 1242.0 447.0 1245.0C446.2 1248.0 443.9 1254.4 443.0 1257.0C442.1 1259.6 440.6 1266.1 439.0 1267.0C437.4 1267.9 431.1 1266.2 429.0 1265.0C426.9 1263.8 423.6 1258.4 421.0 1257.0C418.4 1255.6 407.9 1255.1 407.0 1253.0C406.1 1250.9 410.7 1241.8 413.0 1239.0Z" fill="#ba2400"/><path d="M507.0 1345.0C508.9 1337.3 518.8 1339.9 523.0 1339.0C527.2 1338.1 539.5 1338.2 543.0 1337.0C546.5 1335.8 550.2 1330.9 553.0 1329.0C555.8 1327.1 563.5 1322.4 567.0 1321.0C570.5 1319.6 579.7 1318.2 583.0 1317.0C586.3 1315.8 592.2 1312.4 595.0 1311.0C597.8 1309.6 604.4 1305.5 607.0 1305.0C609.6 1304.5 612.8 1306.8 617.0 1307.0C621.2 1307.2 640.0 1295.6 643.0 1307.0C646.0 1318.4 658.9 1393.6 643.0 1405.0C627.1 1416.4 522.9 1412.0 507.0 1405.0C491.1 1398.0 505.1 1352.7 507.0 1345.0Z" fill="#ba2400"/><path d="M543.0 1361.0C544.2 1355.2 550.7 1356.6 553.0 1355.0C555.3 1353.4 560.4 1348.6 563.0 1347.0C565.6 1345.4 571.7 1342.6 575.0 1341.0C578.3 1339.4 587.7 1334.6 591.0 1333.0C594.3 1331.4 600.0 1328.3 603.0 1327.0C606.0 1325.7 612.3 1322.6 617.0 1322.0C621.7 1321.4 640.0 1312.3 643.0 1322.0C646.0 1331.7 654.7 1395.3 643.0 1405.0C631.3 1414.7 554.7 1410.1 543.0 1405.0C531.3 1399.9 541.8 1366.8 543.0 1361.0Z" fill="#e43400"/><path d="M581.0 1382.0C581.5 1377.3 583.8 1368.4 585.0 1365.0C586.2 1361.6 589.1 1355.8 591.0 1353.0C592.9 1350.2 598.9 1343.1 601.0 1341.0C603.1 1338.9 606.7 1335.9 609.0 1335.0C611.3 1334.1 618.7 1332.1 621.0 1333.0C623.3 1333.9 626.4 1340.9 629.0 1343.0C631.6 1345.1 641.4 1343.8 643.0 1351.0C644.6 1358.2 650.2 1398.7 643.0 1405.0C635.8 1411.3 588.2 1407.7 581.0 1405.0C573.8 1402.3 580.5 1386.7 581.0 1382.0Z" fill="#ff4e1a"/></g><clipPath id="cc3"><rect x="617" y="1151" width="243" height="231"/></clipPath><g clip-path="url(#cc3)"><path d="M731.0 1173.0C732.8 1170.5 738.4 1171.8 741.0 1172.0C743.6 1172.2 749.7 1174.2 753.0 1175.0C756.3 1175.8 765.3 1177.8 769.0 1179.0C772.7 1180.2 781.3 1184.0 785.0 1185.0C788.7 1186.0 797.3 1187.8 801.0 1188.0C804.7 1188.2 813.3 1187.6 817.0 1187.0C820.7 1186.4 828.8 1183.9 833.0 1183.0C837.2 1182.1 850.7 1169.0 853.0 1179.0C855.3 1189.0 857.9 1259.0 853.0 1269.0C848.1 1279.0 816.8 1267.6 811.0 1265.0C805.2 1262.4 805.3 1250.3 803.0 1247.0C800.7 1243.7 793.6 1238.9 791.0 1237.0C788.4 1235.1 783.6 1231.3 781.0 1231.0C778.4 1230.7 770.3 1232.4 769.0 1234.0C767.7 1235.6 769.5 1242.3 770.0 1245.0C770.5 1247.7 773.8 1255.4 773.0 1257.0C772.2 1258.6 765.3 1260.4 763.0 1259.0C760.7 1257.6 754.6 1248.0 753.0 1245.0C751.4 1242.0 750.4 1236.0 749.0 1233.0C747.6 1230.0 741.0 1221.1 741.0 1219.0C741.0 1216.9 746.9 1215.7 749.0 1215.0C751.1 1214.3 758.1 1214.2 759.0 1213.0C759.9 1211.8 758.6 1206.4 757.0 1205.0C755.4 1203.6 747.8 1201.9 745.0 1201.0C742.2 1200.1 735.2 1197.9 733.0 1197.0C730.8 1196.1 726.2 1195.8 726.0 1193.0C725.8 1190.2 729.2 1175.5 731.0 1173.0Z" fill="#ba2400"/><path d="M777.0 1209.0C778.0 1207.1 783.1 1202.4 785.0 1201.0C786.9 1199.6 790.2 1197.2 793.0 1197.0C795.8 1196.8 805.5 1198.5 809.0 1199.0C812.5 1199.5 820.0 1200.5 823.0 1201.0C826.0 1201.5 831.5 1202.5 835.0 1203.0C838.5 1203.5 850.9 1197.8 853.0 1205.0C855.1 1212.2 857.7 1258.2 853.0 1265.0C848.3 1271.8 818.4 1264.4 813.0 1263.0C807.6 1261.6 808.4 1255.6 807.0 1253.0C805.6 1250.4 802.6 1243.3 801.0 1241.0C799.4 1238.7 795.3 1234.9 793.0 1233.0C790.7 1231.1 783.0 1226.9 781.0 1225.0C779.0 1223.1 776.5 1218.9 776.0 1217.0C775.5 1215.1 776.0 1210.9 777.0 1209.0Z" fill="#e43400"/><path d="M791.0 1217.0C791.2 1215.4 793.4 1211.9 795.0 1211.0C796.6 1210.1 802.2 1209.0 805.0 1209.0C807.8 1209.0 815.7 1210.5 819.0 1211.0C822.3 1211.5 829.0 1212.5 833.0 1213.0C837.0 1213.5 850.7 1209.9 853.0 1215.0C855.3 1220.1 857.7 1252.3 853.0 1257.0C848.3 1261.7 818.1 1256.4 813.0 1255.0C807.9 1253.6 810.4 1247.6 809.0 1245.0C807.6 1242.4 802.9 1235.3 801.0 1233.0C799.1 1230.7 794.2 1226.9 793.0 1225.0C791.8 1223.1 790.8 1218.6 791.0 1217.0Z" fill="#ff4e1a"/><path d="M803.0 1229.0C802.8 1226.7 807.1 1223.9 809.0 1223.0C810.9 1222.1 816.7 1221.0 819.0 1221.0C821.3 1221.0 825.0 1222.5 829.0 1223.0C833.0 1223.5 850.2 1221.5 853.0 1225.0C855.8 1228.5 857.4 1250.0 853.0 1253.0C848.6 1256.0 819.9 1252.2 815.0 1251.0C810.1 1249.8 812.4 1245.6 811.0 1243.0C809.6 1240.4 803.2 1231.3 803.0 1229.0Z" fill="#ff7842"/><path d="M809.0 1233.0C808.8 1230.8 813.1 1228.5 815.0 1228.0C816.9 1227.5 820.6 1228.4 825.0 1229.0C829.4 1229.6 849.7 1230.7 853.0 1233.0C856.3 1235.3 857.2 1247.4 853.0 1249.0C848.8 1250.6 822.1 1248.9 817.0 1247.0C811.9 1245.1 809.2 1235.2 809.0 1233.0Z" fill="#ffa882"/><path d="M689.0 1251.0C690.6 1249.4 701.7 1247.2 705.0 1247.0C708.3 1246.8 714.2 1247.8 717.0 1249.0C719.8 1250.2 726.7 1255.1 729.0 1257.0C731.3 1258.9 735.1 1263.1 737.0 1265.0C738.9 1266.9 742.7 1271.6 745.0 1273.0C747.3 1274.4 754.2 1276.1 757.0 1277.0C759.8 1277.9 766.2 1280.1 769.0 1281.0C771.8 1281.9 778.9 1283.6 781.0 1285.0C783.1 1286.4 787.0 1290.7 787.0 1293.0C787.0 1295.3 782.9 1302.2 781.0 1305.0C779.1 1307.8 773.3 1314.9 771.0 1317.0C768.7 1319.1 762.6 1323.7 761.0 1323.0C759.4 1322.3 757.9 1313.6 757.0 1311.0C756.1 1308.4 753.9 1302.9 753.0 1301.0C752.1 1299.1 751.3 1295.7 749.0 1295.0C746.7 1294.3 736.3 1295.9 733.0 1295.0C729.7 1294.1 723.3 1289.1 721.0 1287.0C718.7 1284.9 715.3 1279.3 713.0 1277.0C710.7 1274.7 703.6 1268.9 701.0 1267.0C698.4 1265.1 692.4 1262.9 691.0 1261.0C689.6 1259.1 687.4 1252.6 689.0 1251.0Z" fill="#ba2400"/><path d="M705.0 1253.0C705.9 1251.6 712.9 1252.3 715.0 1253.0C717.1 1253.7 721.4 1257.1 723.0 1259.0C724.6 1260.9 728.5 1267.1 729.0 1269.0C729.5 1270.9 728.4 1274.5 727.0 1275.0C725.6 1275.5 719.3 1274.2 717.0 1273.0C714.7 1271.8 708.4 1267.3 707.0 1265.0C705.6 1262.7 704.1 1254.4 705.0 1253.0Z" fill="#e43400"/><path d="M755.0 1291.0C756.2 1289.6 766.2 1292.1 769.0 1293.0C771.8 1293.9 778.5 1297.1 779.0 1299.0C779.5 1300.9 774.9 1306.9 773.0 1309.0C771.1 1311.1 764.6 1317.5 763.0 1317.0C761.4 1316.5 759.9 1308.0 759.0 1305.0C758.1 1302.0 753.8 1292.4 755.0 1291.0Z" fill="#e43400"/><path d="M583.0 1305.0C585.6 1293.3 601.0 1304.8 605.0 1305.0C609.0 1305.2 613.7 1306.3 617.0 1307.0C620.3 1307.7 630.0 1310.3 633.0 1311.0C636.0 1311.7 640.7 1313.2 643.0 1313.0C645.3 1312.8 650.4 1309.9 653.0 1309.0C655.6 1308.1 663.1 1306.6 665.0 1305.0C666.9 1303.4 667.8 1296.4 669.0 1295.0C670.2 1293.6 673.6 1292.3 675.0 1293.0C676.4 1293.7 679.4 1299.6 681.0 1301.0C682.6 1302.4 687.8 1303.1 689.0 1305.0C690.2 1306.9 691.0 1314.2 691.0 1317.0C691.0 1319.8 688.8 1326.7 689.0 1329.0C689.2 1331.3 691.6 1335.4 693.0 1337.0C694.4 1338.6 698.2 1341.8 701.0 1343.0C703.8 1344.2 713.3 1346.8 717.0 1347.0C720.7 1347.2 728.8 1346.6 733.0 1345.0C737.2 1343.4 750.7 1326.0 753.0 1333.0C755.3 1340.0 772.8 1396.6 753.0 1405.0C733.2 1413.4 602.8 1416.7 583.0 1405.0C563.2 1393.3 580.4 1316.7 583.0 1305.0Z" fill="#ba2400"/><path d="M583.0 1321.0C585.8 1311.3 602.8 1321.8 607.0 1322.0C611.2 1322.2 616.4 1322.4 619.0 1323.0C621.6 1323.6 627.4 1325.6 629.0 1327.0C630.6 1328.4 631.4 1333.8 633.0 1335.0C634.6 1336.2 640.7 1337.2 643.0 1337.0C645.3 1336.8 651.1 1334.2 653.0 1333.0C654.9 1331.8 657.6 1327.2 659.0 1327.0C660.4 1326.8 663.4 1329.8 665.0 1331.0C666.6 1332.2 671.1 1335.4 673.0 1337.0C674.9 1338.6 679.4 1342.0 681.0 1345.0C682.6 1348.0 686.3 1356.0 687.0 1363.0C687.7 1370.0 699.1 1400.1 687.0 1405.0C674.9 1409.9 595.1 1414.8 583.0 1405.0C570.9 1395.2 580.2 1330.7 583.0 1321.0Z" fill="#e43400"/><path d="M583.0 1333.0C585.6 1324.4 601.0 1331.1 605.0 1331.0C609.0 1330.9 614.4 1331.1 617.0 1332.0C619.6 1332.9 625.4 1337.0 627.0 1339.0C628.6 1341.0 629.8 1346.9 631.0 1349.0C632.2 1351.1 635.6 1355.1 637.0 1357.0C638.4 1358.9 642.3 1359.4 643.0 1365.0C643.7 1370.6 650.0 1400.3 643.0 1405.0C636.0 1409.7 590.0 1413.4 583.0 1405.0C576.0 1396.6 580.4 1341.6 583.0 1333.0Z" fill="#ff4e1a"/></g><circle cx="616.7" cy="1151.1" r="117.3" fill="#fff"/><path d="M629.0 1265.0L641.0 1265.0L642.0 1283.0L631.0 1284.4Z" fill="#fff"/></g>
<g clip-path="url(#clip2)"><g transform="translate(616.7,1151.1)" fill="none" stroke="#000" stroke-width="1.9" stroke-linejoin="round" stroke-linecap="round"><path d="M-183.7 -127.1L-182.4 -128.8L-181.0 -130.4L-179.3 -131.7L-177.4 -132.5L-175.8 -133.9L-173.7 -134.5L-172.7 -132.1L-174.4 -131.1L-176.0 -130.0L-177.7 -129.1L-179.7 -127.4L-182.1 -126.5ZM-173.7 -130.7L-171.7 -131.0L-169.8 -131.8L-167.7 -131.7L-165.7 -131.9L-163.6 -132.7L-161.5 -133.0L-159.3 -132.9L-156.5 -132.5L-153.7 -131.9L-152.0 -130.5L-149.8 -130.1L-148.1 -128.7L-146.0 -127.0L-144.3 -124.9L-141.8 -125.8L-139.3 -126.9L-136.6 -126.8L-134.1 -127.5L-131.7 -126.4L-129.3 -125.5L-126.8 -125.7L-124.2 -125.2L-121.7 -125.7L-119.0 -126.1L-116.4 -125.2L-113.7 -125.5L-111.6 -125.6L-109.4 -125.6L-107.3 -125.1L-105.5 -126.4L-103.4 -127.3L-101.3 -128.1L-99.2 -128.7L-97.4 -130.3L-95.3 -130.9L-93.3 -131.4L-91.3 -131.8L-89.3 -132.5L-87.0 -133.7L-84.5 -134.7L-83.5 -136.6L-82.5 -138.5L-83.5 -140.7L-83.7 -143.1L-82.9 -145.4L-81.3 -147.3L-78.5 -147.9L-77.2 -145.9L-76.5 -143.7L-77.2 -140.9L-77.5 -138.1L-78.7 -134.9L-77.3 -137.3L-75.7 -139.7L-75.5 -141.9L-74.8 -144.0L-74.5 -146.1L-74.9 -148.1L-75.5 -150.1L-75.7 -152.1L-74.8 -154.0L-74.2 -156.0L-73.7 -158.1L-73.6 -160.2L-72.8 -162.1L-72.5 -164.1L-71.8 -166.1L-70.8 -168.0L-70.5 -170.1L-69.3 -172.0L-68.7 -174.2L-67.5 -176.1L-65.2 -177.8L-63.5 -180.1L-61.8 -182.2L-59.5 -183.7L-57.5 -185.2L-55.5 -186.5L-53.9 -187.3L-52.5 -188.5L-51.5 -187.5L-52.8 -185.8L-54.5 -184.5L-56.5 -182.8L-58.5 -181.1L-59.8 -178.8L-61.9 -177.1L-63.3 -174.7L-64.5 -172.1L-65.2 -170.2L-65.5 -168.1L-65.9 -166.1L-66.6 -163.6L-66.5 -161.1L-64.9 -160.2L-63.5 -158.9L-61.4 -159.5L-59.5 -160.5L-57.5 -161.0L-55.5 -161.7L-54.1 -160.2L-52.5 -158.9L-50.5 -158.4L-48.5 -157.9L-46.7 -156.6L-44.5 -155.9L-42.8 -154.0L-40.5 -152.9L-39.5 -150.9L-38.5 -148.9L-39.0 -146.5L-39.1 -144.1L-39.9 -142.2L-41.5 -140.9L-43.1 -139.6L-44.5 -138.1L-45.6 -136.6L-46.5 -134.9L-45.9 -132.7L-44.5 -130.9L-42.4 -131.2L-40.5 -132.1L-38.6 -133.1L-36.5 -133.7L-34.5 -133.2L-32.5 -132.5L-31.1 -131.1L-29.5 -129.9L-28.5 -128.2L-28.5 -126.3L-30.0 -125.3L-31.5 -124.3L-33.5 -123.8L-35.5 -123.9L-37.4 -122.7L-39.5 -122.3L-38.6 -120.7L-38.5 -118.9L-36.7 -117.2L-34.5 -115.9L-32.3 -115.2L-30.5 -113.9L-28.9 -113.1L-27.5 -111.9L-28.4 -109.9L-29.5 -107.9L-31.3 -106.1L-32.5 -103.9L-32.6 -101.3L-33.5 -98.9L-35.0 -97.4L-36.5 -95.9L-38.0 -93.9L-39.5 -91.9L-41.4 -92.8L-43.5 -92.9L-45.6 -92.2L-47.5 -90.9L-49.6 -90.6L-51.4 -89.4L-53.5 -88.9L-55.5 -88.2L-57.5 -87.4L-59.5 -86.9L-61.6 -86.6L-63.6 -86.0L-65.5 -84.9L-67.4 -83.9L-69.4 -83.3L-71.5 -82.9L-73.5 -82.3L-75.5 -82.0L-77.5 -81.9L-78.5 -79.9L-79.5 -77.9L-80.1 -75.4L-80.5 -72.9L-81.3 -70.8L-82.5 -68.9L-83.6 -67.0L-85.5 -65.9L-87.0 -64.8L-88.5 -63.9L-89.4 -61.8L-90.5 -59.9L-92.0 -58.8L-93.5 -57.5M-132.7 -124.1L-130.3 -123.2L-127.7 -123.1L-126.1 -121.9L-124.4 -121.1L-122.7 -120.1L-124.1 -121.2L-125.7 -122.1L-128.2 -122.5L-130.7 -122.5ZM-145.7 -127.1L-143.6 -127.0L-141.7 -126.1L-139.9 -124.7L-137.7 -124.1L-139.4 -124.8L-141.3 -124.9L-143.3 -126.3ZM-81.7 -161.7L-79.8 -162.4L-78.1 -163.7L-77.4 -161.4L-76.9 -159.1L-77.6 -157.3L-78.1 -155.3L-79.3 -153.7L-80.6 -155.0L-82.1 -156.1L-82.3 -158.9ZM-47.3 -193.7L-45.8 -196.2L-43.7 -198.1L-42.4 -199.8L-41.0 -201.3L-39.3 -202.5L-38.7 -200.5L-40.6 -198.4L-42.7 -196.5L-44.1 -194.3L-46.1 -192.7ZM-21.1 -208.1L-18.7 -210.5M-13.7 -211.7L-11.3 -212.1M-8.1 -212.1L-6.5 -210.9M-41.3 -158.5L-39.9 -159.7L-38.1 -160.1L-35.3 -158.5L-38.1 -156.5L-39.9 -157.2ZM-28.7 -142.5L-26.3 -143.5L-23.7 -143.7L-22.0 -143.0L-20.5 -142.1L-22.4 -140.9L-24.7 -140.5L-26.5 -141.8ZM-116.7 -70.1L-115.1 -71.2L-113.7 -72.5L-112.2 -71.0L-111.3 -69.1L-110.2 -71.2L-108.7 -73.1L-106.7 -72.1L-106.9 -70.1L-107.2 -68.1L-107.7 -66.1L-107.9 -64.0L-109.1 -62.2L-109.3 -60.1L-110.6 -62.4L-112.7 -64.1L-115.7 -63.1L-116.1 -65.4L-116.4 -67.8ZM-145.3 -66.1L-143.6 -68.4L-141.3 -70.1L-140.1 -68.2L-139.7 -66.1L-138.1 -65.0L-136.7 -63.7L-138.0 -61.7L-139.7 -60.1L-139.7 -58.0L-138.7 -56.2L-138.7 -54.1L-138.7 -51.9L-140.1 -49.9L-140.1 -47.7L-140.7 -49.5L-141.8 -51.2L-142.1 -53.1L-142.3 -55.1L-143.0 -57.1L-142.7 -59.1L-144.0 -60.6L-145.3 -62.1L-144.8 -64.1ZM-162.1 -60.1L-159.7 -61.7L-159.2 -59.7L-158.3 -57.9L-157.3 -56.1L-158.1 -53.5L-159.3 -51.1L-161.7 -49.1L-161.9 -51.3L-162.2 -53.5L-161.7 -55.7L-162.0 -57.9ZM-181.3 -40.5L-179.1 -39.5L-176.7 -39.1L-174.9 -38.2L-173.2 -37.3L-171.7 -36.1L-173.7 -34.7L-176.1 -36.2L-178.7 -37.1L-179.6 -39.1ZM-220.7 -32.1L-218.2 -32.8L-215.9 -33.8L-213.7 -35.1L-211.6 -35.4L-209.6 -36.2L-207.8 -37.3L-205.7 -37.7L-203.7 -37.9L-201.7 -38.1L-202.7 -35.1L-205.0 -34.1L-207.2 -32.9L-209.7 -32.5L-211.5 -31.3L-213.6 -30.7L-215.7 -30.1L-218.3 -30.9ZM-218.7 -25.1L-216.3 -25.9L-213.9 -26.7L-211.7 -28.1L-209.7 -28.8L-207.6 -28.9L-205.6 -29.4L-203.7 -30.5L-201.1 -30.3L-198.7 -31.1L-199.3 -28.1L-201.4 -27.2L-203.4 -26.3L-205.5 -25.6L-207.7 -25.1L-209.9 -23.9L-212.3 -23.1L-214.7 -22.5L-216.6 -23.9ZM-190.7 21.9L-189.8 20.0L-189.4 18.0L-189.2 15.9L-188.7 13.9L-187.8 12.0L-186.8 10.0L-186.7 7.7L-185.4 6.0L-184.7 3.9L-183.7 1.5L-183.1 -1.0L-182.5 -3.5L-182.1 -6.1L-180.0 -6.9L-178.0 -7.9L-175.7 -8.1L-173.7 -9.1L-171.8 -11.2L-169.7 -13.1L-167.7 -12.5L-165.8 -12.0L-163.7 -12.1L-161.7 -11.4L-159.7 -10.7L-157.9 -9.4L-155.7 -9.1L-153.8 -7.9L-151.6 -7.4L-149.7 -6.1L-148.4 -4.5L-147.4 -2.8L-147.1 -0.6L-145.7 0.9L-144.2 2.2L-142.2 2.6L-140.7 3.9L-139.2 5.2L-137.6 6.3L-135.7 6.9L-133.8 8.0L-131.6 8.8L-129.7 9.9L-128.1 10.9L-126.2 11.6L-124.7 12.9L-123.5 11.5L-121.7 10.9L-119.8 9.2L-118.7 6.9L-115.7 5.9M24.3 -159.1L22.2 -158.5L20.3 -157.6L18.1 -157.3L16.3 -156.1L14.0 -154.8L11.5 -154.0L9.3 -152.5L6.8 -151.9L4.7 -150.4L2.3 -149.7L1.7 -147.8L0.7 -146.1L2.2 -144.2L3.3 -142.1L4.5 -140.2L5.3 -138.1L3.6 -137.2L2.1 -135.9L0.3 -135.1L-0.6 -133.6L-1.7 -132.1L-0.8 -130.2L-0.7 -128.1L-2.0 -129.4L-3.7 -130.1L-4.8 -132.0L-5.7 -134.1L-7.7 -134.9L-9.7 -135.8L-11.7 -136.5L-14.2 -137.2L-16.7 -137.1L-17.6 -134.6L-18.7 -132.1L-20.5 -130.4L-21.7 -128.1L-20.2 -126.6L-18.7 -125.1L-16.2 -124.1L-13.7 -123.1L-11.7 -122.1L-9.5 -121.5L-7.7 -120.1L-5.7 -118.1L-3.7 -116.1L-1.5 -114.9L0.3 -113.1L2.5 -112.5L4.2 -110.8L6.3 -110.1L8.4 -109.7L10.3 -108.8L12.3 -108.1L14.7 -106.9L17.3 -106.1L18.8 -107.1L20.3 -108.1L19.3 -111.1L22.3 -112.1L23.5 -110.2L24.3 -108.1M-4.7 -100.1L-3.2 -101.1L-1.7 -102.1L0.1 -101.5L1.9 -101.1L0.3 -98.5L-1.5 -98.6L-3.3 -98.1ZM-93.5 -57.5L-94.7 -56.2L-96.4 -55.5L-98.2 -54.2L-99.9 -52.9L-101.3 -51.0L-103.0 -49.4L-104.6 -48.0L-106.5 -46.9L-108.0 -45.8L-109.1 -44.3L-110.1 -42.1L-111.1 -39.8L-111.7 -37.8L-112.1 -35.8L-113.1 -33.8L-113.6 -31.7L-115.0 -29.9L-115.6 -27.7L-116.9 -25.6L-118.2 -23.6L-119.3 -22.2L-120.2 -20.6L-122.0 -19.1L-123.7 -17.5M-123.7 -10.0L-121.7 -11.2L-119.6 -12.2L-117.7 -13.5L-115.7 -14.5L-113.6 -15.5L-111.6 -17.5L-108.5 -16.5L-109.6 -15.0L-110.6 -13.5L-109.0 -12.5L-107.5 -11.5L-105.7 -10.3L-103.5 -10.0L-101.6 -8.3L-99.4 -6.9L-97.8 -5.8L-95.9 -5.4L-92.9 -6.4L-89.8 -6.4L-86.8 -5.4L-87.0 -3.3L-86.3 -1.4L-88.3 1.2L-90.5 0.1L-92.4 -1.4L-95.4 -2.9L-97.2 -2.2L-98.9 -1.4L-100.9 -0.7L-102.5 0.7L-104.2 2.0L-105.5 3.7L-106.2 5.4L-107.5 6.7L-107.4 8.8L-108.0 10.8L-107.2 12.8L-106.5 14.8L-106.6 17.0L-107.5 18.9L-106.3 20.8L-105.5 22.9L-106.4 24.7L-108.0 26.0L-109.4 27.9L-110.6 30.0L-111.6 32.0L-112.1 34.1L-113.8 33.4L-115.6 33.5L-117.0 34.6L-118.7 35.1L-121.2 35.4L-123.7 36.1M-86.3 -54.0L-83.7 -54.3L-81.2 -55.0L-79.1 -54.6L-77.2 -53.5L-76.5 -51.5L-75.2 -49.9L-73.4 -48.3L-71.1 -47.4L-71.1 -45.1L-71.6 -42.8L-73.2 -41.6L-74.2 -39.8L-77.2 -38.3L-80.2 -36.8L-81.7 -39.8L-82.3 -41.5L-82.8 -43.3L-83.8 -44.8L-84.8 -46.4L-85.4 -48.4L-86.8 -49.9L-86.2 -51.9ZM-108.0 -44.3L-106.2 -45.9L-104.0 -46.9L-101.5 -47.5L-98.9 -47.9L-96.4 -45.9L-96.9 -43.9L-97.4 -41.8L-95.4 -39.8L-94.0 -42.1L-92.4 -44.3L-91.0 -45.6L-89.3 -46.4L-86.8 -45.4L-84.8 -42.8L-83.6 -41.1L-82.8 -39.3L-83.3 -36.3L-86.3 -34.7L-86.8 -33.0L-86.8 -31.2L-88.3 -28.7L-87.3 -26.1L-85.7 -25.2L-84.8 -23.6L-85.8 -21.1L-88.3 -22.6L-91.4 -24.1L-93.4 -24.4L-95.4 -24.6L-97.4 -24.3L-99.4 -24.1L-100.9 -22.5L-103.0 -21.6L-104.1 -20.2L-105.5 -19.1L-108.5 -20.6L-109.4 -22.2L-110.6 -23.6L-110.3 -25.4L-110.1 -27.2L-109.7 -29.1L-108.5 -30.7L-108.3 -32.8L-109.1 -34.7L-108.5 -36.7L-108.5 -38.8L-109.1 -41.8ZM-99.9 -15.0L-97.8 -16.1L-96.4 -18.0L-94.5 -18.9L-92.4 -19.1L-90.7 -18.5L-89.3 -17.5L-87.5 -16.9L-86.3 -15.5L-86.3 -13.5L-85.8 -11.5L-88.3 -9.4L-90.4 -9.5L-92.4 -10.0L-94.3 -9.3L-96.4 -9.4L-97.7 -10.6L-98.9 -12.0ZM-92.9 -5.4L-91.0 -5.5L-89.3 -6.4L-86.3 -5.4L-86.6 -3.4L-86.3 -1.4L-88.3 1.2L-90.0 0.1L-91.4 -1.4L-92.5 -3.3ZM-116.1 -14.5L-114.1 -15.7L-112.6 -17.5L-110.9 -16.4L-109.1 -15.5L-110.6 -12.5L-112.4 -11.9L-114.1 -11.0L-115.5 -12.5ZM-78.2 -31.2L-77.0 -32.8L-75.2 -33.7L-73.3 -34.6L-71.6 -35.8L-69.9 -36.6L-68.1 -37.3L-66.1 -35.8L-67.1 -32.7L-68.4 -31.3L-70.1 -30.7L-73.1 -29.2L-75.7 -28.2L-74.2 -25.6L-72.2 -24.9L-70.1 -25.1L-67.1 -23.6L-69.1 -21.6L-71.1 -21.5L-73.1 -21.1L-76.2 -21.6L-77.7 -24.6L-77.2 -27.7L-77.4 -29.5ZM-65.0 -38.3L-63.5 -40.8L-61.0 -40.8L-59.9 -38.4L-59.5 -35.8L-60.1 -33.5L-60.0 -31.2L-62.5 -29.7L-64.0 -32.7L-64.9 -35.4ZM-78.7 -15.5L-76.9 -15.7L-75.2 -16.5L-73.4 -16.0L-71.6 -15.5L-71.2 -13.8L-71.1 -12.0L-73.1 -10.0L-74.9 -10.1L-76.7 -10.0L-78.7 -12.0L-78.3 -13.8ZM-63.0 -25.6L-60.0 -27.2L-58.6 -26.1L-57.5 -24.6L-57.4 -22.6L-58.0 -20.6L-60.5 -19.6L-62.5 -22.1L-62.7 -23.9ZM-62.0 -13.5L-60.4 -14.5L-58.5 -15.0L-55.4 -15.0L-55.3 -13.2L-55.9 -11.5L-57.3 -10.2L-59.0 -9.4L-61.5 -10.5ZM-82.2 -6.4L-79.2 -7.9L-77.2 -5.9L-79.2 -3.9L-81.7 -4.2ZM-67.6 -6.4L-65.6 -7.4L-64.9 -5.5L-65.0 -3.4L-66.6 -1.4L-67.9 -3.9ZM-74.2 -5.4L-71.6 -6.4L-71.1 -3.9L-73.1 -1.4L-74.4 -3.4ZM-78.2 -19.1L-76.2 -19.6L-74.2 -19.6L-72.1 -19.3L-70.1 -18.6L-72.1 -17.9L-74.2 -17.5L-76.1 -18.5ZM-68.6 -16.5L-65.0 -17.0L-64.0 -16.0L-67.6 -15.5ZM-64.5 -0.3L-62.9 -1.5L-61.0 -2.4L-59.0 -2.6L-57.0 -2.9L-55.0 -3.5L-52.9 -3.4L-50.8 -2.8L-48.9 -1.9L-50.9 0.2L-50.9 2.1L-51.9 3.7L-54.9 4.7L-58.0 4.2L-61.0 5.2L-63.5 3.2L-64.2 1.5ZM-83.8 -0.3L-81.2 -1.4L-78.2 -0.3L-77.2 2.7L-77.2 4.8L-78.2 6.7L-77.9 8.8L-77.2 10.8L-78.0 12.5L-78.7 14.3L-81.2 14.8L-82.8 11.8L-83.4 9.8L-83.3 7.7L-83.7 5.7L-84.1 3.7L-83.5 1.7ZM-74.2 3.7L-71.1 2.2L-69.4 2.9L-68.1 4.2L-66.7 5.5L-65.0 6.2L-63.0 5.9L-61.0 5.7L-59.0 5.2L-57.0 4.7L-54.9 4.5L-52.9 3.7L-51.8 5.1L-50.9 6.7L-50.2 8.8L-49.4 10.8L-48.5 8.8L-47.9 6.7L-47.1 4.8L-47.3 2.7L-48.9 -0.3L-45.8 0.2L-43.7 1.8L-41.8 3.7L-40.0 5.9L-37.7 7.7L-36.6 10.3L-35.2 12.8L-35.6 15.3L-35.7 17.9L-37.2 20.9L-39.0 21.5L-40.8 21.9L-43.8 21.4L-46.8 19.9L-47.7 21.5L-48.9 22.9L-51.9 24.4L-54.9 22.9L-56.3 21.7L-57.0 19.9L-59.1 19.8L-61.0 18.9L-62.7 18.3L-64.0 16.9L-67.1 15.8L-69.0 15.1L-71.1 14.8L-72.3 13.4L-73.1 11.8L-74.0 9.8L-74.2 7.7L-74.6 5.7ZM-108.5 8.8L-106.3 7.0L-104.5 4.7L-101.8 4.0L-99.4 2.7L-96.9 3.1L-94.4 3.2L-91.8 4.3L-89.3 5.7L-87.8 7.6L-86.8 9.8L-86.3 12.3L-86.3 14.8L-86.8 17.4L-87.3 19.9L-88.6 21.6L-90.3 22.9L-91.3 25.0L-92.4 27.0L-93.2 28.6L-94.4 30.0L-95.8 31.8L-96.4 34.1L-97.8 36.4L-98.4 39.1L-99.5 40.6L-100.5 42.1L-103.5 43.2L-106.5 44.2L-109.6 45.2L-110.8 43.3L-111.6 41.1L-110.2 39.3L-109.6 37.1L-110.8 35.7L-111.6 34.1L-110.7 32.0L-109.6 30.0L-109.0 28.0L-107.6 26.5L-106.5 24.9L-107.5 22.9L-108.5 20.9L-108.7 18.9L-109.2 16.9L-109.1 14.8L-108.9 12.8L-109.2 10.8ZM-98.9 8.8L-95.4 6.7L-91.4 7.2L-88.3 9.8M-95.4 14.8L-92.4 13.8L-89.3 14.8M-92.4 17.9L-89.8 16.3L-87.3 17.9L-87.8 20.9L-90.3 21.9L-92.2 20.4ZM-122.7 -5.4L-120.8 -6.1L-118.7 -6.4L-116.9 -5.7L-115.6 -4.4L-116.6 -2.8L-117.7 -1.4L-115.9 -0.7L-114.6 0.7L-115.2 2.5L-116.6 3.7L-119.7 4.7L-121.1 5.9L-122.7 6.7M-120.2 29.5L-117.7 28.0L-115.1 30.0L-116.1 33.0L-119.2 33.5L-120.0 31.6ZM-23.7 -142.1L-21.7 -141.0L-19.7 -140.1L-18.2 -138.1L-16.7 -136.1L-17.9 -134.2L-18.7 -132.1L-20.3 -130.2L-21.7 -128.1L-19.8 -126.6L-17.9 -125.1L-15.7 -124.1L-13.6 -122.7L-11.6 -121.2L-10.0 -119.2L-7.7 -118.1L-5.5 -116.9L-3.8 -114.9L-1.8 -113.5L0.3 -112.1L2.5 -111.5L4.2 -109.8L6.1 -108.7L8.3 -108.1L10.3 -107.5L12.2 -106.9L14.2 -106.3L16.3 -106.1L17.5 -108.3L19.3 -110.1L20.3 -108.6L21.3 -107.1L23.8 -106.1L26.3 -105.1L28.2 -104.0L30.2 -103.3L32.2 -102.5L34.3 -102.1L35.2 -100.1L36.3 -98.1L38.0 -95.8L40.3 -94.1L42.2 -92.9L44.2 -91.9L46.3 -91.1L47.6 -88.7L48.3 -86.1L49.7 -84.7L50.6 -83.0L51.3 -81.1L52.7 -79.5L54.3 -78.0L55.3 -76.1L56.6 -74.4L58.3 -73.1L60.3 -74.6L62.3 -76.1L64.2 -75.0L66.3 -74.1L68.2 -72.7L70.2 -71.3L72.3 -70.1L74.0 -68.8L75.9 -67.8L77.3 -66.1L76.5 -64.2L76.3 -62.1L74.2 -61.3L72.3 -60.1L71.8 -57.6L71.3 -55.1L72.8 -53.1L74.3 -51.1L75.7 -49.0L77.3 -47.1L78.4 -45.2L78.4 -43.0L79.3 -41.1L79.9 -39.1L80.4 -37.2L80.3 -35.1L79.5 -33.0L78.3 -31.1L80.2 -29.4L82.3 -28.1L84.0 -27.3L85.3 -26.1L82.9 -27.3L80.3 -28.1L78.4 -28.9L76.3 -28.8L74.3 -29.1L71.8 -28.0L69.3 -27.1L68.3 -25.4L67.1 -23.9L66.3 -22.1L66.5 -19.5L67.3 -17.1L66.2 -15.7L65.3 -14.1L67.7 -13.0L70.3 -12.1L72.0 -10.3L73.3 -8.3L74.3 -6.1L75.2 -4.2L75.4 -2.0L76.3 -0.1L78.4 1.8L80.3 3.9L81.9 5.0L83.9 5.5L85.3 6.9L86.4 8.8L86.9 10.8L87.3 12.9L89.3 13.6L91.3 13.9L93.4 13.1L95.3 11.9L96.3 14.9L94.7 16.8L93.3 18.9L92.5 20.5L91.3 21.9M-23.7 -127.1L-21.7 -128.1L-19.7 -129.1L-17.7 -130.1L-15.7 -131.5L-13.9 -133.1L-11.7 -134.1L-9.9 -132.5L-7.5 -131.9L-6.0 -129.9L-3.7 -129.1L-0.7 -130.1L0.7 -131.9L0.9 -134.3L2.3 -136.1L1.9 -138.1L1.9 -140.2L1.3 -142.1L2.0 -144.1L1.6 -146.1L1.9 -148.1L3.9 -149.3L6.0 -150.4L8.3 -151.1L10.5 -151.7L12.2 -153.4L14.3 -154.0L16.3 -155.1L18.5 -156.4L21.0 -157.1L23.3 -158.1L25.2 -158.7L26.4 -160.4L28.3 -161.1L30.2 -160.1L32.3 -159.8L34.3 -159.1L36.4 -159.2L38.3 -159.8L40.3 -160.5L42.2 -161.6L44.5 -161.9L46.3 -163.1L48.3 -164.6L50.3 -166.1L50.9 -168.0L51.9 -169.7L53.3 -171.1L52.8 -173.6L52.3 -176.1L54.3 -177.6L56.3 -179.1L57.6 -181.2L59.3 -183.1L60.8 -184.4L62.6 -185.2L64.3 -186.1L66.2 -187.7L68.3 -189.1L70.2 -190.2L71.3 -192.2L73.3 -193.1L75.1 -194.2L76.8 -195.5L78.3 -197.1L80.1 -198.4L82.5 -198.7L84.3 -200.1L85.3 -198.1L84.6 -196.2L83.9 -194.2L84.0 -192.0L83.3 -190.1L82.9 -188.1L82.4 -186.1L81.3 -184.2L81.3 -182.1L80.5 -180.1L80.1 -178.1L79.3 -176.1L78.0 -174.1L76.8 -172.0L75.3 -170.1L73.9 -168.4L72.2 -167.1L70.3 -166.1L68.2 -165.4L66.4 -163.9L64.3 -163.1L62.1 -162.1L60.4 -160.2L58.3 -159.1L56.4 -157.9L54.3 -157.1L52.3 -156.1L50.4 -155.1L48.3 -154.6L46.3 -154.1L44.0 -152.4L42.3 -150.1L40.9 -147.7L40.3 -145.1L41.6 -143.8L43.3 -143.1L44.9 -145.0L46.3 -147.1L48.9 -147.2L51.3 -148.1L53.0 -145.8L55.3 -144.1L57.8 -144.6L60.3 -145.1L62.4 -145.9L64.1 -147.5L66.3 -148.1L68.1 -149.3L69.6 -150.8L71.3 -152.1L72.9 -152.9L74.3 -154.1L76.2 -152.0L78.3 -150.1L80.4 -149.8L82.3 -149.1L84.2 -147.4L85.3 -145.1L86.7 -143.7L88.8 -143.4L90.3 -142.1L92.0 -140.8L93.7 -139.6L95.3 -138.1L97.1 -137.3L98.5 -135.9L100.3 -135.1L102.1 -133.7L104.3 -133.1L106.3 -133.6L108.3 -133.4L110.3 -134.0L112.3 -134.1L114.3 -134.5L116.3 -135.2L118.2 -135.9L120.3 -136.1L122.2 -136.9L124.2 -137.4L126.4 -137.2L128.3 -138.1L130.3 -138.4L132.3 -138.9L134.4 -138.4L136.3 -139.1L137.3 -141.0L137.3 -143.1L135.8 -144.6L134.3 -146.1L135.0 -147.8L136.3 -149.1L133.3 -150.1L132.0 -148.8L130.3 -148.1L129.2 -150.0L128.8 -152.1L128.3 -154.1L126.5 -155.3L125.3 -157.1L122.8 -156.8L120.3 -157.1L121.3 -159.1L122.1 -161.0L123.4 -162.6L124.6 -164.2L125.3 -166.1L126.5 -168.0L127.2 -170.1L128.2 -172.1L129.3 -174.1L130.3 -175.8L131.2 -177.5L132.3 -179.1M126.3 -157.1L127.2 -158.9L127.9 -160.8L129.1 -162.5L130.3 -164.1L131.7 -165.9L132.0 -168.3L133.3 -170.1L134.6 -172.1L136.1 -174.0L137.3 -176.1L138.6 -174.8L140.3 -174.1M39.3 -72.1L41.3 -74.1L42.8 -72.3L43.9 -70.1L42.3 -67.1L41.1 -68.6L40.1 -70.3ZM45.3 -63.1L47.2 -64.7L49.3 -66.1L51.3 -64.6L53.3 -63.1L53.4 -61.0L54.3 -59.1L52.1 -57.3L50.3 -55.1L48.5 -56.9L46.3 -58.1L45.3 -60.5ZM53.3 -74.1L56.3 -75.1L57.3 -73.2L57.3 -71.1L55.7 -70.3L54.3 -69.1L54.2 -71.7ZM177.3 -64.1L179.6 -64.5L182.0 -64.7L184.3 -65.1L186.4 -65.2L188.3 -64.5L190.2 -63.6L192.3 -63.7L194.2 -62.5L196.2 -61.6L198.3 -61.1L200.0 -59.4L202.4 -58.6L204.3 -57.1L205.9 -55.7L207.2 -54.0L208.3 -52.1L207.3 -49.1L205.3 -51.1L203.3 -53.1L201.4 -54.6L199.5 -56.1L197.3 -57.1L195.4 -58.3L193.4 -59.2L191.3 -60.1L189.0 -60.9L186.6 -61.1L184.3 -61.7L182.3 -61.8L180.3 -61.2L178.3 -61.7ZM47.3 -6.1L49.1 -7.2L50.5 -9.0L52.3 -10.1L54.3 -11.5L55.7 -13.3L57.3 -15.1L59.3 -15.8L61.3 -16.1L62.6 -14.8L63.3 -13.1L62.5 -11.3L61.2 -9.8L60.3 -8.1L58.2 -6.2L56.3 -4.1L54.5 -2.3L52.3 -1.1L50.2 -1.2L48.3 -2.1L47.8 -4.1ZM76.3 -31.1L78.3 -32.0L80.3 -33.1L82.0 -31.9L83.8 -30.6L85.3 -29.1L85.7 -27.1L86.3 -25.1L84.2 -25.1L82.3 -26.1L80.2 -26.9L78.3 -28.1L77.3 -29.6ZM-21.7 -210.5L-19.7 -211.7M-13.7 -211.1L-11.7 -210.5M-8.1 -211.7L-6.7 -210.1M23.3 -205.1L26.3 -204.5L26.7 -202.5L23.9 -203.1ZM45.3 -189.1L46.7 -184.5M45.3 -163.1L48.3 -165.1L49.9 -163.1L46.7 -161.1ZM129.3 -143.1L131.9 -144.1L132.7 -141.7L130.3 -140.5ZM91.3 -28.1L95.3 -27.1L96.3 -24.1M64.3 -26.1L64.5 -24.0L65.5 -22.1L66.3 -20.1L67.5 -18.3L69.3 -17.1L71.0 -15.5L72.8 -14.0L74.3 -12.1L75.2 -10.2L75.2 -8.0L76.3 -6.1L77.5 -4.0L79.1 -2.2L80.3 -0.1L82.3 0.9L83.6 2.6L85.3 3.9L85.8 6.0L86.7 7.9L87.3 9.9L89.4 10.2L91.3 10.9L93.9 10.1L96.3 8.9L96.4 11.0L97.3 12.9L96.0 15.1L94.3 16.9L93.1 18.3L91.3 18.9L93.9 19.7L96.3 20.9L97.4 22.9L98.3 24.9L96.2 25.4L94.3 26.3L91.9 27.2L89.3 27.5L87.2 27.9L85.3 28.9M85.3 28.9L87.9 28.1L90.3 26.9L92.3 27.6L94.4 28.0L96.3 28.9L98.2 29.9L100.3 29.7L102.2 30.7L104.3 30.9L106.4 31.1L108.4 31.6L110.2 32.7L112.3 32.9L114.3 32.2L116.3 31.9L118.0 34.2L120.3 35.9L121.0 37.9L121.9 39.8L122.3 41.9L119.3 42.9L118.1 41.4L117.2 39.6L116.3 37.9L114.4 36.8L112.3 35.9L110.4 35.1L108.2 35.6L106.3 34.9L104.3 34.7L102.3 34.5L100.3 33.9L98.3 33.4L96.3 34.3L94.3 33.9L91.6 33.3L89.3 31.9L87.0 30.8ZM85.3 28.9L87.4 30.8L89.3 32.9L90.7 34.8L92.4 36.5L94.3 37.9L96.2 39.1L98.1 40.3L100.3 40.9L102.3 41.3L104.3 40.7L106.3 40.9L107.6 39.6L109.3 38.9L107.3 40.3L105.8 42.1L104.3 43.9L102.6 45.6L100.2 46.4L98.3 47.9L96.7 49.0L95.0 50.0L93.3 50.9L92.4 52.5L91.3 53.9L90.5 55.7L92.2 55.0L94.0 55.0L96.0 54.2L98.2 54.3L100.3 56.4L101.2 58.1L101.7 59.9L98.9 58.5L98.0 60.3L96.8 62.0L96.0 63.7L96.1 65.5L95.0 67.2L93.3 68.3L92.2 70.3L91.9 72.5L91.5 74.4L90.5 76.0L91.3 77.7L91.9 79.5L91.9 81.3L92.6 83.0L91.3 84.2L90.5 85.8L87.7 85.1L86.6 83.7L85.6 82.3L83.9 83.1L82.1 83.0L79.3 84.4L81.1 85.1L82.8 85.8L84.9 87.9L87.7 89.3L89.8 91.4L89.1 94.2L88.2 95.7L87.0 97.0L86.2 98.7L86.3 100.5L88.4 102.6L89.1 104.7L87.4 105.4L85.6 105.4L82.8 106.8L84.2 108.9L87.0 109.6L86.3 111.7L84.6 112.5L82.8 113.1L80.8 112.4L78.6 112.4L76.9 111.7L75.8 110.3L74.7 109.0L73.7 107.5L72.1 106.5L70.2 106.1L68.1 105.5L66.0 105.4L67.8 104.9L69.5 105.4L71.5 104.4L73.7 104.4L76.1 103.4L78.6 103.3L80.6 102.6L82.1 101.2L83.5 98.4L82.9 96.7L82.8 94.9L81.9 93.4L80.7 92.1L78.7 91.4L76.5 91.4L73.7 91.6L70.9 91.4L68.1 91.8L65.3 91.8L62.5 91.5L59.7 92.1L57.3 91.6L54.8 91.4L53.1 92.0L51.3 92.1L49.2 91.5L47.1 91.4L45.4 91.9L43.6 92.1L42.4 93.7L40.8 94.9L39.8 97.3L38.0 99.1L36.4 101.1L35.2 103.3L33.8 105.2L33.1 107.5L31.9 109.5L31.0 111.7L28.9 113.5L27.5 115.9L30.3 117.3L30.3 119.3L29.6 121.1L28.9 122.9L28.5 124.8L27.5 126.5L27.5 128.5L26.6 130.3L26.7 132.3L26.1 134.1L25.6 136.1L24.8 137.9L24.0 139.7L22.3 141.8L20.5 143.9L18.4 145.7L17.0 148.1L16.4 150.1L14.9 151.7L14.2 153.7L13.5 155.5L13.0 157.4L12.8 159.3L14.0 159.5L14.8 162.1L16.1 164.4L16.7 166.9L17.5 169.3L19.0 170.6L20.3 172.1L22.1 172.3L23.8 172.8L25.1 171.6L26.6 170.7L27.9 169.5L28.7 167.9L30.8 165.8L32.9 167.2L34.3 168.7L35.0 170.7L36.3 172.3L37.1 174.2L37.9 176.1L39.2 177.7L40.5 179.3L41.3 181.2L42.7 182.3L43.4 184.0L45.5 185.4L47.6 183.3L48.2 181.0L49.7 179.1L50.1 176.3L50.4 173.5L50.6 170.7L51.1 167.9L52.1 166.2L52.5 164.3L52.6 162.3L53.4 159.9L53.3 157.4L52.0 155.8L51.1 153.9L49.4 152.0L48.3 149.7L46.9 147.8L46.2 145.5L45.8 143.4L45.5 141.3L46.4 139.3L46.9 137.1L47.9 135.0L49.0 132.9L50.4 130.1L49.9 128.5L49.3 126.4L49.2 124.3L49.8 122.5L50.6 120.8L52.4 120.2L54.1 119.4L55.4 120.6L56.9 121.5L56.3 123.9L56.2 126.4L55.2 128.8L54.8 131.3L55.0 134.1L55.5 136.9L56.3 138.7L56.1 140.7L56.9 142.5L58.1 144.5L59.0 146.7L60.7 147.8L62.5 148.8L65.3 148.8L66.6 147.6L68.1 146.7L69.7 145.5L70.9 143.9L72.5 142.6L74.4 141.8L76.1 141.2L77.9 141.1L79.7 141.2L81.4 141.8L82.8 143.2L81.1 143.9L79.3 143.9L77.7 144.6L76.5 146.0L75.1 147.0L73.7 148.1L72.4 149.6L70.9 150.9L69.6 152.7L68.1 154.4L66.4 155.5L65.3 157.2L68.1 157.9L70.2 160.0L68.0 161.6L70.1 161.3L72.2 160.9L73.1 162.6L73.6 164.4L72.0 165.2L70.8 166.5L69.1 165.7L67.3 165.1L66.5 167.1L66.6 169.3L67.3 172.1L67.3 174.9L67.0 177.4L66.6 179.8L65.3 181.4L64.5 183.3L62.9 184.5L61.7 186.1L59.8 186.4L58.2 187.5L56.7 188.9L54.7 189.6L53.0 190.8L51.1 191.7L48.3 193.1L46.4 192.8L44.8 191.7L42.7 193.8L40.7 194.5L38.5 194.5L37.1 195.9L36.0 194.5L34.3 193.8L33.7 192.0L32.9 190.3L33.7 188.3L33.6 186.1L33.1 184.0L32.9 181.9L32.9 179.7L32.2 177.7L30.1 176.3L28.7 177.4L27.3 178.4L27.0 180.6L26.2 182.6L26.5 184.8L27.3 186.8L28.0 189.1L29.4 191.0L30.3 192.6L30.4 194.5L29.1 195.8L28.0 197.3L26.2 198.6L24.5 200.1L21.7 201.5L20.5 203.1L18.9 204.3L17.6 206.5L16.1 208.5L15.0 210.8L13.3 212.7L11.8 214.7L9.8 216.2L8.6 218.1L7.0 219.7L6.6 221.9L6.3 224.2M-37.8 207.1L-36.6 205.4L-35.7 203.6L-35.3 201.7L-34.3 200.1L-35.0 197.3L-33.9 195.9L-32.2 195.2L-30.6 193.7L-28.7 192.4L-26.9 191.9L-25.2 191.0L-23.4 191.0L-21.7 191.7L-20.3 194.5L-20.5 196.3L-21.0 198.0L-20.0 199.6L-19.6 201.5L-20.6 203.1L-21.0 205.0L-22.1 206.4L-23.1 207.8L-24.7 208.9L-26.6 209.2L-28.6 210.3L-30.8 210.6L-32.9 211.1L-35.0 211.3L-37.1 209.9ZM-17.5 172.8L-14.7 172.1L-13.0 172.5L-11.2 172.8L-9.1 174.9L-9.8 177.0L-7.0 178.4L-6.3 181.2L-7.5 182.5L-8.4 184.0L-7.7 186.1L-6.0 187.2L-4.9 188.9L-3.5 190.8L-2.8 193.1L-1.9 195.3L-0.7 197.3L0.1 199.4L0.7 201.5L1.9 203.1L2.8 205.0L4.3 205.9L5.6 207.1L5.9 209.0L7.0 210.6L6.5 212.4L5.6 214.1L2.8 215.5L4.2 217.6L2.1 219.7L0.0 219.6L-2.1 219.7L-4.2 219.5L-6.3 219.0L-8.0 219.4L-9.8 219.7L-11.7 220.1L-13.3 221.1L-15.5 221.0L-17.5 221.8L-19.2 222.4L-21.0 222.8L-19.8 221.0L-18.2 219.7L-16.7 218.8L-15.4 217.6L-13.8 216.6L-11.9 216.2L-14.0 214.1L-15.8 214.6L-17.5 214.1L-18.9 212.0L-17.3 211.3L-16.1 209.9L-14.7 207.1L-16.8 205.0L-16.5 203.2L-16.1 201.5L-13.3 200.1L-12.0 198.9L-11.2 197.3L-14.0 195.9L-15.1 194.6L-16.1 193.1L-17.5 190.3L-16.1 187.5L-16.8 185.9L-18.2 184.7L-17.9 182.9L-17.5 181.2L-18.5 179.6L-18.9 177.7L-18.2 174.9ZM-22.4 174.2L-21.3 172.8L-19.6 172.1L-18.6 174.6L-19.5 176.5L-20.3 178.4L-22.0 177.0ZM33.6 186.8L35.4 186.2L37.1 185.4L38.6 186.8L40.6 187.5L41.4 189.2L41.3 191.0L38.5 192.4L36.8 191.9L35.0 191.7L34.2 189.3ZM55.4 168.6L57.5 166.8L58.4 170.0L56.8 172.1ZM18.2 206.4L20.1 205.5L21.0 207.4L19.2 208.5ZM-19.9 150.4L-17.8 149.7L-16.9 151.8L-18.9 152.5ZM-4.9 162.0L-3.5 162.6L-3.9 164.4L-5.2 163.7ZM78.6 135.5L80.0 134.3L81.4 133.0L83.5 132.8L85.6 133.4L86.8 134.7L87.7 136.2L87.0 137.9L86.3 139.7L84.4 140.0L82.8 141.1L81.0 140.4L79.6 139.0L79.1 137.3ZM84.2 122.2L87.0 121.5L88.6 123.1L90.5 124.3L92.0 126.1L94.0 127.1L92.6 129.2L90.7 128.8L89.1 127.8L87.5 127.0L86.3 125.7L85.6 123.7ZM83.5 73.2L85.6 71.4L87.7 73.2L86.3 76.0L84.2 75.3ZM65.3 28.9L67.3 26.9L67.9 29.6L69.3 31.9L69.8 33.9L70.7 35.8L70.4 38.0L71.3 39.9L72.4 42.2L72.9 44.7L74.3 46.9L75.5 49.0L76.7 51.1L78.3 52.9L80.1 53.6L81.5 55.1L83.3 55.9L84.6 54.7L86.3 53.9L85.3 56.9L82.8 58.0L80.3 58.9L78.5 57.1L76.3 55.9L75.2 53.7L73.4 52.1L72.3 49.9L71.1 48.0L70.4 45.9L69.6 43.9L68.7 41.9L68.0 39.9L67.1 38.0L66.7 36.0L66.3 33.9L66.0 31.4ZM10.3 53.9L12.2 53.2L13.4 51.5L15.3 50.9L17.3 50.0L19.3 48.9L21.2 49.6L23.3 49.9L24.2 51.8L24.3 53.9L22.6 54.6L21.3 55.9L23.5 57.1L25.3 58.9L26.3 61.9L23.3 62.9L22.4 61.3L21.3 59.9L20.3 61.4L19.3 62.9L19.7 64.9L20.3 66.9L18.7 66.1L17.3 64.9L16.2 62.4L15.3 59.9L13.8 58.8L12.3 57.9L11.2 55.9ZM35.3 32.9L36.9 31.5L38.3 29.9L39.3 31.4L40.3 32.9L38.8 34.0L37.3 34.9ZM40.3 23.9L41.5 22.5L43.3 21.9L44.2 24.0L45.3 25.9L43.8 27.4L42.3 28.9L41.1 26.5ZM46.3 -13.1L48.1 -13.9L49.8 -14.9L51.3 -16.1L53.3 -17.1L55.2 -18.4L57.3 -19.1L59.3 -18.6L61.3 -18.1L62.3 -15.1L60.6 -12.8L58.3 -11.1L56.9 -9.5L55.0 -8.4L53.3 -7.1L51.4 -6.2L49.3 -6.1L48.2 -8.4L47.3 -10.8ZM79.3 132.9L81.1 131.5L83.3 130.9L84.9 132.5L86.7 133.9L86.4 136.5L85.3 138.9L83.2 139.2L81.3 139.9L80.2 138.2L78.7 136.9L79.0 134.9ZM85.3 119.9L88.3 118.9L90.2 119.9L91.6 121.6L93.3 122.9L92.3 125.9L90.3 125.5L88.3 124.9L87.7 123.0L86.0 121.8ZM84.3 73.9L86.7 72.9L87.5 75.9L85.3 76.9ZM-19.7 150.9L-17.3 149.9L-16.1 152.3L-18.7 153.3ZM-16.7 101.9L-14.7 100.3L-13.7 102.3L-15.7 103.5ZM-186.7 121.9L-184.8 121.2L-183.1 120.3L-181.7 118.9L-179.6 117.6L-177.7 115.9L-175.6 115.2L-173.7 113.9L-172.4 112.3L-170.4 111.6L-169.3 109.9L-168.9 107.9L-168.1 106.0L-167.7 104.0L-167.7 101.9L-167.5 99.8L-166.4 98.0L-165.8 96.0L-165.7 93.9L-165.1 91.7L-163.8 89.8L-162.7 87.9L-161.2 86.4L-160.3 84.4L-158.7 82.9L-157.1 81.5L-156.2 79.4L-154.7 77.9L-152.5 76.1L-150.7 73.9L-149.5 72.1L-147.7 70.9L-149.7 68.9L-151.7 66.9L-154.3 67.0L-156.7 67.9L-159.1 67.7L-161.3 66.9L-161.2 64.4L-160.7 61.9L-159.2 59.9L-157.7 57.9L-158.4 55.9L-158.7 53.9L-157.0 52.0L-154.7 50.9L-152.9 48.7L-150.7 46.9L-149.3 44.7L-147.3 42.9L-146.3 40.7L-146.1 38.3L-145.7 35.9L-145.8 33.3L-146.7 30.9L-146.7 28.5L-145.8 26.3L-145.7 23.9L-145.1 21.3L-143.7 18.9L-142.2 19.9L-140.7 20.9L-139.1 19.0L-137.7 16.9L-135.3 15.8L-132.7 14.9L-130.5 14.2L-128.7 12.9L-127.7 10.9L-126.7 8.9L-129.7 9.9L-131.7 9.0L-133.6 7.9L-135.7 7.5L-137.6 8.4L-139.8 8.0L-141.7 8.9L-143.8 10.3L-145.7 11.9L-144.6 9.8L-143.3 7.9L-143.8 5.5L-145.1 3.3L-145.7 0.9L-146.5 -1.5L-148.0 -3.5L-149.3 -5.7L-151.4 -6.5L-153.2 -7.8L-155.3 -8.5L-157.3 -9.2L-159.4 -9.8L-161.2 -11.1L-163.3 -11.7L-165.5 -11.5L-167.5 -12.6L-169.7 -12.5L-171.5 -10.3L-173.7 -8.5L-175.8 -8.0L-178.0 -7.8L-180.0 -6.8L-182.1 -6.1L-182.9 -4.2L-183.2 -2.0L-183.6 0.1L-184.7 1.9L-185.1 4.1L-186.1 6.0L-187.4 7.9L-188.1 9.9L-188.9 12.3L-189.8 14.6L-190.7 16.9L-191.6 18.8L-191.3 21.0L-191.9 23.0L-192.7 24.9L-195.0 25.8L-197.0 27.3L-199.2 28.4L-201.7 28.9L-203.7 29.7L-205.6 30.6L-207.7 30.9L-209.6 32.7L-211.5 34.4L-213.7 35.9L-211.8 37.5L-209.7 38.9L-207.8 40.5L-205.7 41.9L-203.3 40.6L-200.7 39.9L-198.6 39.0L-196.7 37.9L-194.7 36.9L-192.8 36.2L-190.6 36.7L-188.7 35.9L-186.1 36.7L-183.7 37.9L-181.6 38.2L-179.6 38.8L-177.7 39.9L-175.6 39.0L-173.7 37.9L-171.5 36.9L-169.5 35.5L-167.7 33.9L-165.2 32.8L-162.7 31.9L-160.7 31.3L-158.8 30.8L-156.7 30.9L-154.2 31.5L-151.7 31.9L-149.7 31.5L-147.7 30.9M-187.7 113.9L-185.5 114.6L-183.5 115.6L-181.3 116.3L-179.4 116.9L-177.7 118.0L-175.7 118.3L-176.7 120.0L-177.3 121.9L-179.4 122.5L-181.6 122.2L-183.7 122.9L-186.4 122.3L-188.7 120.9L-188.3 118.6L-188.1 116.2ZM-205.7 31.9L-203.3 30.3L-201.7 32.9L-204.1 34.9ZM-186.7 33.9L-184.8 32.9L-182.7 32.3L-181.3 33.7L-180.7 35.5L-182.8 36.3L-184.7 37.5L-186.1 35.9ZM-152.7 27.9L-150.7 27.1L-148.7 26.3L-147.7 29.5L-149.8 29.8L-151.7 30.9ZM-150.7 18.9L-149.7 17.2L-148.1 15.9L-147.0 17.8L-146.5 19.9L-147.8 21.3L-148.9 22.9L-149.8 20.9ZM-141.7 20.9L-141.2 23.3L-140.7 25.7L-139.7 27.9L-139.8 30.5L-140.3 32.9L-140.7 35.4L-141.3 37.9L-140.7 40.3L-141.4 42.7L-141.2 45.1L-141.0 47.5L-140.7 49.9L-139.6 51.8L-139.8 54.0L-139.1 56.0L-138.3 57.9L-137.7 59.9L-136.5 58.0L-135.7 55.9L-134.7 53.9L-134.7 51.9L-134.6 49.9L-134.2 47.9L-133.7 45.9L-133.1 43.7L-131.8 41.8L-130.7 39.9L-130.6 41.9L-130.2 43.9L-129.7 45.9L-129.8 47.9L-129.4 49.9L-128.7 51.9L-128.7 53.9L-127.7 55.9L-126.6 57.9L-125.7 59.9L-124.4 58.0L-123.7 55.9L-122.7 53.9L-122.3 51.8L-121.2 49.9L-120.7 47.9L-119.5 49.7L-117.7 50.9L-117.8 53.3L-118.7 55.5L-118.7 57.9L-116.8 59.6L-115.7 61.9L-113.8 60.7L-111.7 59.9L-110.9 57.8L-109.5 56.0L-108.7 53.9L-108.5 51.8L-109.0 49.9L-109.6 47.9L-109.7 45.9L-110.7 43.7L-112.5 42.0L-113.7 39.9L-113.3 37.8L-112.0 36.0L-111.7 33.9L-113.6 32.8L-115.7 31.9L-117.8 32.7L-119.7 33.9L-122.2 33.2L-124.7 32.9L-127.0 31.5L-129.7 30.9L-131.7 29.4L-133.7 27.9L-134.4 25.7L-135.7 23.9L-137.6 22.7L-139.7 21.9M-144.7 12.9L-142.1 12.2L-139.7 10.9L-137.7 10.2L-135.6 9.8L-133.7 8.9L-131.7 9.6L-129.6 10.1L-127.7 10.9L-128.9 9.6L-129.7 7.9L-127.6 7.0L-125.7 5.9L-123.9 4.5L-121.7 3.9L-119.0 3.3L-116.7 1.9L-115.5 -0.3L-113.7 -2.1M-120.7 27.9L-119.0 26.0L-116.7 24.9L-114.9 26.7L-113.7 28.9L-115.5 30.6L-116.7 32.9L-118.4 32.5L-120.1 31.9L-120.8 30.0ZM-38.7 21.9L-36.0 22.5L-33.7 23.9L-31.5 24.5L-29.8 26.1L-27.7 26.9L-25.7 27.4L-23.7 27.8L-21.7 27.9L-19.3 29.1L-16.7 29.9L-14.9 31.6L-13.7 33.9L-14.8 35.9L-15.7 37.9L-17.6 39.5L-19.7 40.9L-19.0 42.6L-17.7 43.9L-15.6 43.2L-13.7 41.9L-12.1 43.2L-10.1 43.9L-10.5 46.1L-11.7 47.9L-13.3 49.7L-14.7 51.7L-15.7 53.9L-17.4 55.7L-18.0 58.1L-19.7 59.9L-20.4 62.0L-21.4 64.1L-22.7 65.9L-22.9 68.0L-24.4 69.8L-24.7 71.9L-26.0 73.4L-26.8 75.2L-27.7 76.9L-29.6 78.3L-31.1 80.1L-32.7 81.9L-33.9 83.7L-35.1 85.5L-36.7 86.9L-38.1 88.9L-40.2 90.1L-41.7 91.9L-43.6 93.2L-45.7 93.9L-43.7 95.9L-45.1 98.0L-46.7 99.9L-48.3 101.0L-49.8 102.3L-51.7 102.9L-53.7 103.5L-55.7 103.8L-57.7 103.9L-59.7 103.4L-61.7 103.4L-63.7 102.9L-65.6 103.7L-67.8 103.8L-69.7 104.9L-71.7 105.6L-73.8 105.9L-75.7 106.9L-77.7 106.1L-79.8 106.0L-81.7 104.9L-83.7 104.7L-85.7 104.3L-87.7 103.9L-89.4 105.7L-90.7 107.9L-93.1 109.0L-95.7 109.9L-98.3 110.7L-100.7 111.9L-102.2 113.4L-103.7 114.9L-105.2 116.1L-107.2 116.6L-108.7 117.9L-110.2 119.3L-112.2 119.6L-113.7 120.9L-115.0 119.0L-115.7 116.9L-117.0 114.7L-117.6 112.3L-118.1 109.9L-117.4 107.6L-116.7 105.3L-116.7 102.9L-116.2 100.4L-114.7 98.2L-113.7 95.9L-112.7 94.1L-111.4 92.5L-111.0 90.5L-109.7 88.9L-108.4 86.9L-107.2 84.8L-105.7 82.9L-103.8 81.5L-102.5 79.4L-100.7 77.9L-98.8 77.3L-97.5 75.7L-95.7 74.9L-93.3 74.1L-90.7 73.9L-88.2 73.6L-85.7 72.9L-84.2 70.9L-82.7 68.9L-84.4 68.2L-85.7 66.9L-88.2 67.3L-90.7 67.9L-90.0 66.2L-88.7 64.9L-86.6 64.2L-84.7 62.9L-83.1 61.5L-81.7 59.9L-79.5 58.1L-77.7 55.9L-76.3 54.3L-75.1 52.5L-73.7 50.9L-72.4 49.2L-71.1 47.5L-69.7 45.9L-68.7 44.0L-68.8 41.8L-67.7 39.9L-68.0 37.8L-69.5 36.1L-69.7 33.9L-69.7 31.9L-69.3 29.9L-68.7 27.9L-67.4 26.4L-66.7 24.6L-65.7 22.9L-63.8 21.5L-61.5 20.6L-59.7 18.9L-57.8 18.0L-55.7 17.5L-53.7 16.9L-51.7 17.2L-49.7 17.7L-47.7 17.9L-45.7 17.9L-44.0 19.0L-42.1 19.8L-40.4 20.7L-38.7 21.9M-56.7 126.9L-56.0 124.7L-54.7 122.9L-52.5 122.2L-50.7 120.9L-51.7 123.9L-49.2 123.6L-46.7 122.9L-44.2 123.6L-41.7 123.9L-39.6 123.9L-37.7 124.5L-35.7 124.9L-33.9 127.1L-31.7 128.9L-32.3 131.4L-32.7 133.9L-34.5 135.7L-36.7 136.9L-38.7 137.3L-40.8 137.2L-42.7 137.9L-44.6 138.7L-46.7 138.9L-48.9 137.6L-50.7 135.9L-52.3 135.1L-53.7 133.9L-54.5 132.3L-55.7 130.9L-55.9 128.8ZM-19.7 151.9L-17.7 150.7L-16.5 152.9L-18.7 153.9ZM-16.7 102.9L-14.7 101.5L-13.7 103.5L-15.7 104.7Z"/></g></g>
<line x1="616.7" y1="1268.3999999999999" x2="616.7" y2="1374.5" stroke="#fff" stroke-opacity="0.13" stroke-width="1"/>
<circle cx="616.7" cy="1151.1" r="223.4" fill="none" stroke="#000" stroke-width="1.1"/>
<rect x="156.60" y="717.0" width="27.38" height="22.0" fill="#00008f"/><rect x="183.68" y="717.0" width="27.38" height="22.0" fill="#0018b6"/><rect x="210.76" y="717.0" width="27.38" height="22.0" fill="#002edc"/><rect x="237.84" y="717.0" width="27.38" height="22.0" fill="#1e50ff"/><rect x="264.92" y="717.0" width="27.38" height="22.0" fill="#4478ff"/><rect x="292.00" y="717.0" width="27.38" height="22.0" fill="#84aaff"/><rect x="319.08" y="717.0" width="27.38" height="22.0" fill="#b4ceff"/><rect x="346.16" y="717.0" width="27.38" height="22.0" fill="#d6eaff"/><rect x="373.24" y="717.0" width="27.38" height="22.0" fill="#ffebd9"/><rect x="400.32" y="717.0" width="27.38" height="22.0" fill="#ffcdb4"/><rect x="427.40" y="717.0" width="27.38" height="22.0" fill="#ffa882"/><rect x="454.48" y="717.0" width="27.38" height="22.0" fill="#ff7842"/><rect x="481.56" y="717.0" width="27.38" height="22.0" fill="#ff4e1a"/><rect x="508.64" y="717.0" width="27.38" height="22.0" fill="#e43400"/><rect x="535.72" y="717.0" width="27.38" height="22.0" fill="#ba2400"/><rect x="562.80" y="717.0" width="27.38" height="22.0" fill="#8c0000"/><path d="M156.60 717.0H589.88V739.0H156.60ZM183.68 717.0V739.0M210.76 717.0V739.0M237.84 717.0V739.0M264.92 717.0V739.0M292.00 717.0V739.0M319.08 717.0V739.0M346.16 717.0V739.0M373.24 717.0V739.0M400.32 717.0V739.0M427.40 717.0V739.0M454.48 717.0V739.0M481.56 717.0V739.0M508.64 717.0V739.0M535.72 717.0V739.0M562.80 717.0V739.0" fill="none" stroke="#000" stroke-width="1.1"/>
<rect x="642.80" y="717.0" width="27.38" height="22.0" fill="#00008f"/><rect x="669.88" y="717.0" width="27.38" height="22.0" fill="#0018b6"/><rect x="696.96" y="717.0" width="27.38" height="22.0" fill="#002edc"/><rect x="724.04" y="717.0" width="27.38" height="22.0" fill="#1e50ff"/><rect x="751.12" y="717.0" width="27.38" height="22.0" fill="#4478ff"/><rect x="778.20" y="717.0" width="27.38" height="22.0" fill="#84aaff"/><rect x="805.28" y="717.0" width="27.38" height="22.0" fill="#b4ceff"/><rect x="832.36" y="717.0" width="27.38" height="22.0" fill="#d6eaff"/><rect x="859.44" y="717.0" width="27.38" height="22.0" fill="#ffebd9"/><rect x="886.52" y="717.0" width="27.38" height="22.0" fill="#ffcdb4"/><rect x="913.60" y="717.0" width="27.38" height="22.0" fill="#ffa882"/><rect x="940.68" y="717.0" width="27.38" height="22.0" fill="#ff7842"/><rect x="967.76" y="717.0" width="27.38" height="22.0" fill="#ff4e1a"/><rect x="994.84" y="717.0" width="27.38" height="22.0" fill="#e43400"/><rect x="1021.92" y="717.0" width="27.38" height="22.0" fill="#ba2400"/><rect x="1049.00" y="717.0" width="27.38" height="22.0" fill="#8c0000"/><path d="M642.80 717.0H1076.08V739.0H642.80ZM669.88 717.0V739.0M696.96 717.0V739.0M724.04 717.0V739.0M751.12 717.0V739.0M778.20 717.0V739.0M805.28 717.0V739.0M832.36 717.0V739.0M859.44 717.0V739.0M886.52 717.0V739.0M913.60 717.0V739.0M940.68 717.0V739.0M967.76 717.0V739.0M994.84 717.0V739.0M1021.92 717.0V739.0M1049.00 717.0V739.0" fill="none" stroke="#000" stroke-width="1.1"/>
<rect x="960.3" y="1011.90" width="50.60" height="22.79" fill="#8c0000"/><rect x="960.3" y="1034.39" width="50.60" height="22.79" fill="#ba2400"/><rect x="960.3" y="1056.88" width="50.60" height="22.79" fill="#e43400"/><rect x="960.3" y="1079.37" width="50.60" height="22.79" fill="#ff4e1a"/><rect x="960.3" y="1101.86" width="50.60" height="22.79" fill="#ff7842"/><rect x="960.3" y="1124.35" width="50.60" height="22.79" fill="#ffa882"/><rect x="960.3" y="1146.84" width="50.60" height="22.79" fill="#ffcdb4"/><rect x="960.3" y="1169.33" width="50.60" height="22.79" fill="#ffebd9"/><rect x="960.3" y="1191.82" width="50.60" height="22.79" fill="#d6eaff"/><rect x="960.3" y="1214.31" width="50.60" height="22.79" fill="#b4ceff"/><rect x="960.3" y="1236.80" width="50.60" height="22.79" fill="#84aaff"/><rect x="960.3" y="1259.29" width="50.60" height="22.79" fill="#4478ff"/><rect x="960.3" y="1281.78" width="50.60" height="22.79" fill="#1e50ff"/><rect x="960.3" y="1304.27" width="50.60" height="22.79" fill="#002edc"/><rect x="960.3" y="1326.76" width="50.60" height="22.79" fill="#0018b6"/><rect x="960.3" y="1349.25" width="50.60" height="22.79" fill="#00008f"/><path d="M960.3 1011.9H1010.9V1371.74H960.3ZM960.3 1034.39H1010.9M960.3 1056.88H1010.9M960.3 1079.37H1010.9M960.3 1101.86H1010.9M960.3 1124.35H1010.9M960.3 1146.84H1010.9M960.3 1169.33H1010.9M960.3 1191.82H1010.9M960.3 1214.31H1010.9M960.3 1236.80H1010.9M960.3 1259.29H1010.9M960.3 1281.78H1010.9M960.3 1304.27H1010.9M960.3 1326.76H1010.9M960.3 1349.25H1010.9" fill="none" stroke="#000" stroke-width="1.1"/>
<path d="M149.9 163.6 L149.9 179.9M149.9 179.9 L158.9 179.9M166.1 169.0 L164.6 169.8 L163.1 171.4 L162.4 173.7 L162.4 175.2 L163.1 177.6 L164.6 179.1 L166.1 179.9 L168.4 179.9 L169.9 179.1 L171.4 177.6 L172.2 175.2 L172.2 173.7 L171.4 171.4 L169.9 169.8 L168.4 169.0 L166.1 169.0M177.2 169.0 L180.2 179.9M183.2 169.0 L180.2 179.9M183.2 169.0 L186.2 179.9M189.3 169.0 L186.2 179.9M192.8 172.9 L206.4 172.9M210.5 163.6 L210.5 179.9M216.0 173.7 L225.1 173.7 L225.1 172.1 L224.3 170.6 L223.6 169.8 L222.1 169.0 L219.8 169.0 L218.3 169.8 L216.8 171.4 L216.0 173.7 L216.0 175.2 L216.8 177.6 L218.3 179.1 L219.8 179.9 L222.1 179.9 L223.6 179.1 L225.1 177.6M229.3 169.0 L233.8 179.9M238.3 169.0 L233.8 179.9M242.5 173.7 L251.5 173.7 L251.5 172.1 L250.8 170.6 L250.0 169.8 L248.5 169.0 L246.3 169.0 L244.8 169.8 L243.2 171.4 L242.5 173.7 L242.5 175.2 L243.2 177.6 L244.8 179.1 L246.3 179.9 L248.5 179.9 L250.0 179.1 L251.5 177.6M257.1 163.6 L257.1 179.9M284.2 171.4 L282.7 169.8 L281.2 169.0 L278.9 169.0 L277.4 169.8 L275.9 171.4 L275.2 173.7 L275.2 175.2 L275.9 177.6 L277.4 179.1 L278.9 179.9 L281.2 179.9 L282.7 179.1 L284.2 177.6M289.8 163.6 L289.8 179.9M299.2 169.0 L297.7 169.8 L296.2 171.4 L295.4 173.7 L295.4 175.2 L296.2 177.6 L297.7 179.1 L299.2 179.9 L301.4 179.9 L303.0 179.1 L304.5 177.6 L305.2 175.2 L305.2 173.7 L304.5 171.4 L303.0 169.8 L301.4 169.0 L299.2 169.0M310.9 169.0 L310.9 176.8 L311.7 179.1 L313.2 179.9 L315.5 179.9 L317.0 179.1 L319.2 176.8M319.2 169.0 L319.2 179.9M334.0 163.6 L334.0 179.9M334.0 171.4 L332.5 169.8 L331.0 169.0 L328.7 169.0 L327.2 169.8 L325.7 171.4 L325.0 173.7 L325.0 175.2 L325.7 177.6 L327.2 179.1 L328.7 179.9 L331.0 179.9 L332.5 179.1 L334.0 177.6M512.8 163.5 L512.8 179.8M512.8 165.9 L514.2 164.3 L515.7 163.5 L517.9 163.5 L519.4 164.3 L520.8 165.9 L521.6 168.2 L521.6 169.7 L520.8 172.1 L519.4 173.6 L517.9 174.4 L515.7 174.4 L514.2 173.6 L512.8 172.1M526.4 168.2 L535.2 168.2 L535.2 166.6 L534.4 165.1 L533.7 164.3 L532.2 163.5 L530.1 163.5 L528.6 164.3 L527.1 165.9 L526.4 168.2 L526.4 169.7 L527.1 172.1 L528.6 173.6 L530.1 174.4 L532.2 174.4 L533.7 173.6 L535.2 172.1M540.7 163.5 L540.7 174.4M540.7 168.2 L541.4 165.9 L542.9 164.3 L544.3 163.5 L546.5 163.5M558.6 165.9 L557.1 164.3 L555.7 163.5 L553.5 163.5 L552.0 164.3 L550.5 165.9 L549.8 168.2 L549.8 169.7 L550.5 172.1 L552.0 173.6 L553.5 174.4 L555.7 174.4 L557.1 173.6 L558.6 172.1M563.4 168.2 L572.2 168.2 L572.2 166.6 L571.5 165.1 L570.7 164.3 L569.3 163.5 L567.1 163.5 L565.6 164.3 L564.1 165.9 L563.4 168.2 L563.4 169.7 L564.1 172.1 L565.6 173.6 L567.1 174.4 L569.3 174.4 L570.7 173.6 L572.2 172.1M577.8 163.5 L577.8 174.4M577.8 166.6 L580.0 164.3 L581.4 163.5 L583.6 163.5 L585.1 164.3 L585.8 166.6 L585.8 174.4M592.8 158.1 L592.8 171.3 L593.5 173.6 L595.0 174.4 L596.4 174.4M590.6 163.5 L595.7 163.5M636.1 163.6 L636.1 179.9M636.1 179.9 L645.1 179.9M652.3 169.0 L650.8 169.8 L649.3 171.4 L648.6 173.7 L648.6 175.2 L649.3 177.6 L650.8 179.1 L652.3 179.9 L654.6 179.9 L656.1 179.1 L657.6 177.6 L658.4 175.2 L658.4 173.7 L657.6 171.4 L656.1 169.8 L654.6 169.0 L652.3 169.0M663.4 169.0 L666.4 179.9M669.4 169.0 L666.4 179.9M669.4 169.0 L672.4 179.9M675.5 169.0 L672.4 179.9M679.0 172.9 L692.6 172.9M696.7 163.6 L696.7 179.9M702.2 173.7 L711.3 173.7 L711.3 172.1 L710.5 170.6 L709.8 169.8 L708.3 169.0 L706.0 169.0 L704.5 169.8 L703.0 171.4 L702.2 173.7 L702.2 175.2 L703.0 177.6 L704.5 179.1 L706.0 179.9 L708.3 179.9 L709.8 179.1 L711.3 177.6M715.5 169.0 L720.0 179.9M724.5 169.0 L720.0 179.9M728.7 173.7 L737.7 173.7 L737.7 172.1 L737.0 170.6 L736.2 169.8 L734.7 169.0 L732.5 169.0 L731.0 169.8 L729.4 171.4 L728.7 173.7 L728.7 175.2 L729.4 177.6 L731.0 179.1 L732.5 179.9 L734.7 179.9 L736.2 179.1 L737.7 177.6M743.3 163.6 L743.3 179.9M770.4 171.4 L768.9 169.8 L767.4 169.0 L765.1 169.0 L763.6 169.8 L762.1 171.4 L761.4 173.7 L761.4 175.2 L762.1 177.6 L763.6 179.1 L765.1 179.9 L767.4 179.9 L768.9 179.1 L770.4 177.6M776.0 163.6 L776.0 179.9M785.4 169.0 L783.9 169.8 L782.4 171.4 L781.6 173.7 L781.6 175.2 L782.4 177.6 L783.9 179.1 L785.4 179.9 L787.6 179.9 L789.2 179.1 L790.7 177.6 L791.4 175.2 L791.4 173.7 L790.7 171.4 L789.2 169.8 L787.6 169.0 L785.4 169.0M797.1 169.0 L797.1 176.8 L797.9 179.1 L799.4 179.9 L801.7 179.9 L803.2 179.1 L805.4 176.8M805.4 169.0 L805.4 179.9M820.2 163.6 L820.2 179.9M820.2 171.4 L818.7 169.8 L817.2 169.0 L814.9 169.0 L813.4 169.8 L811.9 171.4 L811.2 173.7 L811.2 175.2 L811.9 177.6 L813.4 179.1 L814.9 179.9 L817.2 179.9 L818.7 179.1 L820.2 177.6M999.0 163.5 L999.0 179.8M999.0 165.9 L1000.4 164.3 L1001.9 163.5 L1004.1 163.5 L1005.6 164.3 L1007.0 165.9 L1007.8 168.2 L1007.8 169.7 L1007.0 172.1 L1005.6 173.6 L1004.1 174.4 L1001.9 174.4 L1000.4 173.6 L999.0 172.1M1012.6 168.2 L1021.4 168.2 L1021.4 166.6 L1020.6 165.1 L1019.9 164.3 L1018.4 163.5 L1016.3 163.5 L1014.8 164.3 L1013.3 165.9 L1012.6 168.2 L1012.6 169.7 L1013.3 172.1 L1014.8 173.6 L1016.3 174.4 L1018.4 174.4 L1019.9 173.6 L1021.4 172.1M1026.9 163.5 L1026.9 174.4M1026.9 168.2 L1027.6 165.9 L1029.1 164.3 L1030.5 163.5 L1032.7 163.5M1044.8 165.9 L1043.3 164.3 L1041.9 163.5 L1039.7 163.5 L1038.2 164.3 L1036.7 165.9 L1036.0 168.2 L1036.0 169.7 L1036.7 172.1 L1038.2 173.6 L1039.7 174.4 L1041.9 174.4 L1043.3 173.6 L1044.8 172.1M1049.6 168.2 L1058.4 168.2 L1058.4 166.6 L1057.7 165.1 L1056.9 164.3 L1055.5 163.5 L1053.3 163.5 L1051.8 164.3 L1050.3 165.9 L1049.6 168.2 L1049.6 169.7 L1050.3 172.1 L1051.8 173.6 L1053.3 174.4 L1055.5 174.4 L1056.9 173.6 L1058.4 172.1M1064.0 163.5 L1064.0 174.4M1064.0 166.6 L1066.2 164.3 L1067.6 163.5 L1069.8 163.5 L1071.3 164.3 L1072.0 166.6 L1072.0 174.4M1079.0 158.1 L1079.0 171.3 L1079.7 173.6 L1081.2 174.4 L1082.6 174.4M1076.8 163.5 L1081.9 163.5M393.1 884.8 L393.1 901.1M393.1 901.1 L402.1 901.1M409.3 890.2 L407.8 891.0 L406.3 892.6 L405.6 894.9 L405.6 896.4 L406.3 898.8 L407.8 900.3 L409.3 901.1 L411.6 901.1 L413.1 900.3 L414.6 898.8 L415.4 896.4 L415.4 894.9 L414.6 892.6 L413.1 891.0 L411.6 890.2 L409.3 890.2M420.4 890.2 L423.4 901.1M426.4 890.2 L423.4 901.1M426.4 890.2 L429.4 901.1M432.5 890.2 L429.4 901.1M436.0 894.1 L449.6 894.1M453.7 884.8 L453.7 901.1M459.2 894.9 L468.3 894.9 L468.3 893.3 L467.5 891.8 L466.8 891.0 L465.3 890.2 L463.0 890.2 L461.5 891.0 L460.0 892.6 L459.2 894.9 L459.2 896.4 L460.0 898.8 L461.5 900.3 L463.0 901.1 L465.3 901.1 L466.8 900.3 L468.3 898.8M472.5 890.2 L477.0 901.1M481.5 890.2 L477.0 901.1M485.7 894.9 L494.7 894.9 L494.7 893.3 L494.0 891.8 L493.2 891.0 L491.7 890.2 L489.5 890.2 L488.0 891.0 L486.4 892.6 L485.7 894.9 L485.7 896.4 L486.4 898.8 L488.0 900.3 L489.5 901.1 L491.7 901.1 L493.2 900.3 L494.7 898.8M500.3 884.8 L500.3 901.1M527.4 892.6 L525.9 891.0 L524.4 890.2 L522.1 890.2 L520.6 891.0 L519.1 892.6 L518.4 894.9 L518.4 896.4 L519.1 898.8 L520.6 900.3 L522.1 901.1 L524.4 901.1 L525.9 900.3 L527.4 898.8M533.0 884.8 L533.0 901.1M542.4 890.2 L540.9 891.0 L539.4 892.6 L538.6 894.9 L538.6 896.4 L539.4 898.8 L540.9 900.3 L542.4 901.1 L544.6 901.1 L546.2 900.3 L547.7 898.8 L548.4 896.4 L548.4 894.9 L547.7 892.6 L546.2 891.0 L544.6 890.2 L542.4 890.2M554.1 890.2 L554.1 898.0 L554.9 900.3 L556.4 901.1 L558.7 901.1 L560.2 900.3 L562.4 898.0M562.4 890.2 L562.4 901.1M577.2 884.8 L577.2 901.1M577.2 892.6 L575.7 891.0 L574.2 890.2 L571.9 890.2 L570.4 891.0 L568.9 892.6 L568.2 894.9 L568.2 896.4 L568.9 898.8 L570.4 900.3 L571.9 901.1 L574.2 901.1 L575.7 900.3 L577.2 898.8M756.0 884.7 L756.0 901.0M756.0 887.1 L757.4 885.5 L758.9 884.7 L761.1 884.7 L762.6 885.5 L764.0 887.1 L764.8 889.4 L764.8 890.9 L764.0 893.3 L762.6 894.8 L761.1 895.6 L758.9 895.6 L757.4 894.8 L756.0 893.3M769.6 889.4 L778.4 889.4 L778.4 887.8 L777.6 886.3 L776.9 885.5 L775.4 884.7 L773.3 884.7 L771.8 885.5 L770.3 887.1 L769.6 889.4 L769.6 890.9 L770.3 893.3 L771.8 894.8 L773.3 895.6 L775.4 895.6 L776.9 894.8 L778.4 893.3M783.9 884.7 L783.9 895.6M783.9 889.4 L784.6 887.1 L786.1 885.5 L787.5 884.7 L789.7 884.7M801.8 887.1 L800.3 885.5 L798.9 884.7 L796.7 884.7 L795.2 885.5 L793.7 887.1 L793.0 889.4 L793.0 890.9 L793.7 893.3 L795.2 894.8 L796.7 895.6 L798.9 895.6 L800.3 894.8 L801.8 893.3M806.6 889.4 L815.4 889.4 L815.4 887.8 L814.7 886.3 L813.9 885.5 L812.5 884.7 L810.3 884.7 L808.8 885.5 L807.3 887.1 L806.6 889.4 L806.6 890.9 L807.3 893.3 L808.8 894.8 L810.3 895.6 L812.5 895.6 L813.9 894.8 L815.4 893.3M821.0 884.7 L821.0 895.6M821.0 887.8 L823.2 885.5 L824.6 884.7 L826.8 884.7 L828.3 885.5 L829.0 887.8 L829.0 895.6M836.0 879.3 L836.0 892.5 L836.7 894.8 L838.2 895.6 L839.6 895.6M833.8 884.7 L838.9 884.7M158.6 689.0 L158.6 701.4M158.6 689.0 L163.1 701.4M167.7 689.0 L163.1 701.4M167.7 689.0 L167.7 701.4M173.6 689.0 L173.6 701.4M173.6 689.0 L181.0 689.0M173.6 694.9 L178.2 694.9M173.6 701.4 L181.0 701.4M188.4 689.0 L183.9 701.4M188.4 689.0 L193.0 701.4M185.6 697.3 L191.3 697.3M197.1 689.0 L197.1 701.4M197.1 689.0 L205.1 701.4M205.1 689.0 L205.1 701.4M211.2 694.3 L221.4 694.3M211.2 697.9 L221.4 697.9M321.3 689.0 L321.3 701.4M321.3 689.0 L325.8 701.4M330.4 689.0 L325.8 701.4M330.4 689.0 L330.4 701.4M335.4 689.0 L336.0 689.6 L336.5 689.0 L336.0 688.4 L335.4 689.0M336.0 693.1 L336.0 701.4M341.4 693.1 L341.4 701.4M341.4 695.5 L343.1 693.7 L344.2 693.1 L346.0 693.1 L347.1 693.7 L347.7 695.5 L347.7 701.4M353.7 694.3 L363.9 694.3M353.7 697.9 L363.9 697.9M463.8 689.0 L463.8 701.4M463.8 689.0 L468.4 701.4M473.0 689.0 L468.4 701.4M473.0 689.0 L473.0 701.4M485.2 693.1 L485.2 701.4M485.2 694.9 L484.1 693.7 L482.9 693.1 L481.2 693.1 L480.1 693.7 L478.9 694.9 L478.3 696.7 L478.3 697.9 L478.9 699.6 L480.1 700.8 L481.2 701.4 L482.9 701.4 L484.1 700.8 L485.2 699.6M490.4 693.1 L496.7 701.4M496.7 693.1 L490.4 701.4M502.1 694.3 L512.4 694.3M502.1 697.9 L512.4 697.9M644.8 689.0 L644.8 701.4M644.8 689.0 L649.3 701.4M653.9 689.0 L649.3 701.4M653.9 689.0 L653.9 701.4M659.8 689.0 L659.8 701.4M659.8 689.0 L667.2 689.0M659.8 694.9 L664.4 694.9M659.8 701.4 L667.2 701.4M674.6 689.0 L670.1 701.4M674.6 689.0 L679.2 701.4M671.8 697.3 L677.5 697.3M683.3 689.0 L683.3 701.4M683.3 689.0 L691.3 701.4M691.3 689.0 L691.3 701.4M697.4 694.3 L707.6 694.3M697.4 697.9 L707.6 697.9M807.5 689.0 L807.5 701.4M807.5 689.0 L812.0 701.4M816.6 689.0 L812.0 701.4M816.6 689.0 L816.6 701.4M821.6 689.0 L822.2 689.6 L822.7 689.0 L822.2 688.4 L821.6 689.0M822.2 693.1 L822.2 701.4M827.6 693.1 L827.6 701.4M827.6 695.5 L829.3 693.7 L830.4 693.1 L832.2 693.1 L833.3 693.7 L833.9 695.5 L833.9 701.4M839.9 694.3 L850.1 694.3M839.9 697.9 L850.1 697.9M950.0 689.0 L950.0 701.4M950.0 689.0 L954.6 701.4M959.2 689.0 L954.6 701.4M959.2 689.0 L959.2 701.4M971.4 693.1 L971.4 701.4M971.4 694.9 L970.3 693.7 L969.1 693.1 L967.4 693.1 L966.3 693.7 L965.1 694.9 L964.5 696.7 L964.5 697.9 L965.1 699.6 L966.3 700.8 L967.4 701.4 L969.1 701.4 L970.3 700.8 L971.4 699.6M976.6 693.1 L982.9 701.4M982.9 693.1 L976.6 701.4M988.3 694.3 L998.6 694.3M988.3 697.9 L998.6 697.9M253.1 689.0 L247.4 701.4M245.1 689.0 L253.1 689.0M260.6 689.0 L258.9 689.6 L258.3 690.8 L258.3 692.0 L258.9 693.1 L260.0 693.7 L262.3 694.3 L264.0 694.9 L265.2 696.1 L265.7 697.3 L265.7 699.0 L265.2 700.2 L264.6 700.8 L262.9 701.4 L260.6 701.4 L258.9 700.8 L258.3 700.2 L257.8 699.0 L257.8 697.3 L258.3 696.1 L259.5 694.9 L261.2 694.3 L263.5 693.7 L264.6 693.1 L265.2 692.0 L265.2 690.8 L264.6 689.6 L262.9 689.0 L260.6 689.0M271.2 700.2 L270.7 700.8 L271.2 701.4 L271.8 700.8 L271.2 700.2M284.7 689.0 L279.0 701.4M276.8 689.0 L284.7 689.0M292.3 689.0 L290.6 689.6 L290.0 690.8 L290.0 692.0 L290.6 693.1 L291.7 693.7 L294.0 694.3 L295.7 694.9 L296.9 696.1 L297.4 697.3 L297.4 699.0 L296.9 700.2 L296.3 700.8 L294.6 701.4 L292.3 701.4 L290.6 700.8 L290.0 700.2 L289.4 699.0 L289.4 697.3 L290.0 696.1 L291.2 694.9 L292.9 694.3 L295.1 693.7 L296.3 693.1 L296.9 692.0 L296.9 690.8 L296.3 689.6 L294.6 689.0 L292.3 689.0M388.6 692.0 L388.6 691.4 L389.2 690.2 L389.8 689.6 L390.9 689.0 L393.2 689.0 L394.3 689.6 L394.9 690.2 L395.4 691.4 L395.4 692.5 L394.9 693.7 L393.7 695.5 L388.1 701.4 L396.0 701.4M406.3 689.0 L400.7 697.3 L409.2 697.3M406.3 689.0 L406.3 701.4M414.1 700.2 L413.5 700.8 L414.1 701.4 L414.7 700.8 L414.1 700.2M422.4 689.0 L420.7 689.6 L420.1 690.8 L420.1 692.0 L420.7 693.1 L421.9 693.7 L424.1 694.3 L425.8 694.9 L427.0 696.1 L427.5 697.3 L427.5 699.0 L427.0 700.2 L426.4 700.8 L424.7 701.4 L422.4 701.4 L420.7 700.8 L420.1 700.2 L419.6 699.0 L419.6 697.3 L420.1 696.1 L421.3 694.9 L423.0 694.3 L425.3 693.7 L426.4 693.1 L427.0 692.0 L427.0 690.8 L426.4 689.6 L424.7 689.0 L422.4 689.0M435.0 689.0 L433.3 689.6 L432.8 690.8 L432.8 692.0 L433.3 693.1 L434.5 693.7 L436.7 694.3 L438.4 694.9 L439.6 696.1 L440.1 697.3 L440.1 699.0 L439.6 700.2 L439.0 700.8 L437.3 701.4 L435.0 701.4 L433.3 700.8 L432.8 700.2 L432.2 699.0 L432.2 697.3 L432.8 696.1 L433.9 694.9 L435.6 694.3 L437.9 693.7 L439.0 693.1 L439.6 692.0 L439.6 690.8 L439.0 689.6 L437.3 689.0 L435.0 689.0M543.7 693.1 L543.1 694.9 L542.0 696.1 L540.3 696.7 L539.7 696.7 L538.0 696.1 L536.8 694.9 L536.3 693.1 L536.3 692.5 L536.8 690.8 L538.0 689.6 L539.7 689.0 L540.3 689.0 L542.0 689.6 L543.1 690.8 L543.7 693.1 L543.7 696.1 L543.1 699.0 L542.0 700.8 L540.3 701.4 L539.1 701.4 L537.4 700.8 L536.8 699.6M551.8 689.0 L550.1 689.6 L549.5 690.8 L549.5 692.0 L550.1 693.1 L551.2 693.7 L553.5 694.3 L555.2 694.9 L556.3 696.1 L556.9 697.3 L556.9 699.0 L556.3 700.2 L555.8 700.8 L554.1 701.4 L551.8 701.4 L550.1 700.8 L549.5 700.2 L548.9 699.0 L548.9 697.3 L549.5 696.1 L550.6 694.9 L552.3 694.3 L554.6 693.7 L555.8 693.1 L556.3 692.0 L556.3 690.8 L555.8 689.6 L554.1 689.0 L551.8 689.0M562.4 700.2 L561.8 700.8 L562.4 701.4 L563.0 700.8 L562.4 700.2M575.3 690.8 L574.7 689.6 L573.0 689.0 L571.9 689.0 L570.2 689.6 L569.0 691.4 L568.5 694.3 L568.5 697.3 L569.0 699.6 L570.2 700.8 L571.9 701.4 L572.5 701.4 L574.2 700.8 L575.3 699.6 L575.9 697.9 L575.9 697.3 L575.3 695.5 L574.2 694.3 L572.5 693.7 L571.9 693.7 L570.2 694.3 L569.0 695.5 L568.5 697.3M588.5 689.0 L582.8 701.4M580.6 689.0 L588.5 689.0M735.1 691.4 L736.2 690.8 L737.9 689.0 L737.9 701.4M748.5 689.0 L746.8 689.6 L746.3 690.8 L746.3 692.0 L746.8 693.1 L747.9 693.7 L750.2 694.3 L751.8 694.9 L752.9 696.1 L753.5 697.3 L753.5 699.0 L752.9 700.2 L752.4 700.8 L750.7 701.4 L748.5 701.4 L746.8 700.8 L746.3 700.2 L745.7 699.0 L745.7 697.3 L746.3 696.1 L747.4 694.9 L749.0 694.3 L751.3 693.7 L752.4 693.1 L752.9 692.0 L752.9 690.8 L752.4 689.6 L750.7 689.0 L748.5 689.0M758.8 700.2 L758.3 700.8 L758.8 701.4 L759.4 700.8 L758.8 700.2M765.8 691.4 L766.9 690.8 L768.6 689.0 L768.6 701.4M779.8 689.0 L778.1 689.6 L777.0 691.4 L776.5 694.3 L776.5 696.1 L777.0 699.0 L778.1 700.8 L779.8 701.4 L780.9 701.4 L782.6 700.8 L783.7 699.0 L784.2 696.1 L784.2 694.3 L783.7 691.4 L782.6 689.6 L780.9 689.0 L779.8 689.0M889.9 689.0 L888.3 689.6 L887.2 691.4 L886.6 694.3 L886.6 696.1 L887.2 699.0 L888.3 700.8 L889.9 701.4 L891.1 701.4 L892.7 700.8 L893.8 699.0 L894.4 696.1 L894.4 694.3 L893.8 691.4 L892.7 689.6 L891.1 689.0 L889.9 689.0M899.7 700.2 L899.2 700.8 L899.7 701.4 L900.3 700.8 L899.7 700.2M912.3 693.1 L911.7 694.9 L910.6 696.1 L909.0 696.7 L908.4 696.7 L906.7 696.1 L905.6 694.9 L905.1 693.1 L905.1 692.5 L905.6 690.8 L906.7 689.6 L908.4 689.0 L909.0 689.0 L910.6 689.6 L911.7 690.8 L912.3 693.1 L912.3 696.1 L911.7 699.0 L910.6 700.8 L909.0 701.4 L907.8 701.4 L906.2 700.8 L905.6 699.6M924.6 690.8 L924.0 689.6 L922.4 689.0 L921.3 689.0 L919.6 689.6 L918.5 691.4 L917.9 694.3 L917.9 697.3 L918.5 699.6 L919.6 700.8 L921.3 701.4 L921.8 701.4 L923.5 700.8 L924.6 699.6 L925.1 697.9 L925.1 697.3 L924.6 695.5 L923.5 694.3 L921.8 693.7 L921.3 693.7 L919.6 694.3 L918.5 695.5 L917.9 697.3M1029.6 689.0 L1024.0 689.0 L1023.5 694.3 L1024.0 693.7 L1025.7 693.1 L1027.4 693.1 L1029.0 693.7 L1030.1 694.9 L1030.7 696.7 L1030.7 697.9 L1030.1 699.6 L1029.0 700.8 L1027.4 701.4 L1025.7 701.4 L1024.0 700.8 L1023.5 700.2 L1022.9 699.0M1036.9 691.4 L1038.0 690.8 L1039.7 689.0 L1039.7 701.4M1048.3 700.2 L1047.8 700.8 L1048.3 701.4 L1048.9 700.8 L1048.3 700.2M1055.3 691.4 L1056.4 690.8 L1058.1 689.0 L1058.1 701.4M1073.2 690.8 L1072.6 689.6 L1071.0 689.0 L1069.9 689.0 L1068.2 689.6 L1067.1 691.4 L1066.5 694.3 L1066.5 697.3 L1067.1 699.6 L1068.2 700.8 L1069.9 701.4 L1070.4 701.4 L1072.1 700.8 L1073.2 699.6 L1073.7 697.9 L1073.7 697.3 L1073.2 695.5 L1072.1 694.3 L1070.4 693.7 L1069.9 693.7 L1068.2 694.3 L1067.1 695.5 L1066.5 697.3M186.7 750.7 L181.3 750.7 L180.7 756.0 L181.3 755.4 L182.9 754.8 L184.5 754.8 L186.1 755.4 L187.2 756.6 L187.8 758.4 L187.8 759.6 L187.2 761.3 L186.1 762.5 L184.5 763.1 L182.9 763.1 L181.3 762.5 L180.7 761.9 L180.2 760.7M229.2 753.1 L230.2 752.5 L231.9 750.7 L231.9 763.1M246.0 750.7 L240.6 750.7 L240.1 756.0 L240.6 755.4 L242.2 754.8 L243.9 754.8 L245.5 755.4 L246.6 756.6 L247.1 758.4 L247.1 759.6 L246.6 761.3 L245.5 762.5 L243.9 763.1 L242.2 763.1 L240.6 762.5 L240.1 761.9 L239.5 760.7M283.1 753.7 L283.1 753.1 L283.6 751.9 L284.1 751.3 L285.2 750.7 L287.4 750.7 L288.5 751.3 L289.0 751.9 L289.5 753.1 L289.5 754.2 L289.0 755.4 L287.9 757.2 L282.5 763.1 L290.1 763.1M301.0 750.7 L295.6 750.7 L295.1 756.0 L295.6 755.4 L297.2 754.8 L298.8 754.8 L300.5 755.4 L301.5 756.6 L302.1 758.4 L302.1 759.6 L301.5 761.3 L300.5 762.5 L298.8 763.1 L297.2 763.1 L295.6 762.5 L295.1 761.9 L294.5 760.7M342.1 750.7 L336.7 759.0 L344.8 759.0M342.1 750.7 L342.1 763.1M351.9 750.7 L350.3 751.3 L349.2 753.1 L348.7 756.0 L348.7 757.8 L349.2 760.7 L350.3 762.5 L351.9 763.1 L353.0 763.1 L354.6 762.5 L355.7 760.7 L356.2 757.8 L356.2 756.0 L355.7 753.1 L354.6 751.3 L353.0 750.7 L351.9 750.7M397.6 752.5 L397.0 751.3 L395.4 750.7 L394.3 750.7 L392.7 751.3 L391.6 753.1 L391.1 756.0 L391.1 759.0 L391.6 761.3 L392.7 762.5 L394.3 763.1 L394.9 763.1 L396.5 762.5 L397.6 761.3 L398.1 759.6 L398.1 759.0 L397.6 757.2 L396.5 756.0 L394.9 755.4 L394.3 755.4 L392.7 756.0 L391.6 757.2 L391.1 759.0M405.8 750.7 L404.2 751.3 L403.1 753.1 L402.6 756.0 L402.6 757.8 L403.1 760.7 L404.2 762.5 L405.8 763.1 L406.9 763.1 L408.5 762.5 L409.6 760.7 L410.1 757.8 L410.1 756.0 L409.6 753.1 L408.5 751.3 L406.9 750.7 L405.8 750.7M452.6 750.7 L447.2 763.1M445.0 750.7 L452.6 750.7M463.5 750.7 L458.1 750.7 L457.5 756.0 L458.1 755.4 L459.7 754.8 L461.3 754.8 L462.9 755.4 L464.0 756.6 L464.6 758.4 L464.6 759.6 L464.0 761.3 L462.9 762.5 L461.3 763.1 L459.7 763.1 L458.1 762.5 L457.5 761.9 L457.0 760.7M501.9 750.7 L500.2 751.3 L499.7 752.5 L499.7 753.7 L500.2 754.8 L501.3 755.4 L503.5 756.0 L505.1 756.6 L506.2 757.8 L506.7 759.0 L506.7 760.7 L506.2 761.9 L505.6 762.5 L504.0 763.1 L501.9 763.1 L500.2 762.5 L499.7 761.9 L499.2 760.7 L499.2 759.0 L499.7 757.8 L500.8 756.6 L502.4 756.0 L504.6 755.4 L505.6 754.8 L506.2 753.7 L506.2 752.5 L505.6 751.3 L504.0 750.7 L501.9 750.7M517.6 750.7 L512.2 750.7 L511.7 756.0 L512.2 755.4 L513.9 754.8 L515.5 754.8 L517.1 755.4 L518.2 756.6 L518.7 758.4 L518.7 759.6 L518.2 761.3 L517.1 762.5 L515.5 763.1 L513.9 763.1 L512.2 762.5 L511.7 761.9 L511.2 760.7M560.3 754.8 L559.8 756.6 L558.7 757.8 L557.1 758.4 L556.6 758.4 L554.9 757.8 L553.9 756.6 L553.3 754.8 L553.3 754.2 L553.9 752.5 L554.9 751.3 L556.6 750.7 L557.1 750.7 L558.7 751.3 L559.8 752.5 L560.3 754.8 L560.3 757.8 L559.8 760.7 L558.7 762.5 L557.1 763.1 L556.0 763.1 L554.4 762.5 L553.9 761.3M571.8 750.7 L566.4 750.7 L565.9 756.0 L566.4 755.4 L568.0 754.8 L569.6 754.8 L571.3 755.4 L572.3 756.6 L572.9 758.4 L572.9 759.6 L572.3 761.3 L571.3 762.5 L569.6 763.1 L568.0 763.1 L566.4 762.5 L565.9 761.9 L565.3 760.7M672.9 750.7 L667.5 750.7 L666.9 756.0 L667.5 755.4 L669.1 754.8 L670.7 754.8 L672.3 755.4 L673.4 756.6 L674.0 758.4 L674.0 759.6 L673.4 761.3 L672.3 762.5 L670.7 763.1 L669.1 763.1 L667.5 762.5 L666.9 761.9 L666.4 760.7M715.4 753.1 L716.4 752.5 L718.1 750.7 L718.1 763.1M732.2 750.7 L726.8 750.7 L726.3 756.0 L726.8 755.4 L728.4 754.8 L730.1 754.8 L731.7 755.4 L732.8 756.6 L733.3 758.4 L733.3 759.6 L732.8 761.3 L731.7 762.5 L730.1 763.1 L728.4 763.1 L726.8 762.5 L726.3 761.9 L725.8 760.7M769.3 753.7 L769.3 753.1 L769.8 751.9 L770.3 751.3 L771.4 750.7 L773.6 750.7 L774.7 751.3 L775.2 751.9 L775.7 753.1 L775.7 754.2 L775.2 755.4 L774.1 757.2 L768.7 763.1 L776.3 763.1M787.2 750.7 L781.8 750.7 L781.3 756.0 L781.8 755.4 L783.4 754.8 L785.0 754.8 L786.7 755.4 L787.7 756.6 L788.3 758.4 L788.3 759.6 L787.7 761.3 L786.7 762.5 L785.0 763.1 L783.4 763.1 L781.8 762.5 L781.3 761.9 L780.7 760.7M828.3 750.7 L822.9 759.0 L831.0 759.0M828.3 750.7 L828.3 763.1M838.1 750.7 L836.5 751.3 L835.4 753.1 L834.9 756.0 L834.9 757.8 L835.4 760.7 L836.5 762.5 L838.1 763.1 L839.2 763.1 L840.8 762.5 L841.9 760.7 L842.4 757.8 L842.4 756.0 L841.9 753.1 L840.8 751.3 L839.2 750.7 L838.1 750.7M883.8 752.5 L883.2 751.3 L881.6 750.7 L880.5 750.7 L878.9 751.3 L877.8 753.1 L877.3 756.0 L877.3 759.0 L877.8 761.3 L878.9 762.5 L880.5 763.1 L881.1 763.1 L882.7 762.5 L883.8 761.3 L884.3 759.6 L884.3 759.0 L883.8 757.2 L882.7 756.0 L881.1 755.4 L880.5 755.4 L878.9 756.0 L877.8 757.2 L877.3 759.0M892.0 750.7 L890.4 751.3 L889.3 753.1 L888.8 756.0 L888.8 757.8 L889.3 760.7 L890.4 762.5 L892.0 763.1 L893.1 763.1 L894.7 762.5 L895.8 760.7 L896.3 757.8 L896.3 756.0 L895.8 753.1 L894.7 751.3 L893.1 750.7 L892.0 750.7M938.8 750.7 L933.4 763.1M931.2 750.7 L938.8 750.7M949.7 750.7 L944.3 750.7 L943.7 756.0 L944.3 755.4 L945.9 754.8 L947.5 754.8 L949.1 755.4 L950.2 756.6 L950.8 758.4 L950.8 759.6 L950.2 761.3 L949.1 762.5 L947.5 763.1 L945.9 763.1 L944.3 762.5 L943.7 761.9 L943.2 760.7M988.1 750.7 L986.4 751.3 L985.9 752.5 L985.9 753.7 L986.4 754.8 L987.5 755.4 L989.7 756.0 L991.3 756.6 L992.4 757.8 L992.9 759.0 L992.9 760.7 L992.4 761.9 L991.8 762.5 L990.2 763.1 L988.1 763.1 L986.4 762.5 L985.9 761.9 L985.4 760.7 L985.4 759.0 L985.9 757.8 L987.0 756.6 L988.6 756.0 L990.8 755.4 L991.8 754.8 L992.4 753.7 L992.4 752.5 L991.8 751.3 L990.2 750.7 L988.1 750.7M1003.8 750.7 L998.4 750.7 L997.9 756.0 L998.4 755.4 L1000.1 754.8 L1001.7 754.8 L1003.3 755.4 L1004.4 756.6 L1004.9 758.4 L1004.9 759.6 L1004.4 761.3 L1003.3 762.5 L1001.7 763.1 L1000.1 763.1 L998.4 762.5 L997.9 761.9 L997.4 760.7M1046.5 754.8 L1046.0 756.6 L1044.9 757.8 L1043.3 758.4 L1042.8 758.4 L1041.1 757.8 L1040.1 756.6 L1039.5 754.8 L1039.5 754.2 L1040.1 752.5 L1041.1 751.3 L1042.8 750.7 L1043.3 750.7 L1044.9 751.3 L1046.0 752.5 L1046.5 754.8 L1046.5 757.8 L1046.0 760.7 L1044.9 762.5 L1043.3 763.1 L1042.2 763.1 L1040.6 762.5 L1040.1 761.3M1058.0 750.7 L1052.6 750.7 L1052.1 756.0 L1052.6 755.4 L1054.2 754.8 L1055.8 754.8 L1057.5 755.4 L1058.5 756.6 L1059.1 758.4 L1059.1 759.6 L1058.5 761.3 L1057.5 762.5 L1055.8 763.1 L1054.2 763.1 L1052.6 762.5 L1052.1 761.9 L1051.5 760.7M866.1 960.0 L866.1 972.4M866.1 960.0 L870.7 972.4M875.4 960.0 L870.7 972.4M875.4 960.0 L875.4 972.4M881.1 960.0 L881.1 972.4M886.8 960.0 L886.8 972.4M886.8 960.0 L894.9 972.4M894.9 960.0 L894.9 972.4M910.1 965.3 L921.4 965.3M910.1 968.9 L921.4 968.9M947.6 962.4 L948.7 961.8 L950.4 960.0 L950.4 972.4M959.9 962.4 L961.0 961.8 L962.7 960.0 L962.7 972.4M971.4 971.2 L970.9 971.8 L971.4 972.4 L972.0 971.8 L971.4 971.2M984.6 960.0 L979.0 972.4M976.8 960.0 L984.6 960.0M996.4 961.8 L995.8 960.6 L994.1 960.0 L993.0 960.0 L991.4 960.6 L990.3 962.4 L989.7 965.3 L989.7 968.3 L990.3 970.6 L991.4 971.8 L993.0 972.4 L993.6 972.4 L995.3 971.8 L996.4 970.6 L996.9 968.9 L996.9 968.3 L996.4 966.5 L995.3 965.3 L993.6 964.7 L993.0 964.7 L991.4 965.3 L990.3 966.5 L989.7 968.3M1011.1 960.0 L1011.1 972.4M1011.1 960.0 L1015.7 972.4M1020.3 960.0 L1015.7 972.4M1020.3 960.0 L1020.3 972.4M1029.2 960.0 L1024.6 972.4M1029.2 960.0 L1033.8 972.4M1026.3 968.3 L1032.1 968.3M1037.3 960.0 L1045.4 972.4M1045.4 960.0 L1037.3 972.4M1060.1 965.3 L1070.9 965.3M1060.1 968.9 L1070.9 968.9M1097.1 960.0 L1095.4 960.6 L1094.8 961.8 L1094.8 963.0 L1095.4 964.1 L1096.5 964.7 L1098.8 965.3 L1100.5 965.9 L1101.6 967.1 L1102.1 968.3 L1102.1 970.0 L1101.6 971.2 L1101.0 971.8 L1099.3 972.4 L1097.1 972.4 L1095.4 971.8 L1094.8 971.2 L1094.3 970.0 L1094.3 968.3 L1094.8 967.1 L1096.0 965.9 L1097.6 965.3 L1099.9 964.7 L1101.0 964.1 L1101.6 963.0 L1101.6 961.8 L1101.0 960.6 L1099.3 960.0 L1097.1 960.0M1112.4 960.0 L1106.8 968.3 L1115.2 968.3M1112.4 960.0 L1112.4 972.4M1120.1 971.2 L1119.5 971.8 L1120.1 972.4 L1120.6 971.8 L1120.1 971.2M1126.6 960.0 L1132.8 960.0 L1129.4 964.7 L1131.1 964.7 L1132.2 965.3 L1132.8 965.9 L1133.4 967.7 L1133.4 968.9 L1132.8 970.6 L1131.7 971.8 L1130.0 972.4 L1128.3 972.4 L1126.6 971.8 L1126.1 971.2 L1125.5 970.0M1143.6 960.0 L1138.0 968.3 L1146.4 968.3M1143.6 960.0 L1143.6 972.4M1032.8 1029.0 L1027.4 1029.0 L1026.9 1034.3 L1027.4 1033.7 L1029.0 1033.1 L1030.6 1033.1 L1032.3 1033.7 L1033.3 1034.9 L1033.9 1036.7 L1033.9 1037.8 L1033.3 1039.6 L1032.3 1040.8 L1030.6 1041.4 L1029.0 1041.4 L1027.4 1040.8 L1026.9 1040.2 L1026.3 1039.0M1041.6 1029.0 L1039.9 1029.6 L1038.9 1031.4 L1038.3 1034.3 L1038.3 1036.1 L1038.9 1039.0 L1039.9 1040.8 L1041.6 1041.4 L1042.6 1041.4 L1044.3 1040.8 L1045.3 1039.0 L1045.9 1036.1 L1045.9 1034.3 L1045.3 1031.4 L1044.3 1029.6 L1042.6 1029.0 L1041.6 1029.0M1031.7 1051.5 L1026.3 1059.7 L1034.4 1059.7M1031.7 1051.5 L1031.7 1063.9M1041.6 1051.5 L1039.9 1052.1 L1038.9 1053.8 L1038.3 1056.8 L1038.3 1058.6 L1038.9 1061.5 L1039.9 1063.3 L1041.6 1063.9 L1042.6 1063.9 L1044.3 1063.3 L1045.3 1061.5 L1045.9 1058.6 L1045.9 1056.8 L1045.3 1053.8 L1044.3 1052.1 L1042.6 1051.5 L1041.6 1051.5M1027.4 1074.0 L1033.3 1074.0 L1030.1 1078.7 L1031.7 1078.7 L1032.8 1079.3 L1033.3 1079.9 L1033.9 1081.6 L1033.9 1082.8 L1033.3 1084.6 L1032.3 1085.8 L1030.6 1086.4 L1029.0 1086.4 L1027.4 1085.8 L1026.9 1085.2 L1026.3 1084.0M1041.6 1074.0 L1039.9 1074.6 L1038.9 1076.3 L1038.3 1079.3 L1038.3 1081.1 L1038.9 1084.0 L1039.9 1085.8 L1041.6 1086.4 L1042.6 1086.4 L1044.3 1085.8 L1045.3 1084.0 L1045.9 1081.1 L1045.9 1079.3 L1045.3 1076.3 L1044.3 1074.6 L1042.6 1074.0 L1041.6 1074.0M1026.9 1099.4 L1026.9 1098.8 L1027.4 1097.6 L1027.9 1097.1 L1029.0 1096.5 L1031.2 1096.5 L1032.3 1097.1 L1032.8 1097.6 L1033.3 1098.8 L1033.3 1100.0 L1032.8 1101.2 L1031.7 1103.0 L1026.3 1108.9 L1033.9 1108.9M1041.6 1096.5 L1039.9 1097.1 L1038.9 1098.8 L1038.3 1101.8 L1038.3 1103.5 L1038.9 1106.5 L1039.9 1108.3 L1041.6 1108.9 L1042.6 1108.9 L1044.3 1108.3 L1045.3 1106.5 L1045.9 1103.5 L1045.9 1101.8 L1045.3 1098.8 L1044.3 1097.1 L1042.6 1096.5 L1041.6 1096.5M1027.1 1121.3 L1028.2 1120.7 L1029.8 1119.0 L1029.8 1131.3M1044.0 1119.0 L1038.6 1119.0 L1038.0 1124.3 L1038.6 1123.7 L1040.2 1123.1 L1041.8 1123.1 L1043.5 1123.7 L1044.5 1124.9 L1045.1 1126.6 L1045.1 1127.8 L1044.5 1129.6 L1043.5 1130.8 L1041.8 1131.3 L1040.2 1131.3 L1038.6 1130.8 L1038.0 1130.2 L1037.5 1129.0M1027.1 1143.8 L1028.2 1143.2 L1029.8 1141.4 L1029.8 1153.8M1040.8 1141.4 L1039.1 1142.0 L1038.0 1143.8 L1037.5 1146.8 L1037.5 1148.5 L1038.0 1151.5 L1039.1 1153.2 L1040.8 1153.8 L1041.8 1153.8 L1043.5 1153.2 L1044.5 1151.5 L1045.1 1148.5 L1045.1 1146.8 L1044.5 1143.8 L1043.5 1142.0 L1041.8 1141.4 L1040.8 1141.4M1038.8 1163.9 L1033.4 1163.9 L1032.9 1169.2 L1033.4 1168.7 L1035.0 1168.1 L1036.6 1168.1 L1038.3 1168.7 L1039.3 1169.8 L1039.9 1171.6 L1039.9 1172.8 L1039.3 1174.6 L1038.3 1175.7 L1036.6 1176.3 L1035.0 1176.3 L1033.4 1175.7 L1032.9 1175.1 L1032.3 1174.0M1035.6 1186.4 L1033.9 1187.0 L1032.9 1188.8 L1032.3 1191.7 L1032.3 1193.5 L1032.9 1196.5 L1033.9 1198.2 L1035.6 1198.8 L1036.6 1198.8 L1038.3 1198.2 L1039.3 1196.5 L1039.9 1193.5 L1039.9 1191.7 L1039.3 1188.8 L1038.3 1187.0 L1036.6 1186.4 L1035.6 1186.4M1025.8 1216.0 L1035.5 1216.0M1045.3 1208.9 L1039.9 1208.9 L1039.4 1214.2 L1039.9 1213.6 L1041.6 1213.0 L1043.2 1213.0 L1044.8 1213.6 L1045.9 1214.8 L1046.4 1216.6 L1046.4 1217.8 L1045.9 1219.5 L1044.8 1220.7 L1043.2 1221.3 L1041.6 1221.3 L1039.9 1220.7 L1039.4 1220.1 L1038.9 1219.0M1019.8 1238.5 L1029.5 1238.5M1034.5 1233.8 L1035.6 1233.2 L1037.2 1231.4 L1037.2 1243.8M1048.1 1231.4 L1046.5 1232.0 L1045.4 1233.8 L1044.9 1236.7 L1044.9 1238.5 L1045.4 1241.4 L1046.5 1243.2 L1048.1 1243.8 L1049.2 1243.8 L1050.8 1243.2 L1051.9 1241.4 L1052.4 1238.5 L1052.4 1236.7 L1051.9 1233.8 L1050.8 1232.0 L1049.2 1231.4 L1048.1 1231.4M1019.8 1261.0 L1029.5 1261.0M1034.5 1256.3 L1035.6 1255.7 L1037.2 1253.9 L1037.2 1266.3M1051.3 1253.9 L1045.9 1253.9 L1045.4 1259.2 L1045.9 1258.6 L1047.6 1258.0 L1049.2 1258.0 L1050.8 1258.6 L1051.9 1259.8 L1052.4 1261.6 L1052.4 1262.8 L1051.9 1264.5 L1050.8 1265.7 L1049.2 1266.3 L1047.6 1266.3 L1045.9 1265.7 L1045.4 1265.1 L1044.9 1263.9M1019.8 1283.5 L1029.5 1283.5M1033.4 1279.3 L1033.4 1278.8 L1033.9 1277.6 L1034.5 1277.0 L1035.6 1276.4 L1037.7 1276.4 L1038.8 1277.0 L1039.3 1277.6 L1039.9 1278.8 L1039.9 1279.9 L1039.3 1281.1 L1038.3 1282.9 L1032.9 1288.8 L1040.4 1288.8M1048.1 1276.4 L1046.5 1277.0 L1045.4 1278.8 L1044.9 1281.7 L1044.9 1283.5 L1045.4 1286.4 L1046.5 1288.2 L1048.1 1288.8 L1049.2 1288.8 L1050.8 1288.2 L1051.9 1286.4 L1052.4 1283.5 L1052.4 1281.7 L1051.9 1278.8 L1050.8 1277.0 L1049.2 1276.4 L1048.1 1276.4M1019.8 1306.0 L1029.5 1306.0M1033.9 1298.9 L1039.9 1298.9 L1036.6 1303.6 L1038.3 1303.6 L1039.3 1304.2 L1039.9 1304.8 L1040.4 1306.5 L1040.4 1307.7 L1039.9 1309.5 L1038.8 1310.7 L1037.2 1311.3 L1035.6 1311.3 L1033.9 1310.7 L1033.4 1310.1 L1032.9 1308.9M1048.1 1298.9 L1046.5 1299.5 L1045.4 1301.2 L1044.9 1304.2 L1044.9 1306.0 L1045.4 1308.9 L1046.5 1310.7 L1048.1 1311.3 L1049.2 1311.3 L1050.8 1310.7 L1051.9 1308.9 L1052.4 1306.0 L1052.4 1304.2 L1051.9 1301.2 L1050.8 1299.5 L1049.2 1298.9 L1048.1 1298.9M1019.8 1328.5 L1029.5 1328.5M1038.3 1321.4 L1032.9 1329.6 L1041.0 1329.6M1038.3 1321.4 L1038.3 1333.8M1048.1 1321.4 L1046.5 1322.0 L1045.4 1323.7 L1044.9 1326.7 L1044.9 1328.5 L1045.4 1331.4 L1046.5 1333.2 L1048.1 1333.8 L1049.2 1333.8 L1050.8 1333.2 L1051.9 1331.4 L1052.4 1328.5 L1052.4 1326.7 L1051.9 1323.7 L1050.8 1322.0 L1049.2 1321.4 L1048.1 1321.4M1019.8 1350.9 L1029.5 1350.9M1039.3 1343.9 L1033.9 1343.9 L1033.4 1349.2 L1033.9 1348.6 L1035.6 1348.0 L1037.2 1348.0 L1038.8 1348.6 L1039.9 1349.8 L1040.4 1351.5 L1040.4 1352.7 L1039.9 1354.5 L1038.8 1355.7 L1037.2 1356.2 L1035.6 1356.2 L1033.9 1355.7 L1033.4 1355.1 L1032.9 1353.9M1048.1 1343.9 L1046.5 1344.5 L1045.4 1346.2 L1044.9 1349.2 L1044.9 1350.9 L1045.4 1353.9 L1046.5 1355.7 L1048.1 1356.2 L1049.2 1356.2 L1050.8 1355.7 L1051.9 1353.9 L1052.4 1350.9 L1052.4 1349.2 L1051.9 1346.2 L1050.8 1344.5 L1049.2 1343.9 L1048.1 1343.9" fill="none" stroke="#000" stroke-width="1.15" stroke-linecap="round" stroke-linejoin="round"/>
</svg>
<div class="t" id="t0" style="left:576.2px;top:32.1px;font-size:41.95px;transform:scaleY(1.045);transform-origin:0 84.65%;">DJF</div>
<div class="t" id="t1" style="left:133.4px;top:87.1px;font-size:24.72px;transform:scaleY(1.03);transform-origin:0 84.65%;">CESM2B2_Oslo_noFC55CLUBB (yrs 2-5)</div>
<div class="t" id="t2" style="left:801.9px;top:89.4px;font-size:24.72px;transform:scaleY(1.03);transform-origin:0 84.65%;">ISCCP D2</div>
<div class="t" id="t3" style="left:360.4px;top:809.4px;font-size:24.72px;transform:scaleY(1.03);transform-origin:0 84.65%;">CESM2B2_Oslo_noFC55CLUBB - ISCCP D2</div>
</body></html>
